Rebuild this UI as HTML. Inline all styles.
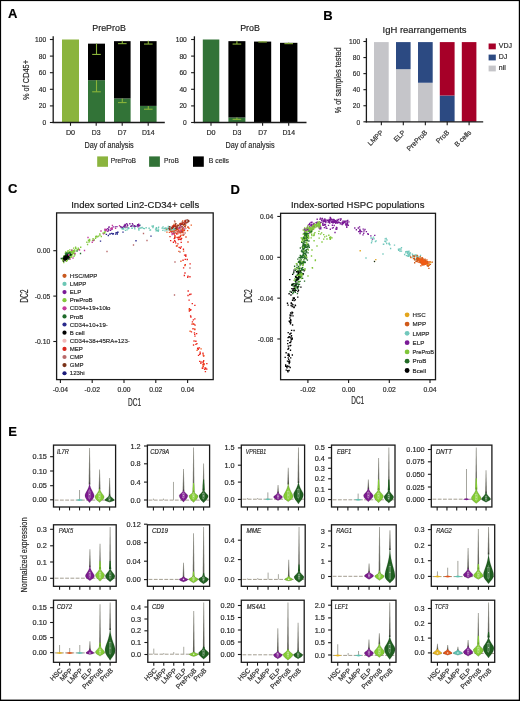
<!DOCTYPE html>
<html><head><meta charset="utf-8"><style>
html,body{margin:0;padding:0;background:#fff;}
body{width:520px;height:701px;overflow:hidden;}
svg{display:block;font-family:"Liberation Sans", sans-serif;will-change:transform;}
</style></head><body>
<svg width="520" height="701" viewBox="0 0 520 701">
<defs><linearGradient id="tg" x1="0" y1="0" x2="0" y2="1"><stop offset="0" stop-color="#a4a49c"/><stop offset="0.5" stop-color="#7a7a72"/><stop offset="1" stop-color="#55554d"/></linearGradient></defs>
<rect x="0" y="0" width="520" height="701" fill="#fff"/>
<text x="8" y="18.1" font-size="13" fill="#000" stroke="#000" stroke-width="0.18" font-weight="bold">A</text>
<text x="323.2" y="19.9" font-size="13" fill="#000" stroke="#000" stroke-width="0.18" font-weight="bold">B</text>
<text x="8" y="193.3" font-size="13" fill="#000" stroke="#000" stroke-width="0.18" font-weight="bold">C</text>
<text x="230.6" y="194" font-size="13" fill="#000" stroke="#000" stroke-width="0.18" font-weight="bold">D</text>
<text x="8.3" y="435.8" font-size="13" fill="#000" stroke="#000" stroke-width="0.18" font-weight="bold">E</text>
<rect x="62" y="39.5" width="17" height="83" fill="#8bb43e"/>
<rect x="88" y="80.17" width="17" height="42.33" fill="#327337"/>
<rect x="88" y="43.65" width="17" height="36.52" fill="#000"/>
<line x1="96.5" y1="43.65" x2="96.5" y2="54.44" stroke="#8ab43a" stroke-width="1.1"/>
<line x1="92.2" y1="54.44" x2="100.8" y2="54.44" stroke="#8ab43a" stroke-width="1.1"/>
<line x1="96.5" y1="80.17" x2="96.5" y2="91.79" stroke="#8ab43a" stroke-width="1.1"/>
<line x1="92.2" y1="91.79" x2="100.8" y2="91.79" stroke="#8ab43a" stroke-width="1.1"/>
<rect x="114" y="98.43" width="16.6" height="24.07" fill="#327337"/>
<rect x="114" y="41.16" width="16.6" height="57.27" fill="#000"/>
<line x1="122.3" y1="40.75" x2="122.3" y2="43.65" stroke="#8ab43a" stroke-width="1.1"/>
<line x1="118" y1="43.65" x2="126.6" y2="43.65" stroke="#8ab43a" stroke-width="1.1"/>
<line x1="122.3" y1="98.43" x2="122.3" y2="102.58" stroke="#8ab43a" stroke-width="1.1"/>
<line x1="118" y1="102.58" x2="126.6" y2="102.58" stroke="#8ab43a" stroke-width="1.1"/>
<rect x="140" y="105.9" width="16.6" height="16.6" fill="#327337"/>
<rect x="140" y="41.16" width="16.6" height="64.74" fill="#000"/>
<line x1="148.3" y1="40.75" x2="148.3" y2="44.06" stroke="#8ab43a" stroke-width="1.1"/>
<line x1="144" y1="44.06" x2="152.6" y2="44.06" stroke="#8ab43a" stroke-width="1.1"/>
<line x1="148.3" y1="105.9" x2="148.3" y2="109.22" stroke="#8ab43a" stroke-width="1.1"/>
<line x1="144" y1="109.22" x2="152.6" y2="109.22" stroke="#8ab43a" stroke-width="1.1"/>
<line x1="53.2" y1="36.3" x2="53.2" y2="123.1" stroke="#1a1a1a" stroke-width="1.3"/>
<line x1="52.6" y1="122.5" x2="164.8" y2="122.5" stroke="#1a1a1a" stroke-width="1.3"/>
<line x1="49.9" y1="122.5" x2="53.2" y2="122.5" stroke="#1a1a1a" stroke-width="1.1"/>
<text x="46.2" y="125.05" font-size="7.1" fill="#2a2a2a" stroke="#2a2a2a" stroke-width="0.18" text-anchor="end" textLength="3.7" lengthAdjust="spacingAndGlyphs">0</text>
<line x1="49.9" y1="105.9" x2="53.2" y2="105.9" stroke="#1a1a1a" stroke-width="1.1"/>
<text x="46.2" y="108.45" font-size="7.1" fill="#2a2a2a" stroke="#2a2a2a" stroke-width="0.18" text-anchor="end" textLength="7.4" lengthAdjust="spacingAndGlyphs">20</text>
<line x1="49.9" y1="89.3" x2="53.2" y2="89.3" stroke="#1a1a1a" stroke-width="1.1"/>
<text x="46.2" y="91.85" font-size="7.1" fill="#2a2a2a" stroke="#2a2a2a" stroke-width="0.18" text-anchor="end" textLength="7.4" lengthAdjust="spacingAndGlyphs">40</text>
<line x1="49.9" y1="72.7" x2="53.2" y2="72.7" stroke="#1a1a1a" stroke-width="1.1"/>
<text x="46.2" y="75.25" font-size="7.1" fill="#2a2a2a" stroke="#2a2a2a" stroke-width="0.18" text-anchor="end" textLength="7.4" lengthAdjust="spacingAndGlyphs">60</text>
<line x1="49.9" y1="56.1" x2="53.2" y2="56.1" stroke="#1a1a1a" stroke-width="1.1"/>
<text x="46.2" y="58.65" font-size="7.1" fill="#2a2a2a" stroke="#2a2a2a" stroke-width="0.18" text-anchor="end" textLength="7.4" lengthAdjust="spacingAndGlyphs">80</text>
<line x1="49.9" y1="39.5" x2="53.2" y2="39.5" stroke="#1a1a1a" stroke-width="1.1"/>
<text x="46.2" y="42.05" font-size="7.1" fill="#2a2a2a" stroke="#2a2a2a" stroke-width="0.18" text-anchor="end" textLength="11.1" lengthAdjust="spacingAndGlyphs">100</text>
<line x1="70.5" y1="122.5" x2="70.5" y2="125.8" stroke="#1a1a1a" stroke-width="1.1"/>
<text x="70.5" y="135.1" font-size="6.8" fill="#2a2a2a" stroke="#2a2a2a" stroke-width="0.18" text-anchor="middle" textLength="9.2" lengthAdjust="spacingAndGlyphs">D0</text>
<line x1="96.2" y1="122.5" x2="96.2" y2="125.8" stroke="#1a1a1a" stroke-width="1.1"/>
<text x="96.2" y="135.1" font-size="6.8" fill="#2a2a2a" stroke="#2a2a2a" stroke-width="0.18" text-anchor="middle" textLength="8.8" lengthAdjust="spacingAndGlyphs">D3</text>
<line x1="122.2" y1="122.5" x2="122.2" y2="125.8" stroke="#1a1a1a" stroke-width="1.1"/>
<text x="122.2" y="135.1" font-size="6.8" fill="#2a2a2a" stroke="#2a2a2a" stroke-width="0.18" text-anchor="middle" textLength="8.7" lengthAdjust="spacingAndGlyphs">D7</text>
<line x1="148.2" y1="122.5" x2="148.2" y2="125.8" stroke="#1a1a1a" stroke-width="1.1"/>
<text x="148.2" y="135.1" font-size="6.8" fill="#2a2a2a" stroke="#2a2a2a" stroke-width="0.18" text-anchor="middle" textLength="12.6" lengthAdjust="spacingAndGlyphs">D14</text>
<text x="109.1" y="30.5" font-size="8.9" fill="#222" stroke="#222" stroke-width="0.18" text-anchor="middle">PreProB</text>
<text x="109.1" y="148.1" font-size="8.6" fill="#2a2a2a" stroke="#2a2a2a" stroke-width="0.18" text-anchor="middle" textLength="49.2" lengthAdjust="spacingAndGlyphs">Day of analysis</text>
<rect x="202.8" y="39.5" width="16.5" height="83" fill="#327337"/>
<rect x="228.4" y="117.52" width="17" height="4.98" fill="#327337"/>
<rect x="228.4" y="41.16" width="17" height="76.36" fill="#000"/>
<line x1="236.9" y1="40.75" x2="236.9" y2="44.06" stroke="#8ab43a" stroke-width="1.1"/>
<line x1="232.6" y1="44.06" x2="241.2" y2="44.06" stroke="#8ab43a" stroke-width="1.1"/>
<line x1="236.9" y1="117.52" x2="236.9" y2="119.35" stroke="#8ab43a" stroke-width="1.1"/>
<line x1="232.6" y1="119.35" x2="241.2" y2="119.35" stroke="#8ab43a" stroke-width="1.1"/>
<rect x="254" y="41.58" width="17.2" height="80.92" fill="#000"/>
<line x1="262.6" y1="41.16" x2="262.6" y2="41.99" stroke="#8ab43a" stroke-width="1.1"/>
<line x1="258.3" y1="41.99" x2="266.9" y2="41.99" stroke="#8ab43a" stroke-width="1.1"/>
<rect x="280" y="42.82" width="17.4" height="79.68" fill="#000"/>
<line x1="288.7" y1="42.41" x2="288.7" y2="43.65" stroke="#8ab43a" stroke-width="1.1"/>
<line x1="284.4" y1="43.65" x2="293" y2="43.65" stroke="#8ab43a" stroke-width="1.1"/>
<line x1="194.4" y1="36.3" x2="194.4" y2="123.1" stroke="#1a1a1a" stroke-width="1.3"/>
<line x1="193.8" y1="122.5" x2="306.5" y2="122.5" stroke="#1a1a1a" stroke-width="1.3"/>
<line x1="191.1" y1="122.5" x2="194.4" y2="122.5" stroke="#1a1a1a" stroke-width="1.1"/>
<text x="186.8" y="125.05" font-size="7.1" fill="#2a2a2a" stroke="#2a2a2a" stroke-width="0.18" text-anchor="end" textLength="3.7" lengthAdjust="spacingAndGlyphs">0</text>
<line x1="191.1" y1="105.9" x2="194.4" y2="105.9" stroke="#1a1a1a" stroke-width="1.1"/>
<text x="186.8" y="108.45" font-size="7.1" fill="#2a2a2a" stroke="#2a2a2a" stroke-width="0.18" text-anchor="end" textLength="7.4" lengthAdjust="spacingAndGlyphs">20</text>
<line x1="191.1" y1="89.3" x2="194.4" y2="89.3" stroke="#1a1a1a" stroke-width="1.1"/>
<text x="186.8" y="91.85" font-size="7.1" fill="#2a2a2a" stroke="#2a2a2a" stroke-width="0.18" text-anchor="end" textLength="7.4" lengthAdjust="spacingAndGlyphs">40</text>
<line x1="191.1" y1="72.7" x2="194.4" y2="72.7" stroke="#1a1a1a" stroke-width="1.1"/>
<text x="186.8" y="75.25" font-size="7.1" fill="#2a2a2a" stroke="#2a2a2a" stroke-width="0.18" text-anchor="end" textLength="7.4" lengthAdjust="spacingAndGlyphs">60</text>
<line x1="191.1" y1="56.1" x2="194.4" y2="56.1" stroke="#1a1a1a" stroke-width="1.1"/>
<text x="186.8" y="58.65" font-size="7.1" fill="#2a2a2a" stroke="#2a2a2a" stroke-width="0.18" text-anchor="end" textLength="7.4" lengthAdjust="spacingAndGlyphs">80</text>
<line x1="191.1" y1="39.5" x2="194.4" y2="39.5" stroke="#1a1a1a" stroke-width="1.1"/>
<text x="186.8" y="42.05" font-size="7.1" fill="#2a2a2a" stroke="#2a2a2a" stroke-width="0.18" text-anchor="end" textLength="11.1" lengthAdjust="spacingAndGlyphs">100</text>
<line x1="211" y1="122.5" x2="211" y2="125.8" stroke="#1a1a1a" stroke-width="1.1"/>
<text x="211" y="135.1" font-size="6.8" fill="#2a2a2a" stroke="#2a2a2a" stroke-width="0.18" text-anchor="middle" textLength="9.2" lengthAdjust="spacingAndGlyphs">D0</text>
<line x1="236.9" y1="122.5" x2="236.9" y2="125.8" stroke="#1a1a1a" stroke-width="1.1"/>
<text x="236.9" y="135.1" font-size="6.8" fill="#2a2a2a" stroke="#2a2a2a" stroke-width="0.18" text-anchor="middle" textLength="8.8" lengthAdjust="spacingAndGlyphs">D3</text>
<line x1="262.6" y1="122.5" x2="262.6" y2="125.8" stroke="#1a1a1a" stroke-width="1.1"/>
<text x="262.6" y="135.1" font-size="6.8" fill="#2a2a2a" stroke="#2a2a2a" stroke-width="0.18" text-anchor="middle" textLength="8.7" lengthAdjust="spacingAndGlyphs">D7</text>
<line x1="288.7" y1="122.5" x2="288.7" y2="125.8" stroke="#1a1a1a" stroke-width="1.1"/>
<text x="288.7" y="135.1" font-size="6.8" fill="#2a2a2a" stroke="#2a2a2a" stroke-width="0.18" text-anchor="middle" textLength="12.6" lengthAdjust="spacingAndGlyphs">D14</text>
<text x="250" y="30.5" font-size="8.9" fill="#222" stroke="#222" stroke-width="0.18" text-anchor="middle">ProB</text>
<text x="250" y="148.1" font-size="8.6" fill="#2a2a2a" stroke="#2a2a2a" stroke-width="0.18" text-anchor="middle" textLength="49.2" lengthAdjust="spacingAndGlyphs">Day of analysis</text>
<text x="29.3" y="80" font-size="9.2" fill="#2a2a2a" stroke="#2a2a2a" stroke-width="0.18" text-anchor="middle" textLength="40" lengthAdjust="spacingAndGlyphs" transform="rotate(-90 29.3 80)">% of CD45+</text>
<rect x="97.2" y="156.4" width="10.8" height="10.4" fill="#8bb43e"/>
<rect x="149.1" y="156.4" width="10.8" height="10.4" fill="#327337"/>
<rect x="193" y="156.4" width="10.8" height="10.4" fill="#000"/>
<text x="110.8" y="163.4" font-size="7" fill="#2a2a2a" stroke="#2a2a2a" stroke-width="0.18" textLength="25.3" lengthAdjust="spacingAndGlyphs">PreProB</text>
<text x="164.1" y="163.4" font-size="7" fill="#2a2a2a" stroke="#2a2a2a" stroke-width="0.18" textLength="14.7" lengthAdjust="spacingAndGlyphs">ProB</text>
<text x="208.8" y="163.4" font-size="7" fill="#2a2a2a" stroke="#2a2a2a" stroke-width="0.18" textLength="20.2" lengthAdjust="spacingAndGlyphs">B cells</text>
<rect x="374" y="42.1" width="14.7" height="79.7" fill="#c5c5c9"/>
<rect x="396" y="69.2" width="14.6" height="52.6" fill="#c5c5c9"/>
<rect x="396" y="42.1" width="14.6" height="27.1" fill="#2c4a82"/>
<rect x="418" y="82.75" width="14.7" height="39.05" fill="#c5c5c9"/>
<rect x="418" y="42.1" width="14.7" height="40.65" fill="#2c4a82"/>
<rect x="439.8" y="95.5" width="14.8" height="26.3" fill="#2c4a82"/>
<rect x="439.8" y="42.1" width="14.8" height="53.4" fill="#a60028"/>
<rect x="461.8" y="42.1" width="14.6" height="79.7" fill="#a60028"/>
<line x1="366.4" y1="38.2" x2="366.4" y2="122.4" stroke="#1a1a1a" stroke-width="1.3"/>
<line x1="365.8" y1="121.8" x2="483.2" y2="121.8" stroke="#1a1a1a" stroke-width="1.3"/>
<line x1="363.4" y1="121.8" x2="366.4" y2="121.8" stroke="#1a1a1a" stroke-width="1.1"/>
<text x="360.2" y="124.5" font-size="7.6" fill="#2a2a2a" stroke="#2a2a2a" stroke-width="0.18" text-anchor="end" textLength="3.7" lengthAdjust="spacingAndGlyphs">0</text>
<line x1="363.4" y1="105.74" x2="366.4" y2="105.74" stroke="#1a1a1a" stroke-width="1.1"/>
<text x="360.2" y="108.44" font-size="7.6" fill="#2a2a2a" stroke="#2a2a2a" stroke-width="0.18" text-anchor="end" textLength="7.4" lengthAdjust="spacingAndGlyphs">20</text>
<line x1="363.4" y1="89.68" x2="366.4" y2="89.68" stroke="#1a1a1a" stroke-width="1.1"/>
<text x="360.2" y="92.38" font-size="7.6" fill="#2a2a2a" stroke="#2a2a2a" stroke-width="0.18" text-anchor="end" textLength="7.4" lengthAdjust="spacingAndGlyphs">40</text>
<line x1="363.4" y1="73.62" x2="366.4" y2="73.62" stroke="#1a1a1a" stroke-width="1.1"/>
<text x="360.2" y="76.32" font-size="7.6" fill="#2a2a2a" stroke="#2a2a2a" stroke-width="0.18" text-anchor="end" textLength="7.4" lengthAdjust="spacingAndGlyphs">60</text>
<line x1="363.4" y1="57.56" x2="366.4" y2="57.56" stroke="#1a1a1a" stroke-width="1.1"/>
<text x="360.2" y="60.26" font-size="7.6" fill="#2a2a2a" stroke="#2a2a2a" stroke-width="0.18" text-anchor="end" textLength="7.4" lengthAdjust="spacingAndGlyphs">80</text>
<line x1="363.4" y1="41.5" x2="366.4" y2="41.5" stroke="#1a1a1a" stroke-width="1.1"/>
<text x="360.2" y="44.2" font-size="7.6" fill="#2a2a2a" stroke="#2a2a2a" stroke-width="0.18" text-anchor="end" textLength="11.1" lengthAdjust="spacingAndGlyphs">100</text>
<line x1="381.35" y1="121.8" x2="381.35" y2="125.2" stroke="#1a1a1a" stroke-width="1.1"/>
<text x="383.85" y="133" font-size="6.9" fill="#2a2a2a" stroke="#2a2a2a" stroke-width="0.18" text-anchor="end" transform="rotate(-45 383.85 133)">LMPP</text>
<line x1="403.3" y1="121.8" x2="403.3" y2="125.2" stroke="#1a1a1a" stroke-width="1.1"/>
<text x="405.8" y="133" font-size="6.9" fill="#2a2a2a" stroke="#2a2a2a" stroke-width="0.18" text-anchor="end" transform="rotate(-45 405.8 133)">ELP</text>
<line x1="425.35" y1="121.8" x2="425.35" y2="125.2" stroke="#1a1a1a" stroke-width="1.1"/>
<text x="427.85" y="133" font-size="6.9" fill="#2a2a2a" stroke="#2a2a2a" stroke-width="0.18" text-anchor="end" transform="rotate(-45 427.85 133)">PreProB</text>
<line x1="447.2" y1="121.8" x2="447.2" y2="125.2" stroke="#1a1a1a" stroke-width="1.1"/>
<text x="449.7" y="133" font-size="6.9" fill="#2a2a2a" stroke="#2a2a2a" stroke-width="0.18" text-anchor="end" transform="rotate(-45 449.7 133)">ProB</text>
<line x1="469.1" y1="121.8" x2="469.1" y2="125.2" stroke="#1a1a1a" stroke-width="1.1"/>
<text x="471.6" y="133" font-size="6.9" fill="#2a2a2a" stroke="#2a2a2a" stroke-width="0.18" text-anchor="end" transform="rotate(-45 471.6 133)">B cells</text>
<text x="341.5" y="80.3" font-size="9" fill="#2a2a2a" stroke="#2a2a2a" stroke-width="0.18" text-anchor="middle" textLength="66" lengthAdjust="spacingAndGlyphs" transform="rotate(-90 341.5 80.3)">% of samples tested</text>
<text x="424.6" y="33" font-size="9.6" fill="#222" stroke="#222" stroke-width="0.18" text-anchor="middle" textLength="84" lengthAdjust="spacingAndGlyphs">IgH rearrangements</text>
<rect x="488.6" y="43.5" width="7.2" height="5.8" fill="#a60028"/>
<text x="498.8" y="48.25" font-size="7" fill="#2a2a2a" stroke="#2a2a2a" stroke-width="0.18">VDJ</text>
<rect x="488.6" y="54.6" width="7.2" height="5.8" fill="#2c4a82"/>
<text x="498.8" y="59.35" font-size="7" fill="#2a2a2a" stroke="#2a2a2a" stroke-width="0.18">DJ</text>
<rect x="488.6" y="65.6" width="7.2" height="5.8" fill="#c5c5c9"/>
<text x="498.8" y="70.35" font-size="7" fill="#2a2a2a" stroke="#2a2a2a" stroke-width="0.18">nil</text>
<path fill="#6cc7b5" d="M138.09 228.09h1.35v1.35h-1.35zM123.18 226.45h1.35v1.35h-1.35zM122.54 227.28h1.35v1.35h-1.35zM143.67 227.92h1.35v1.35h-1.35zM142.79 227.68h1.35v1.35h-1.35zM130.64 225.04h1.35v1.35h-1.35zM152.7 225.32h1.35v1.35h-1.35zM121.59 228.3h1.35v1.35h-1.35zM127.8 228.02h1.35v1.35h-1.35zM165.77 228.93h1.35v1.35h-1.35zM155.67 226.98h1.35v1.35h-1.35zM123.04 228.34h1.35v1.35h-1.35zM157.68 227.17h1.35v1.35h-1.35zM152.28 226.95h1.35v1.35h-1.35zM163.39 228.01h1.35v1.35h-1.35zM151.36 225.47h1.35v1.35h-1.35zM161.82 227.45h1.35v1.35h-1.35zM126.31 225.6h1.35v1.35h-1.35zM127.82 226.92h1.35v1.35h-1.35zM155.95 228.19h1.35v1.35h-1.35zM169.17 227.38h1.35v1.35h-1.35zM152.31 226.76h1.35v1.35h-1.35zM166.19 229.52h1.35v1.35h-1.35zM156.79 229.81h1.35v1.35h-1.35zM155.43 230.26h1.35v1.35h-1.35zM135.93 225.59h1.35v1.35h-1.35zM120.63 227.03h1.35v1.35h-1.35zM126.38 229.27h1.35v1.35h-1.35zM127.16 227.32h1.35v1.35h-1.35zM168.49 229.28h1.35v1.35h-1.35zM149.28 229.47h1.35v1.35h-1.35zM168.31 227.92h1.35v1.35h-1.35zM138.25 229.35h1.35v1.35h-1.35zM128.19 227.62h1.35v1.35h-1.35zM132.35 225.36h1.35v1.35h-1.35zM134.13 228.09h1.35v1.35h-1.35zM139.57 224.45h1.35v1.35h-1.35zM157.96 226.46h1.35v1.35h-1.35zM157.53 230.53h1.35v1.35h-1.35zM162.19 229.77h1.35v1.35h-1.35zM141.48 226.85h1.35v1.35h-1.35zM154.9 228.43h1.35v1.35h-1.35zM131.51 227.59h1.35v1.35h-1.35zM122.31 228.31h1.35v1.35h-1.35zM125.09 227.26h1.35v1.35h-1.35zM168.04 227.64h1.35v1.35h-1.35zM133.86 226.2h1.35v1.35h-1.35zM124.81 229.67h1.35v1.35h-1.35zM145.46 227.06h1.35v1.35h-1.35zM125.4 226.9h1.35v1.35h-1.35zM165.85 228.39h1.35v1.35h-1.35zM172.49 227.29h1.35v1.35h-1.35zM149.8 229.29h1.35v1.35h-1.35zM173.48 229.12h1.35v1.35h-1.35zM134.17 226.35h1.35v1.35h-1.35zM162.4 226.22h1.35v1.35h-1.35zM138.83 227.5h1.35v1.35h-1.35zM173.67 229.21h1.35v1.35h-1.35zM164.72 228.25h1.35v1.35h-1.35zM148.42 227.59h1.35v1.35h-1.35zM121.33 227.52h1.35v1.35h-1.35zM157.88 229.37h1.35v1.35h-1.35zM171.82 230.97h1.35v1.35h-1.35zM140.14 227.37h1.35v1.35h-1.35zM131.17 227.51h1.35v1.35h-1.35zM169.2 228.84h1.35v1.35h-1.35zM155.63 228.19h1.35v1.35h-1.35zM155.68 229.81h1.35v1.35h-1.35zM161.4 227.48h1.35v1.35h-1.35zM164.48 227.26h1.35v1.35h-1.35z"/>
<path fill="#7a1a96" d="M138.93 224.84h1.35v1.35h-1.35zM137.3 225.28h1.35v1.35h-1.35zM108.13 229.51h1.35v1.35h-1.35zM133.49 225.85h1.35v1.35h-1.35zM138.39 225.05h1.35v1.35h-1.35zM123.86 224.53h1.35v1.35h-1.35zM138.02 224.73h1.35v1.35h-1.35zM138.04 223.46h1.35v1.35h-1.35zM133.97 224.89h1.35v1.35h-1.35zM114.62 226.14h1.35v1.35h-1.35zM112.52 226.17h1.35v1.35h-1.35zM137.03 224.58h1.35v1.35h-1.35zM124.73 225.27h1.35v1.35h-1.35zM136.93 223.93h1.35v1.35h-1.35zM123.11 225.72h1.35v1.35h-1.35zM109.89 229.59h1.35v1.35h-1.35zM108.43 226.15h1.35v1.35h-1.35zM124.54 223.67h1.35v1.35h-1.35zM123.79 224.53h1.35v1.35h-1.35zM124.64 224.28h1.35v1.35h-1.35zM131.75 222.91h1.35v1.35h-1.35zM131.05 225.34h1.35v1.35h-1.35zM126.09 223.01h1.35v1.35h-1.35zM129.2 223.03h1.35v1.35h-1.35zM121.11 226.47h1.35v1.35h-1.35zM134.98 225.71h1.35v1.35h-1.35zM124.14 226.36h1.35v1.35h-1.35zM107.88 229.03h1.35v1.35h-1.35zM104.26 229.5h1.35v1.35h-1.35zM127.02 224.82h1.35v1.35h-1.35zM107.14 228.02h1.35v1.35h-1.35zM107.18 230.61h1.35v1.35h-1.35zM111.03 228.28h1.35v1.35h-1.35zM121.77 226.85h1.35v1.35h-1.35zM108.22 226.78h1.35v1.35h-1.35zM116.24 226h1.35v1.35h-1.35zM130.12 225.71h1.35v1.35h-1.35zM119.94 226.05h1.35v1.35h-1.35zM126.51 223.93h1.35v1.35h-1.35zM137.3 226.11h1.35v1.35h-1.35zM105.81 228.86h1.35v1.35h-1.35zM132.31 224.25h1.35v1.35h-1.35z"/>
<path fill="#c43a9c" d="M114.9 227.65h1.35v1.35h-1.35zM111.67 228.32h1.35v1.35h-1.35zM118.86 225.08h1.35v1.35h-1.35zM104.33 228.62h1.35v1.35h-1.35zM105.42 230.09h1.35v1.35h-1.35zM126.28 226.39h1.35v1.35h-1.35zM104.95 229.6h1.35v1.35h-1.35zM111.7 224.69h1.35v1.35h-1.35zM111.35 227.91h1.35v1.35h-1.35zM110.19 227.84h1.35v1.35h-1.35zM105.18 229.06h1.35v1.35h-1.35zM111.33 227.09h1.35v1.35h-1.35z"/>
<path fill="#2a2a8c" d="M112.69 233.1h1.35v1.35h-1.35zM105.66 233.77h1.35v1.35h-1.35zM115.44 232.01h1.35v1.35h-1.35zM111.87 233.18h1.35v1.35h-1.35zM116.93 231.51h1.35v1.35h-1.35zM117.28 231.61h1.35v1.35h-1.35zM114.94 233.42h1.35v1.35h-1.35zM116.33 232.17h1.35v1.35h-1.35zM111.05 232.7h1.35v1.35h-1.35zM107.66 234.79h1.35v1.35h-1.35zM109.07 233.4h1.35v1.35h-1.35zM116.66 233.41h1.35v1.35h-1.35zM109.62 233.15h1.35v1.35h-1.35zM112.16 233.31h1.35v1.35h-1.35z"/>
<path fill="#2a2a8c" d="M99.83 240.52h1.35v1.35h-1.35zM135.32 240.12h1.35v1.35h-1.35zM150.32 235.52h1.35v1.35h-1.35zM122.33 231.52h1.35v1.35h-1.35z"/>
<path fill="#ea5a20" d="M177.98 236.54h1.35v1.35h-1.35zM184.37 226.36h1.35v1.35h-1.35zM179.78 236.23h1.35v1.35h-1.35zM175.98 231.88h1.35v1.35h-1.35zM183.03 227.39h1.35v1.35h-1.35zM170.68 231.1h1.35v1.35h-1.35zM180.25 231.58h1.35v1.35h-1.35zM181.89 227.73h1.35v1.35h-1.35zM182.69 229.13h1.35v1.35h-1.35zM178.56 228.68h1.35v1.35h-1.35zM176.42 231.18h1.35v1.35h-1.35zM170.73 228.56h1.35v1.35h-1.35zM176.27 224.56h1.35v1.35h-1.35zM173.3 223.63h1.35v1.35h-1.35zM173.78 231.49h1.35v1.35h-1.35zM180.58 227.83h1.35v1.35h-1.35zM174.92 225.05h1.35v1.35h-1.35zM188.33 227.61h1.35v1.35h-1.35zM183.03 224.64h1.35v1.35h-1.35zM174.9 223.81h1.35v1.35h-1.35zM182.56 230.38h1.35v1.35h-1.35zM166.26 231.49h1.35v1.35h-1.35zM179.68 222.77h1.35v1.35h-1.35zM165.92 228.44h1.35v1.35h-1.35zM172.63 225.68h1.35v1.35h-1.35zM177.69 229.5h1.35v1.35h-1.35zM181.53 229.92h1.35v1.35h-1.35zM186.92 229.98h1.35v1.35h-1.35zM169.32 229.3h1.35v1.35h-1.35zM170.36 227.27h1.35v1.35h-1.35zM176.86 228.96h1.35v1.35h-1.35zM179 223.48h1.35v1.35h-1.35zM170.11 230.6h1.35v1.35h-1.35zM175.93 228.22h1.35v1.35h-1.35zM176.39 226.71h1.35v1.35h-1.35zM181.66 228.81h1.35v1.35h-1.35zM176.32 227h1.35v1.35h-1.35zM174.29 221.17h1.35v1.35h-1.35zM171.65 230.39h1.35v1.35h-1.35zM168.73 231.64h1.35v1.35h-1.35zM177.16 224.6h1.35v1.35h-1.35zM175.64 228.28h1.35v1.35h-1.35zM180.45 229.92h1.35v1.35h-1.35zM176.48 226.4h1.35v1.35h-1.35zM176.44 228.85h1.35v1.35h-1.35zM181.81 228.59h1.35v1.35h-1.35zM172.12 225.96h1.35v1.35h-1.35zM174.61 227.23h1.35v1.35h-1.35zM170.78 230.14h1.35v1.35h-1.35zM174.55 229.86h1.35v1.35h-1.35zM180.06 226.85h1.35v1.35h-1.35zM190.6 224.44h1.35v1.35h-1.35zM183.82 227.54h1.35v1.35h-1.35zM182.05 220.26h1.35v1.35h-1.35zM173.14 230.66h1.35v1.35h-1.35zM182.56 234.72h1.35v1.35h-1.35zM180.15 232.07h1.35v1.35h-1.35zM182.48 230.44h1.35v1.35h-1.35zM180.17 227.61h1.35v1.35h-1.35zM179.48 224.94h1.35v1.35h-1.35zM183.44 224.11h1.35v1.35h-1.35zM180.35 234.62h1.35v1.35h-1.35zM176.04 229.21h1.35v1.35h-1.35zM184.11 227.17h1.35v1.35h-1.35zM172.82 230.77h1.35v1.35h-1.35zM181.24 230.02h1.35v1.35h-1.35zM174.13 235.07h1.35v1.35h-1.35zM187.03 226.4h1.35v1.35h-1.35zM178.57 227.18h1.35v1.35h-1.35zM185.02 224.68h1.35v1.35h-1.35z"/>
<path fill="#e3341a" d="M179.02 230.08h1.35v1.35h-1.35zM173.55 233.19h1.35v1.35h-1.35zM181.66 231.3h1.35v1.35h-1.35zM173.62 233.43h1.35v1.35h-1.35zM176.13 232.13h1.35v1.35h-1.35zM182.42 234.27h1.35v1.35h-1.35zM174.25 237.26h1.35v1.35h-1.35zM176.34 233.37h1.35v1.35h-1.35zM173.74 231.21h1.35v1.35h-1.35zM169.33 235.97h1.35v1.35h-1.35zM181.79 228.17h1.35v1.35h-1.35zM170.3 227.11h1.35v1.35h-1.35zM181.03 230.13h1.35v1.35h-1.35zM176.08 230.51h1.35v1.35h-1.35zM175.84 228.5h1.35v1.35h-1.35zM176.42 227.59h1.35v1.35h-1.35zM176.04 232.13h1.35v1.35h-1.35zM178.2 230.72h1.35v1.35h-1.35zM172.71 231.74h1.35v1.35h-1.35zM174.39 235.4h1.35v1.35h-1.35zM179.4 231.03h1.35v1.35h-1.35zM174.44 229.5h1.35v1.35h-1.35zM172.58 230.41h1.35v1.35h-1.35zM177.5 232.67h1.35v1.35h-1.35zM178.6 236.78h1.35v1.35h-1.35zM173.51 231.36h1.35v1.35h-1.35zM187.5 226.47h1.35v1.35h-1.35zM174.24 231.77h1.35v1.35h-1.35zM176.94 232.39h1.35v1.35h-1.35zM175.37 232.28h1.35v1.35h-1.35zM176.54 233.33h1.35v1.35h-1.35zM168.75 229.02h1.35v1.35h-1.35zM176.32 228.64h1.35v1.35h-1.35zM172.15 232.96h1.35v1.35h-1.35zM173.73 232.98h1.35v1.35h-1.35zM179.31 232.12h1.35v1.35h-1.35zM178.36 231.05h1.35v1.35h-1.35zM170.69 231.25h1.35v1.35h-1.35zM178.14 229.95h1.35v1.35h-1.35zM175.93 233.27h1.35v1.35h-1.35zM172.81 232.99h1.35v1.35h-1.35zM183.78 229.88h1.35v1.35h-1.35zM176.91 230.93h1.35v1.35h-1.35zM182.49 232.15h1.35v1.35h-1.35zM179.92 229.53h1.35v1.35h-1.35z"/>
<path fill="#6cc7b5" d="M172.25 227.81h1.35v1.35h-1.35zM164.33 230.13h1.35v1.35h-1.35zM176.37 225.03h1.35v1.35h-1.35zM175.67 227.62h1.35v1.35h-1.35zM174.34 228.41h1.35v1.35h-1.35zM165.58 227.49h1.35v1.35h-1.35zM179.04 226.91h1.35v1.35h-1.35zM167.72 225.65h1.35v1.35h-1.35zM166.83 228.36h1.35v1.35h-1.35zM179.94 228.51h1.35v1.35h-1.35zM173.43 231.4h1.35v1.35h-1.35zM169.99 226.75h1.35v1.35h-1.35zM174.7 228.7h1.35v1.35h-1.35zM167.76 225.95h1.35v1.35h-1.35zM173.63 228.22h1.35v1.35h-1.35zM166.44 227.5h1.35v1.35h-1.35zM169.88 228.56h1.35v1.35h-1.35zM171.8 227.69h1.35v1.35h-1.35zM170.73 229.51h1.35v1.35h-1.35zM178.58 227.24h1.35v1.35h-1.35zM176.13 226.61h1.35v1.35h-1.35zM172.65 229.02h1.35v1.35h-1.35z"/>
<path fill="#7a3218" d="M186.41 221.93h1.35v1.35h-1.35zM181.25 225.84h1.35v1.35h-1.35zM175.94 227.96h1.35v1.35h-1.35zM179.25 227.24h1.35v1.35h-1.35zM175.36 223.37h1.35v1.35h-1.35zM181.71 225.77h1.35v1.35h-1.35zM180.2 228.04h1.35v1.35h-1.35zM179.76 224.6h1.35v1.35h-1.35zM181.55 221.39h1.35v1.35h-1.35zM178.87 226.46h1.35v1.35h-1.35zM184.23 223.53h1.35v1.35h-1.35zM181.81 223.49h1.35v1.35h-1.35zM184 228.1h1.35v1.35h-1.35zM181.12 231.21h1.35v1.35h-1.35zM179.02 226.48h1.35v1.35h-1.35zM182.93 227.05h1.35v1.35h-1.35zM174.86 223.32h1.35v1.35h-1.35zM184.27 225.85h1.35v1.35h-1.35z"/>
<path fill="#b86a6a" d="M183.33 233.94h1.35v1.35h-1.35zM179.5 228.65h1.35v1.35h-1.35zM183.05 227.87h1.35v1.35h-1.35zM185.32 222.79h1.35v1.35h-1.35zM173.89 220.32h1.35v1.35h-1.35zM181.92 226.2h1.35v1.35h-1.35zM184.39 232.31h1.35v1.35h-1.35zM178.1 227.7h1.35v1.35h-1.35zM175.29 226.98h1.35v1.35h-1.35zM175.81 230.84h1.35v1.35h-1.35zM178.55 228.44h1.35v1.35h-1.35zM178.2 230.85h1.35v1.35h-1.35zM180.58 227.24h1.35v1.35h-1.35zM181.38 226.97h1.35v1.35h-1.35z"/>
<path fill="#c43a9c" d="M173.4 233.04h1.35v1.35h-1.35zM180.13 225.52h1.35v1.35h-1.35zM183.78 228.1h1.35v1.35h-1.35zM171.46 233.82h1.35v1.35h-1.35zM180.4 230.18h1.35v1.35h-1.35zM179.22 227.76h1.35v1.35h-1.35zM171.22 232.24h1.35v1.35h-1.35zM178.33 227.59h1.35v1.35h-1.35z"/>
<path fill="#f2b8b8" d="M179.08 229.17h1.35v1.35h-1.35zM180.45 227.74h1.35v1.35h-1.35zM176.08 224.12h1.35v1.35h-1.35zM175.59 231.4h1.35v1.35h-1.35zM183.69 227.11h1.35v1.35h-1.35zM177.52 233.33h1.35v1.35h-1.35zM176.09 231.45h1.35v1.35h-1.35zM185.57 227.76h1.35v1.35h-1.35z"/>
<path fill="#8a2a1a" d="M184.81 219.83h1.35v1.35h-1.35zM168.36 227.67h1.35v1.35h-1.35zM187.28 221.09h1.35v1.35h-1.35zM172.7 225.5h1.35v1.35h-1.35zM187.4 220.81h1.35v1.35h-1.35zM182.46 223.53h1.35v1.35h-1.35zM180.27 223.3h1.35v1.35h-1.35zM174.94 226h1.35v1.35h-1.35zM171.23 226.86h1.35v1.35h-1.35zM169.1 228.53h1.35v1.35h-1.35zM174.65 227.9h1.35v1.35h-1.35zM187.74 219.83h1.35v1.35h-1.35zM169.06 225.93h1.35v1.35h-1.35zM177.3 225.08h1.35v1.35h-1.35zM179.48 223.3h1.35v1.35h-1.35zM184.57 221.33h1.35v1.35h-1.35zM185.07 220.97h1.35v1.35h-1.35zM175.04 225.9h1.35v1.35h-1.35zM172.89 226.45h1.35v1.35h-1.35zM185.07 220.52h1.35v1.35h-1.35zM176.2 226.61h1.35v1.35h-1.35zM171.81 227.19h1.35v1.35h-1.35zM188.31 220.49h1.35v1.35h-1.35zM184.09 223.09h1.35v1.35h-1.35zM168.37 227.44h1.35v1.35h-1.35zM171.58 227.97h1.35v1.35h-1.35zM186.44 219.15h1.35v1.35h-1.35zM177.56 224.76h1.35v1.35h-1.35zM187.56 221.06h1.35v1.35h-1.35zM180.81 223.66h1.35v1.35h-1.35z"/>
<path fill="#c0301c" d="M173.95 225.63h1.35v1.35h-1.35zM180.7 222.82h1.35v1.35h-1.35zM171.84 225.56h1.35v1.35h-1.35zM174.5 225.05h1.35v1.35h-1.35zM183.96 221.47h1.35v1.35h-1.35zM173.01 224.92h1.35v1.35h-1.35zM181.93 223.07h1.35v1.35h-1.35zM182.48 221.8h1.35v1.35h-1.35zM176.43 225.32h1.35v1.35h-1.35zM180.61 222.64h1.35v1.35h-1.35zM185.48 221.94h1.35v1.35h-1.35zM174.25 225.27h1.35v1.35h-1.35zM171.41 227.02h1.35v1.35h-1.35zM184.38 220.09h1.35v1.35h-1.35z"/>
<path fill="#e8201a" d="M190.16 309.04h1.35v1.35h-1.35zM194.16 318.17h1.35v1.35h-1.35zM183.89 254.38h1.35v1.35h-1.35zM189.94 315.17h1.35v1.35h-1.35zM190.24 316.37h1.35v1.35h-1.35zM188.69 310.35h1.35v1.35h-1.35zM183.69 274.87h1.35v1.35h-1.35zM205.05 367.6h1.35v1.35h-1.35zM206.16 362.9h1.35v1.35h-1.35zM192.34 328.12h1.35v1.35h-1.35zM197.53 348.57h1.35v1.35h-1.35zM198.99 353.75h1.35v1.35h-1.35zM189.27 276.1h1.35v1.35h-1.35zM188.42 299.42h1.35v1.35h-1.35zM195.17 340.62h1.35v1.35h-1.35zM191.75 321.27h1.35v1.35h-1.35zM197.84 354.7h1.35v1.35h-1.35zM192.7 319.27h1.35v1.35h-1.35zM191.62 302.92h1.35v1.35h-1.35zM195.93 333.02h1.35v1.35h-1.35zM180.55 241.69h1.35v1.35h-1.35zM187.06 276.55h1.35v1.35h-1.35zM189.43 309.65h1.35v1.35h-1.35zM182.37 259.56h1.35v1.35h-1.35zM185.15 255.64h1.35v1.35h-1.35zM180.56 246.13h1.35v1.35h-1.35zM195.22 340.61h1.35v1.35h-1.35zM182.75 248.62h1.35v1.35h-1.35zM201.56 367.48h1.35v1.35h-1.35zM204.96 368.07h1.35v1.35h-1.35zM184.32 272.33h1.35v1.35h-1.35zM202.63 365.88h1.35v1.35h-1.35zM196.96 347.85h1.35v1.35h-1.35zM188.99 293.85h1.35v1.35h-1.35zM202.66 361.01h1.35v1.35h-1.35zM189.44 263.24h1.35v1.35h-1.35zM187.37 275.4h1.35v1.35h-1.35zM187.5 290.34h1.35v1.35h-1.35zM182.93 267.21h1.35v1.35h-1.35zM200.36 361.34h1.35v1.35h-1.35zM186.58 258.84h1.35v1.35h-1.35zM187.34 294.87h1.35v1.35h-1.35zM191.37 323.48h1.35v1.35h-1.35zM206.11 368.45h1.35v1.35h-1.35zM199.48 351.51h1.35v1.35h-1.35zM194.39 324.38h1.35v1.35h-1.35zM188.79 308.09h1.35v1.35h-1.35zM179.72 247.58h1.35v1.35h-1.35zM190.8 331.15h1.35v1.35h-1.35zM194.04 333.69h1.35v1.35h-1.35zM178.45 246.66h1.35v1.35h-1.35zM194.2 304.63h1.35v1.35h-1.35zM184.57 264.03h1.35v1.35h-1.35zM177.25 243.16h1.35v1.35h-1.35zM184.58 258.66h1.35v1.35h-1.35zM193.25 323.62h1.35v1.35h-1.35zM194.11 328.83h1.35v1.35h-1.35zM203.11 364.27h1.35v1.35h-1.35zM185.16 254.34h1.35v1.35h-1.35zM198.77 347.13h1.35v1.35h-1.35zM179.59 238.65h1.35v1.35h-1.35zM190.32 293.39h1.35v1.35h-1.35z"/>
<path fill="#ec2a1c" d="M204.36 367.2h1.35v1.35h-1.35zM202.08 367.58h1.35v1.35h-1.35zM197.48 347.45h1.35v1.35h-1.35zM200.17 362.53h1.35v1.35h-1.35zM203.95 368.72h1.35v1.35h-1.35zM202.49 354.18h1.35v1.35h-1.35zM202.29 363.95h1.35v1.35h-1.35zM192.87 344.37h1.35v1.35h-1.35zM202.36 361.78h1.35v1.35h-1.35zM202.89 363.32h1.35v1.35h-1.35zM203.04 360.06h1.35v1.35h-1.35zM194.28 335.4h1.35v1.35h-1.35zM196.25 343.01h1.35v1.35h-1.35zM203.27 363.56h1.35v1.35h-1.35zM202.32 352.59h1.35v1.35h-1.35zM199.6 352.87h1.35v1.35h-1.35zM204.73 370.94h1.35v1.35h-1.35zM193.77 332.14h1.35v1.35h-1.35zM199.02 360.76h1.35v1.35h-1.35zM195.23 343.77h1.35v1.35h-1.35zM193.39 340.34h1.35v1.35h-1.35zM202.9 355.51h1.35v1.35h-1.35z"/>
<path fill="#f05a20" d="M188.66 308.82h1.35v1.35h-1.35zM203.15 354.94h1.35v1.35h-1.35zM192.52 323.09h1.35v1.35h-1.35zM189.42 330.58h1.35v1.35h-1.35zM184.24 264.83h1.35v1.35h-1.35zM203.42 363.15h1.35v1.35h-1.35zM176.68 245.24h1.35v1.35h-1.35zM194.03 328.41h1.35v1.35h-1.35zM182.91 250.38h1.35v1.35h-1.35zM196.41 349.72h1.35v1.35h-1.35zM178.2 250.65h1.35v1.35h-1.35zM202.4 365.28h1.35v1.35h-1.35zM180.24 260.59h1.35v1.35h-1.35zM200.42 348.26h1.35v1.35h-1.35z"/>
<path fill="#e8201a" d="M174.09 236.81h1.35v1.35h-1.35zM177.79 238.99h1.35v1.35h-1.35zM176.45 236.63h1.35v1.35h-1.35zM174.56 240.71h1.35v1.35h-1.35zM179.38 238.58h1.35v1.35h-1.35zM175.03 242.21h1.35v1.35h-1.35zM173.95 239.95h1.35v1.35h-1.35zM180.94 237.66h1.35v1.35h-1.35zM179.63 235.54h1.35v1.35h-1.35zM180.38 238.82h1.35v1.35h-1.35zM169.98 240h1.35v1.35h-1.35zM172.76 241.53h1.35v1.35h-1.35zM173.61 237.91h1.35v1.35h-1.35zM177.46 237.49h1.35v1.35h-1.35z"/>
<path fill="#b86a6a" d="M174.32 261.32h1.35v1.35h-1.35zM189.32 267.32h1.35v1.35h-1.35zM173.82 294.32h1.35v1.35h-1.35zM179.32 251.32h1.35v1.35h-1.35zM132.82 244.32h1.35v1.35h-1.35zM106.33 250.82h1.35v1.35h-1.35zM146.32 239.82h1.35v1.35h-1.35zM142.82 232.82h1.35v1.35h-1.35z"/>
<path fill="#e8401a" d="M185.32 236.32h1.35v1.35h-1.35zM187.32 241.32h1.35v1.35h-1.35zM175.82 245.32h1.35v1.35h-1.35z"/>
<path fill="#82c83c" d="M95.28 236.88h1.35v1.35h-1.35zM66.68 256.72h1.35v1.35h-1.35zM62.04 258.82h1.35v1.35h-1.35zM94.79 237.77h1.35v1.35h-1.35zM72.48 251.72h1.35v1.35h-1.35zM102.34 232.38h1.35v1.35h-1.35zM88.62 240.26h1.35v1.35h-1.35zM86.88 243.81h1.35v1.35h-1.35zM88.29 241.47h1.35v1.35h-1.35zM72.77 250.03h1.35v1.35h-1.35zM100.63 235.84h1.35v1.35h-1.35zM63.61 259.44h1.35v1.35h-1.35zM99.14 233.19h1.35v1.35h-1.35zM99.31 234.48h1.35v1.35h-1.35zM80.03 246.61h1.35v1.35h-1.35zM86.2 241.6h1.35v1.35h-1.35zM66.34 257.89h1.35v1.35h-1.35zM91.86 239.68h1.35v1.35h-1.35zM92.4 238.06h1.35v1.35h-1.35zM77.74 248.87h1.35v1.35h-1.35zM67.57 254.87h1.35v1.35h-1.35zM96.95 236.24h1.35v1.35h-1.35zM69.13 253.37h1.35v1.35h-1.35zM66.43 256.17h1.35v1.35h-1.35zM103.64 231.73h1.35v1.35h-1.35zM103.87 232.68h1.35v1.35h-1.35zM103.9 232.23h1.35v1.35h-1.35zM77.33 249.01h1.35v1.35h-1.35zM65.52 257.82h1.35v1.35h-1.35zM62.69 257.85h1.35v1.35h-1.35zM87.8 239.55h1.35v1.35h-1.35zM78.69 248.7h1.35v1.35h-1.35zM73.97 250.21h1.35v1.35h-1.35zM75.03 247.86h1.35v1.35h-1.35zM76.68 249.06h1.35v1.35h-1.35zM97.94 235.5h1.35v1.35h-1.35zM96.05 235.58h1.35v1.35h-1.35zM77.6 247.55h1.35v1.35h-1.35zM63.94 256.59h1.35v1.35h-1.35zM89.06 239.96h1.35v1.35h-1.35zM75.36 247.85h1.35v1.35h-1.35zM73.72 249.18h1.35v1.35h-1.35zM65.77 255.77h1.35v1.35h-1.35zM72.95 247.51h1.35v1.35h-1.35zM62.9 258.92h1.35v1.35h-1.35zM93.67 239.32h1.35v1.35h-1.35zM63.74 257.37h1.35v1.35h-1.35zM88.99 238.85h1.35v1.35h-1.35zM95.08 235.66h1.35v1.35h-1.35zM103.24 232.52h1.35v1.35h-1.35zM74.32 250.21h1.35v1.35h-1.35zM104.44 231.07h1.35v1.35h-1.35zM69.94 253.28h1.35v1.35h-1.35zM75.29 247.86h1.35v1.35h-1.35zM73.1 250.79h1.35v1.35h-1.35z"/>
<path fill="#82c83c" d="M65.11 251.34h1.35v1.35h-1.35zM66.08 256.05h1.35v1.35h-1.35zM68.16 252.35h1.35v1.35h-1.35zM69.31 254.98h1.35v1.35h-1.35zM67.1 251.13h1.35v1.35h-1.35zM65.05 255.12h1.35v1.35h-1.35zM65.99 255.75h1.35v1.35h-1.35zM70.83 251.98h1.35v1.35h-1.35zM63.03 255.35h1.35v1.35h-1.35zM68.47 251.89h1.35v1.35h-1.35zM68.72 257.17h1.35v1.35h-1.35zM73.98 253.22h1.35v1.35h-1.35zM66.55 259.73h1.35v1.35h-1.35zM69.16 256.21h1.35v1.35h-1.35zM69.51 256.14h1.35v1.35h-1.35zM68.49 254.55h1.35v1.35h-1.35zM66.93 253.69h1.35v1.35h-1.35zM69.42 255.71h1.35v1.35h-1.35zM65.31 257.3h1.35v1.35h-1.35zM64.1 255.22h1.35v1.35h-1.35zM65.89 260.77h1.35v1.35h-1.35zM68.63 253.61h1.35v1.35h-1.35zM69.13 249.18h1.35v1.35h-1.35zM68.04 253.44h1.35v1.35h-1.35zM68.95 251h1.35v1.35h-1.35zM68.8 254.18h1.35v1.35h-1.35zM72.03 250.46h1.35v1.35h-1.35zM68.88 255.21h1.35v1.35h-1.35zM70.39 254.25h1.35v1.35h-1.35zM67.7 252.81h1.35v1.35h-1.35zM74.21 254.1h1.35v1.35h-1.35zM68.1 253.27h1.35v1.35h-1.35zM70.51 250.64h1.35v1.35h-1.35zM67.46 251.66h1.35v1.35h-1.35zM71.22 249.52h1.35v1.35h-1.35zM68.72 252.83h1.35v1.35h-1.35zM65.64 253.88h1.35v1.35h-1.35zM66.88 253.07h1.35v1.35h-1.35zM70.16 250.95h1.35v1.35h-1.35zM68.99 255.76h1.35v1.35h-1.35zM71.66 254.02h1.35v1.35h-1.35zM71.98 252.55h1.35v1.35h-1.35zM71.59 254.12h1.35v1.35h-1.35zM64.57 257.6h1.35v1.35h-1.35zM68.45 254.21h1.35v1.35h-1.35zM69.03 251.64h1.35v1.35h-1.35zM63.5 257.04h1.35v1.35h-1.35zM68.93 252.04h1.35v1.35h-1.35zM63.08 261.8h1.35v1.35h-1.35zM72.94 252.38h1.35v1.35h-1.35zM67.63 254.64h1.35v1.35h-1.35zM63.63 255.97h1.35v1.35h-1.35zM70.35 251.98h1.35v1.35h-1.35zM71.76 251.41h1.35v1.35h-1.35zM62.13 260.04h1.35v1.35h-1.35zM73.44 251.21h1.35v1.35h-1.35zM65.61 255.15h1.35v1.35h-1.35zM69.32 251.94h1.35v1.35h-1.35zM64.9 257.77h1.35v1.35h-1.35zM67.78 253.3h1.35v1.35h-1.35zM65.9 257.5h1.35v1.35h-1.35zM62.23 257.93h1.35v1.35h-1.35zM68.97 258.42h1.35v1.35h-1.35zM66.18 257.91h1.35v1.35h-1.35zM69.24 256.66h1.35v1.35h-1.35zM72.42 250.66h1.35v1.35h-1.35zM68 252.67h1.35v1.35h-1.35zM68.2 256.51h1.35v1.35h-1.35zM63.76 256.42h1.35v1.35h-1.35zM68.18 253.96h1.35v1.35h-1.35zM64.79 252.37h1.35v1.35h-1.35zM67.29 255.14h1.35v1.35h-1.35zM68.35 254.77h1.35v1.35h-1.35zM73.35 255.58h1.35v1.35h-1.35zM63.77 255.95h1.35v1.35h-1.35zM67.4 250.08h1.35v1.35h-1.35zM64.05 255.8h1.35v1.35h-1.35zM63.73 255.54h1.35v1.35h-1.35zM63.53 256.3h1.35v1.35h-1.35zM71.1 255.81h1.35v1.35h-1.35zM63.89 259.19h1.35v1.35h-1.35zM70.32 253.83h1.35v1.35h-1.35zM73.89 250.99h1.35v1.35h-1.35zM71.23 250.34h1.35v1.35h-1.35zM66.12 259.64h1.35v1.35h-1.35zM67.72 251.96h1.35v1.35h-1.35zM69.21 255.88h1.35v1.35h-1.35zM66.48 257.03h1.35v1.35h-1.35zM65.11 258.6h1.35v1.35h-1.35zM69.09 253.57h1.35v1.35h-1.35zM67.4 254.99h1.35v1.35h-1.35zM73.86 253.07h1.35v1.35h-1.35zM61.06 257.91h1.35v1.35h-1.35zM67.91 255h1.35v1.35h-1.35zM66.28 258.31h1.35v1.35h-1.35zM74.93 246.57h1.35v1.35h-1.35zM65.42 257.26h1.35v1.35h-1.35zM72.85 252.97h1.35v1.35h-1.35zM69.4 255.02h1.35v1.35h-1.35zM68.63 254.3h1.35v1.35h-1.35zM67.14 254.34h1.35v1.35h-1.35zM69.49 253.36h1.35v1.35h-1.35zM68.95 253.08h1.35v1.35h-1.35zM73.34 250.9h1.35v1.35h-1.35zM70.51 256.73h1.35v1.35h-1.35z"/>
<path fill="#1e6a2a" d="M67.35 255.93h1.35v1.35h-1.35zM65.97 253.7h1.35v1.35h-1.35zM67.87 252.68h1.35v1.35h-1.35zM70.1 254.46h1.35v1.35h-1.35zM65.27 255.15h1.35v1.35h-1.35zM68.07 254.25h1.35v1.35h-1.35zM69.89 252.71h1.35v1.35h-1.35zM67.21 255.54h1.35v1.35h-1.35zM63.16 256.09h1.35v1.35h-1.35zM68.84 254.94h1.35v1.35h-1.35zM66.13 255.31h1.35v1.35h-1.35zM67.66 253.56h1.35v1.35h-1.35zM69.07 254.64h1.35v1.35h-1.35zM64.31 256.98h1.35v1.35h-1.35zM65.84 255.72h1.35v1.35h-1.35zM66.63 254.35h1.35v1.35h-1.35zM63.96 256.14h1.35v1.35h-1.35zM65.38 257.87h1.35v1.35h-1.35zM65.94 252.31h1.35v1.35h-1.35zM66.32 253.96h1.35v1.35h-1.35zM66.92 256.36h1.35v1.35h-1.35zM69.95 252.84h1.35v1.35h-1.35zM67.04 254.22h1.35v1.35h-1.35zM60.61 257.79h1.35v1.35h-1.35zM67.23 253.37h1.35v1.35h-1.35zM66.86 257.57h1.35v1.35h-1.35zM67.89 253.83h1.35v1.35h-1.35zM64.55 255.42h1.35v1.35h-1.35zM68.99 252.09h1.35v1.35h-1.35zM66.85 255.91h1.35v1.35h-1.35zM67.56 257.11h1.35v1.35h-1.35zM62.56 257.56h1.35v1.35h-1.35zM67.14 255.22h1.35v1.35h-1.35zM67.42 252.49h1.35v1.35h-1.35zM67.88 253.23h1.35v1.35h-1.35zM67.89 258.44h1.35v1.35h-1.35zM66.73 253.34h1.35v1.35h-1.35zM68.13 253.91h1.35v1.35h-1.35zM69.77 254.6h1.35v1.35h-1.35zM66.69 254.78h1.35v1.35h-1.35zM64.79 253.3h1.35v1.35h-1.35zM68.32 257.06h1.35v1.35h-1.35zM64.87 255.6h1.35v1.35h-1.35zM67.92 256.27h1.35v1.35h-1.35zM65.29 253.87h1.35v1.35h-1.35z"/>
<path fill="#000000" d="M64.62 257.69h1.35v1.35h-1.35zM64.91 255.2h1.35v1.35h-1.35zM66.16 257.96h1.35v1.35h-1.35zM66.6 254.24h1.35v1.35h-1.35zM63.47 258.31h1.35v1.35h-1.35zM64.15 257.5h1.35v1.35h-1.35zM65.81 257.32h1.35v1.35h-1.35zM64.15 256.77h1.35v1.35h-1.35zM63.58 257.9h1.35v1.35h-1.35zM64.31 257.73h1.35v1.35h-1.35zM70.26 254.03h1.35v1.35h-1.35zM64.88 257.77h1.35v1.35h-1.35zM62.66 257.5h1.35v1.35h-1.35zM66.88 257.11h1.35v1.35h-1.35zM64.83 258.68h1.35v1.35h-1.35zM65.5 256.85h1.35v1.35h-1.35zM67.8 254.71h1.35v1.35h-1.35zM63.42 258.71h1.35v1.35h-1.35zM66.07 258.6h1.35v1.35h-1.35zM62.85 260.46h1.35v1.35h-1.35zM64.22 255.49h1.35v1.35h-1.35zM66.04 256.13h1.35v1.35h-1.35zM66.12 256.49h1.35v1.35h-1.35zM65.61 257.21h1.35v1.35h-1.35zM67.05 256.03h1.35v1.35h-1.35zM65.66 255.63h1.35v1.35h-1.35zM67.52 254.17h1.35v1.35h-1.35zM67.18 256.09h1.35v1.35h-1.35zM64.76 257.83h1.35v1.35h-1.35zM66.03 256.11h1.35v1.35h-1.35zM62.95 258.22h1.35v1.35h-1.35zM66.84 255.16h1.35v1.35h-1.35zM64.39 258.63h1.35v1.35h-1.35zM68.46 257.18h1.35v1.35h-1.35zM66.07 256.28h1.35v1.35h-1.35zM66.27 256.4h1.35v1.35h-1.35zM64.46 259.95h1.35v1.35h-1.35zM66.6 254.48h1.35v1.35h-1.35zM67.77 255.57h1.35v1.35h-1.35zM63.73 256.48h1.35v1.35h-1.35z"/>
<path fill="#c43a9c" d="M102.85 233.18h1.35v1.35h-1.35zM91.58 241.59h1.35v1.35h-1.35zM71.1 249.58h1.35v1.35h-1.35zM68.12 254.41h1.35v1.35h-1.35zM67.88 254.11h1.35v1.35h-1.35z"/>
<path fill="#c43a9c" d="M83.83 249.82h1.35v1.35h-1.35zM78.83 249.32h1.35v1.35h-1.35zM92.83 239.82h1.35v1.35h-1.35zM72.33 257.32h1.35v1.35h-1.35zM100.33 230.32h1.35v1.35h-1.35zM87.33 236.82h1.35v1.35h-1.35zM69.33 258.32h1.35v1.35h-1.35zM74.33 252.82h1.35v1.35h-1.35z"/>
<path fill="#1e6a2a" d="M79.83 252.82h1.35v1.35h-1.35zM76.33 250.32h1.35v1.35h-1.35z"/>
<rect x="56.6" y="212.9" width="156.6" height="166.7" fill="none" stroke="#1a1a1a" stroke-width="1.3"/>
<line x1="53.3" y1="250.7" x2="56.6" y2="250.7" stroke="#1a1a1a" stroke-width="1.1"/>
<text x="50.3" y="253.3" font-size="7.4" fill="#2a2a2a" stroke="#2a2a2a" stroke-width="0.18" text-anchor="end" textLength="13.23" lengthAdjust="spacingAndGlyphs">0.00</text>
<line x1="53.3" y1="296.1" x2="56.6" y2="296.1" stroke="#1a1a1a" stroke-width="1.1"/>
<text x="50.3" y="298.7" font-size="7.4" fill="#2a2a2a" stroke="#2a2a2a" stroke-width="0.18" text-anchor="end" textLength="15.5" lengthAdjust="spacingAndGlyphs">-0.05</text>
<line x1="53.3" y1="341.5" x2="56.6" y2="341.5" stroke="#1a1a1a" stroke-width="1.1"/>
<text x="50.3" y="344.1" font-size="7.4" fill="#2a2a2a" stroke="#2a2a2a" stroke-width="0.18" text-anchor="end" textLength="15.5" lengthAdjust="spacingAndGlyphs">-0.10</text>
<line x1="60.4" y1="379.6" x2="60.4" y2="382.9" stroke="#1a1a1a" stroke-width="1.1"/>
<text x="60.4" y="392.1" font-size="7.4" fill="#2a2a2a" stroke="#2a2a2a" stroke-width="0.18" text-anchor="middle" textLength="15.5" lengthAdjust="spacingAndGlyphs">-0.04</text>
<line x1="92.2" y1="379.6" x2="92.2" y2="382.9" stroke="#1a1a1a" stroke-width="1.1"/>
<text x="92.2" y="392.1" font-size="7.4" fill="#2a2a2a" stroke="#2a2a2a" stroke-width="0.18" text-anchor="middle" textLength="15.5" lengthAdjust="spacingAndGlyphs">-0.02</text>
<line x1="124" y1="379.6" x2="124" y2="382.9" stroke="#1a1a1a" stroke-width="1.1"/>
<text x="124" y="392.1" font-size="7.4" fill="#2a2a2a" stroke="#2a2a2a" stroke-width="0.18" text-anchor="middle" textLength="13.23" lengthAdjust="spacingAndGlyphs">0.00</text>
<line x1="155.8" y1="379.6" x2="155.8" y2="382.9" stroke="#1a1a1a" stroke-width="1.1"/>
<text x="155.8" y="392.1" font-size="7.4" fill="#2a2a2a" stroke="#2a2a2a" stroke-width="0.18" text-anchor="middle" textLength="13.23" lengthAdjust="spacingAndGlyphs">0.02</text>
<line x1="187.6" y1="379.6" x2="187.6" y2="382.9" stroke="#1a1a1a" stroke-width="1.1"/>
<text x="187.6" y="392.1" font-size="7.4" fill="#2a2a2a" stroke="#2a2a2a" stroke-width="0.18" text-anchor="middle" textLength="13.23" lengthAdjust="spacingAndGlyphs">0.04</text>
<text x="134.6" y="405.8" font-size="10.4" fill="#2a2a2a" stroke="#2a2a2a" stroke-width="0.18" text-anchor="middle" textLength="13.2" lengthAdjust="spacingAndGlyphs">DC1</text>
<text x="28.1" y="296.1" font-size="10" fill="#2a2a2a" stroke="#2a2a2a" stroke-width="0.18" text-anchor="middle" textLength="13.4" lengthAdjust="spacingAndGlyphs" transform="rotate(-90 28.1 296.1)">DC2</text>
<text x="135.2" y="207.6" font-size="8.9" fill="#222" stroke="#222" stroke-width="0.18" text-anchor="middle" textLength="128" lengthAdjust="spacingAndGlyphs">Index sorted Lin2-CD34+ cells</text>
<circle cx="64.5" cy="275.8" r="2.1" fill="#c8581e"/>
<text x="69.8" y="277.95" font-size="6.05" fill="#2a2a2a" stroke="#2a2a2a" stroke-width="0.18">HSC/MPP</text>
<circle cx="64.5" cy="283.92" r="2.1" fill="#6cc7b5"/>
<text x="69.8" y="286.07" font-size="6.05" fill="#2a2a2a" stroke="#2a2a2a" stroke-width="0.18">LMPP</text>
<circle cx="64.5" cy="292.04" r="2.1" fill="#7a1a96"/>
<text x="69.8" y="294.19" font-size="6.05" fill="#2a2a2a" stroke="#2a2a2a" stroke-width="0.18">ELP</text>
<circle cx="64.5" cy="300.16" r="2.1" fill="#82c83c"/>
<text x="69.8" y="302.31" font-size="6.05" fill="#2a2a2a" stroke="#2a2a2a" stroke-width="0.18">PreProB</text>
<circle cx="64.5" cy="308.28" r="2.1" fill="#c43a9c"/>
<text x="69.8" y="310.43" font-size="6.05" fill="#2a2a2a" stroke="#2a2a2a" stroke-width="0.18">CD34+19+10lo</text>
<circle cx="64.5" cy="316.4" r="2.1" fill="#1e6a2a"/>
<text x="69.8" y="318.55" font-size="6.05" fill="#2a2a2a" stroke="#2a2a2a" stroke-width="0.18">ProB</text>
<circle cx="64.5" cy="324.52" r="2.1" fill="#2a2a8c"/>
<text x="69.8" y="326.67" font-size="6.05" fill="#2a2a2a" stroke="#2a2a2a" stroke-width="0.18">CD34+10+19-</text>
<circle cx="64.5" cy="332.64" r="2.1" fill="#000000"/>
<text x="69.8" y="334.79" font-size="6.05" fill="#2a2a2a" stroke="#2a2a2a" stroke-width="0.18">B cell</text>
<circle cx="64.5" cy="340.76" r="2.1" fill="#f2b8b8"/>
<text x="69.8" y="342.91" font-size="6.05" fill="#2a2a2a" stroke="#2a2a2a" stroke-width="0.18">CD34+38+45RA+123-</text>
<circle cx="64.5" cy="348.88" r="2.1" fill="#d8261c"/>
<text x="69.8" y="351.03" font-size="6.05" fill="#2a2a2a" stroke="#2a2a2a" stroke-width="0.18">MEP</text>
<circle cx="64.5" cy="357" r="2.1" fill="#b86a6a"/>
<text x="69.8" y="359.15" font-size="6.05" fill="#2a2a2a" stroke="#2a2a2a" stroke-width="0.18">CMP</text>
<circle cx="64.5" cy="365.12" r="2.1" fill="#7a3218"/>
<text x="69.8" y="367.27" font-size="6.05" fill="#2a2a2a" stroke="#2a2a2a" stroke-width="0.18">GMP</text>
<circle cx="64.5" cy="373.24" r="2.1" fill="#1a1a7a"/>
<text x="69.8" y="375.39" font-size="6.05" fill="#2a2a2a" stroke="#2a2a2a" stroke-width="0.18">123hi</text>
<path fill="#7a1a96" d="M319.79 217.49h1.35v1.35h-1.35zM321.32 218.64h1.35v1.35h-1.35zM308.9 223.12h1.35v1.35h-1.35zM337.55 221.95h1.35v1.35h-1.35zM307.32 228.84h1.35v1.35h-1.35zM309.04 232.08h1.35v1.35h-1.35zM330.23 219.43h1.35v1.35h-1.35zM305.4 228.66h1.35v1.35h-1.35zM310.89 224.8h1.35v1.35h-1.35zM321.77 217.71h1.35v1.35h-1.35zM323.19 219.35h1.35v1.35h-1.35zM331.17 218.79h1.35v1.35h-1.35zM346.04 226.32h1.35v1.35h-1.35zM333.79 219.62h1.35v1.35h-1.35zM316.15 225.42h1.35v1.35h-1.35zM318.39 222.66h1.35v1.35h-1.35zM345.37 222.43h1.35v1.35h-1.35zM311.62 226.34h1.35v1.35h-1.35zM346.86 222.35h1.35v1.35h-1.35zM328.73 220.5h1.35v1.35h-1.35zM307.79 224.27h1.35v1.35h-1.35zM335.92 221.4h1.35v1.35h-1.35zM310.31 229.01h1.35v1.35h-1.35zM308.91 224h1.35v1.35h-1.35zM310.28 225.11h1.35v1.35h-1.35zM330.77 221.6h1.35v1.35h-1.35zM313.42 222.97h1.35v1.35h-1.35zM339.79 219.77h1.35v1.35h-1.35zM311.26 221.56h1.35v1.35h-1.35zM331.71 224.56h1.35v1.35h-1.35zM312.86 223.71h1.35v1.35h-1.35zM316.17 222.14h1.35v1.35h-1.35zM306.72 226.54h1.35v1.35h-1.35zM328.77 218.88h1.35v1.35h-1.35zM346.39 220.27h1.35v1.35h-1.35zM341.35 221.73h1.35v1.35h-1.35zM342.33 222.03h1.35v1.35h-1.35zM308.83 226.01h1.35v1.35h-1.35zM311.88 228.24h1.35v1.35h-1.35zM328.37 219.51h1.35v1.35h-1.35zM307.35 229.12h1.35v1.35h-1.35zM334.72 219.97h1.35v1.35h-1.35zM328.39 219.96h1.35v1.35h-1.35zM334.11 221.31h1.35v1.35h-1.35zM325.14 221.82h1.35v1.35h-1.35zM314.22 224.42h1.35v1.35h-1.35zM306.28 227.94h1.35v1.35h-1.35zM307.97 228.02h1.35v1.35h-1.35zM327.36 221.44h1.35v1.35h-1.35zM341.57 223.98h1.35v1.35h-1.35zM332.13 219.32h1.35v1.35h-1.35zM309.75 230.25h1.35v1.35h-1.35zM332.83 220.52h1.35v1.35h-1.35zM329.84 217.33h1.35v1.35h-1.35zM315.85 223.29h1.35v1.35h-1.35zM323.55 220.05h1.35v1.35h-1.35zM333.27 219.02h1.35v1.35h-1.35zM344.96 220.49h1.35v1.35h-1.35zM341.77 222.67h1.35v1.35h-1.35zM336.09 221.98h1.35v1.35h-1.35zM329.97 218.46h1.35v1.35h-1.35zM329.11 222.49h1.35v1.35h-1.35zM345.41 224.67h1.35v1.35h-1.35zM317.2 221.62h1.35v1.35h-1.35zM320.46 221.64h1.35v1.35h-1.35zM335.09 222.68h1.35v1.35h-1.35zM323.93 220.94h1.35v1.35h-1.35zM321.38 217.97h1.35v1.35h-1.35zM313.81 225.12h1.35v1.35h-1.35zM332.29 220.49h1.35v1.35h-1.35zM342.26 220.39h1.35v1.35h-1.35zM343.57 220.41h1.35v1.35h-1.35zM310.37 221.78h1.35v1.35h-1.35zM342.51 222.8h1.35v1.35h-1.35zM327.66 219.88h1.35v1.35h-1.35zM322.08 222.79h1.35v1.35h-1.35zM333.17 221.53h1.35v1.35h-1.35zM309.37 224.21h1.35v1.35h-1.35zM311.24 222.25h1.35v1.35h-1.35zM324.39 219.1h1.35v1.35h-1.35zM346.88 222.23h1.35v1.35h-1.35zM306.43 228.87h1.35v1.35h-1.35zM332.88 218.76h1.35v1.35h-1.35zM337.16 221.58h1.35v1.35h-1.35zM322.21 224.31h1.35v1.35h-1.35zM312.77 224.32h1.35v1.35h-1.35zM329.78 217.83h1.35v1.35h-1.35zM328.56 221.86h1.35v1.35h-1.35zM333.05 220.79h1.35v1.35h-1.35zM311.64 226.76h1.35v1.35h-1.35zM334.17 220.75h1.35v1.35h-1.35zM315.38 221.94h1.35v1.35h-1.35zM327.81 220.34h1.35v1.35h-1.35zM336.97 221.21h1.35v1.35h-1.35zM343.81 221.63h1.35v1.35h-1.35zM319.39 218.61h1.35v1.35h-1.35zM316.51 218.56h1.35v1.35h-1.35zM336.87 222.46h1.35v1.35h-1.35zM331.87 220.99h1.35v1.35h-1.35zM337.78 218.87h1.35v1.35h-1.35zM311.89 228.83h1.35v1.35h-1.35zM347.07 219.72h1.35v1.35h-1.35zM316 225.73h1.35v1.35h-1.35zM317.87 223.43h1.35v1.35h-1.35zM324.65 220.58h1.35v1.35h-1.35zM306.21 228.98h1.35v1.35h-1.35zM338.26 221.55h1.35v1.35h-1.35zM337.37 221.29h1.35v1.35h-1.35zM322.35 220.3h1.35v1.35h-1.35zM332 222.15h1.35v1.35h-1.35zM344.9 223.38h1.35v1.35h-1.35zM325.84 219.49h1.35v1.35h-1.35zM329.55 216.8h1.35v1.35h-1.35zM326.93 219.62h1.35v1.35h-1.35zM339.38 221.98h1.35v1.35h-1.35zM339.61 223.19h1.35v1.35h-1.35zM327.82 220.95h1.35v1.35h-1.35zM323.33 220.36h1.35v1.35h-1.35zM346.49 220.88h1.35v1.35h-1.35zM337.65 218.72h1.35v1.35h-1.35zM332.88 222.21h1.35v1.35h-1.35zM319.7 225.38h1.35v1.35h-1.35zM313.31 222.66h1.35v1.35h-1.35zM318.94 223.1h1.35v1.35h-1.35zM322.75 220.32h1.35v1.35h-1.35zM328.68 221.1h1.35v1.35h-1.35zM336.56 221.68h1.35v1.35h-1.35zM311.13 224.01h1.35v1.35h-1.35zM316.47 221.54h1.35v1.35h-1.35zM334.81 221.77h1.35v1.35h-1.35zM314.17 224.07h1.35v1.35h-1.35zM320.93 219.8h1.35v1.35h-1.35zM325.34 220.99h1.35v1.35h-1.35zM328.64 218.83h1.35v1.35h-1.35zM339.51 218.24h1.35v1.35h-1.35zM310.68 224.68h1.35v1.35h-1.35zM343.55 221.02h1.35v1.35h-1.35zM346.23 224.08h1.35v1.35h-1.35zM342.34 222.36h1.35v1.35h-1.35zM334.52 220.07h1.35v1.35h-1.35zM340.46 218.31h1.35v1.35h-1.35zM307.98 224.2h1.35v1.35h-1.35zM307.38 228.17h1.35v1.35h-1.35zM342.95 222.45h1.35v1.35h-1.35zM322.61 220.95h1.35v1.35h-1.35zM332.45 220.42h1.35v1.35h-1.35zM309.73 228.49h1.35v1.35h-1.35zM323.67 219.7h1.35v1.35h-1.35zM312.43 224.82h1.35v1.35h-1.35zM346.52 223.59h1.35v1.35h-1.35zM307.86 229.55h1.35v1.35h-1.35zM337 219.62h1.35v1.35h-1.35zM324.17 218.29h1.35v1.35h-1.35zM304.19 229.85h1.35v1.35h-1.35zM309.02 222.65h1.35v1.35h-1.35zM319.71 221.75h1.35v1.35h-1.35zM324.82 224.27h1.35v1.35h-1.35zM336.24 219.43h1.35v1.35h-1.35zM330.06 218.21h1.35v1.35h-1.35zM323.99 223.87h1.35v1.35h-1.35zM313.56 226.34h1.35v1.35h-1.35zM335.66 221.08h1.35v1.35h-1.35zM341.17 223.31h1.35v1.35h-1.35zM335.16 220.44h1.35v1.35h-1.35zM334.31 221.61h1.35v1.35h-1.35zM322.33 222.6h1.35v1.35h-1.35zM329.39 219.3h1.35v1.35h-1.35zM344.39 221.15h1.35v1.35h-1.35zM330.36 218.2h1.35v1.35h-1.35zM318.93 224.15h1.35v1.35h-1.35zM330.38 220.58h1.35v1.35h-1.35zM303.68 228.44h1.35v1.35h-1.35zM313.11 223.25h1.35v1.35h-1.35zM310.89 224.15h1.35v1.35h-1.35zM313.15 225.83h1.35v1.35h-1.35z"/>
<path fill="#7a1a96" d="M359.47 230.89h1.35v1.35h-1.35zM374.09 234.7h1.35v1.35h-1.35zM348.23 221.25h1.35v1.35h-1.35zM346.8 223.79h1.35v1.35h-1.35zM359.83 229.89h1.35v1.35h-1.35zM362.36 234.2h1.35v1.35h-1.35zM358.87 226.17h1.35v1.35h-1.35zM357.73 227.28h1.35v1.35h-1.35zM363.3 230.29h1.35v1.35h-1.35zM354.13 227.28h1.35v1.35h-1.35zM347.68 224.75h1.35v1.35h-1.35zM355.7 229.04h1.35v1.35h-1.35zM346.03 226.48h1.35v1.35h-1.35zM347.23 224.5h1.35v1.35h-1.35zM359.12 229.78h1.35v1.35h-1.35zM359.52 231.28h1.35v1.35h-1.35zM357.98 231.01h1.35v1.35h-1.35zM363.07 232.54h1.35v1.35h-1.35zM359.27 228.76h1.35v1.35h-1.35zM361.07 230.93h1.35v1.35h-1.35zM365.71 230.93h1.35v1.35h-1.35zM364.31 228.81h1.35v1.35h-1.35zM359.37 232.9h1.35v1.35h-1.35zM367.15 233.09h1.35v1.35h-1.35zM370.19 235.15h1.35v1.35h-1.35zM357.53 227.38h1.35v1.35h-1.35zM362.53 228.38h1.35v1.35h-1.35zM367.66 233.77h1.35v1.35h-1.35zM371.82 238.51h1.35v1.35h-1.35zM346.91 224.15h1.35v1.35h-1.35z"/>
<path fill="#7a1a96" d="M304.51 230.38h1.35v1.35h-1.35zM306.1 229.81h1.35v1.35h-1.35zM304.2 227.96h1.35v1.35h-1.35zM304.01 230.19h1.35v1.35h-1.35zM303.92 232.16h1.35v1.35h-1.35zM305.82 233.04h1.35v1.35h-1.35zM305.72 229.58h1.35v1.35h-1.35zM305.65 229.19h1.35v1.35h-1.35z"/>
<path fill="#7a1a96" d="M322.38 224.39h1.35v1.35h-1.35zM323.19 224.54h1.35v1.35h-1.35zM336.39 227.14h1.35v1.35h-1.35zM319.09 228.14h1.35v1.35h-1.35zM318.44 225.9h1.35v1.35h-1.35zM332.62 226.98h1.35v1.35h-1.35zM320.13 228.12h1.35v1.35h-1.35zM320.16 226.63h1.35v1.35h-1.35zM331.74 227.51h1.35v1.35h-1.35zM323.71 226.94h1.35v1.35h-1.35zM318.57 227.14h1.35v1.35h-1.35zM334.34 231.79h1.35v1.35h-1.35zM325.52 227.48h1.35v1.35h-1.35zM324.57 223.88h1.35v1.35h-1.35zM336.02 228.58h1.35v1.35h-1.35zM325.22 225.92h1.35v1.35h-1.35zM326.23 227.68h1.35v1.35h-1.35zM333.51 224.87h1.35v1.35h-1.35zM329.65 228.59h1.35v1.35h-1.35zM335.15 228.32h1.35v1.35h-1.35zM327.83 224.77h1.35v1.35h-1.35zM335.78 226.7h1.35v1.35h-1.35z"/>
<path fill="#80c63a" d="M300.52 237.27h1.35v1.35h-1.35zM306.04 237.53h1.35v1.35h-1.35zM318.58 226.05h1.35v1.35h-1.35zM303.55 237.09h1.35v1.35h-1.35zM305.86 232.42h1.35v1.35h-1.35zM308.56 228.93h1.35v1.35h-1.35zM307.66 233.44h1.35v1.35h-1.35zM306.36 227.19h1.35v1.35h-1.35zM313.3 227.39h1.35v1.35h-1.35zM313.83 223.54h1.35v1.35h-1.35zM314.21 227.02h1.35v1.35h-1.35zM317.68 222.78h1.35v1.35h-1.35zM312.55 226.73h1.35v1.35h-1.35zM309.34 230.36h1.35v1.35h-1.35zM319.75 222.78h1.35v1.35h-1.35zM303.46 233.81h1.35v1.35h-1.35zM319.74 224.97h1.35v1.35h-1.35zM301.73 237.15h1.35v1.35h-1.35zM306.09 235.37h1.35v1.35h-1.35zM310.34 227.72h1.35v1.35h-1.35zM304.37 236.43h1.35v1.35h-1.35zM303.98 234.71h1.35v1.35h-1.35zM305.43 233.67h1.35v1.35h-1.35zM304.09 236h1.35v1.35h-1.35zM309.08 228.86h1.35v1.35h-1.35zM307.29 235.34h1.35v1.35h-1.35zM302.57 229.28h1.35v1.35h-1.35zM308.61 228.78h1.35v1.35h-1.35zM317.96 224.62h1.35v1.35h-1.35zM308.04 227.23h1.35v1.35h-1.35zM318.9 223.08h1.35v1.35h-1.35zM301.44 238.4h1.35v1.35h-1.35zM313.74 224.74h1.35v1.35h-1.35zM305.13 235.33h1.35v1.35h-1.35zM306.06 234.43h1.35v1.35h-1.35zM312.03 227.88h1.35v1.35h-1.35zM311.28 228.19h1.35v1.35h-1.35zM303.68 241.17h1.35v1.35h-1.35zM316.23 225.79h1.35v1.35h-1.35zM314.41 226.89h1.35v1.35h-1.35zM309.54 230.85h1.35v1.35h-1.35zM317.5 223.17h1.35v1.35h-1.35zM307.63 230.7h1.35v1.35h-1.35zM316.82 224.97h1.35v1.35h-1.35zM311.28 228.28h1.35v1.35h-1.35zM305.55 231.69h1.35v1.35h-1.35zM303.65 230.24h1.35v1.35h-1.35zM305.85 231.27h1.35v1.35h-1.35zM304.03 227.3h1.35v1.35h-1.35zM315.61 224.59h1.35v1.35h-1.35zM305.98 231.12h1.35v1.35h-1.35zM309.74 227.33h1.35v1.35h-1.35zM319.19 224.08h1.35v1.35h-1.35zM311.47 226.19h1.35v1.35h-1.35zM309.45 226.99h1.35v1.35h-1.35zM306 230.58h1.35v1.35h-1.35zM304.08 235.29h1.35v1.35h-1.35zM317.31 221.64h1.35v1.35h-1.35zM305.91 232.2h1.35v1.35h-1.35zM306.24 236.07h1.35v1.35h-1.35zM314.02 226.13h1.35v1.35h-1.35zM315.56 224.12h1.35v1.35h-1.35zM305.3 233.84h1.35v1.35h-1.35zM310.23 231.97h1.35v1.35h-1.35zM305.55 228.39h1.35v1.35h-1.35zM313.94 226.16h1.35v1.35h-1.35zM305.72 231.49h1.35v1.35h-1.35zM304.37 231.15h1.35v1.35h-1.35zM313.51 224.07h1.35v1.35h-1.35zM302.49 238h1.35v1.35h-1.35zM312.79 227.43h1.35v1.35h-1.35zM308.35 230.07h1.35v1.35h-1.35zM312.68 227.81h1.35v1.35h-1.35zM316.86 222.81h1.35v1.35h-1.35zM310.61 228.92h1.35v1.35h-1.35zM318.63 221.08h1.35v1.35h-1.35zM318.13 225.41h1.35v1.35h-1.35zM311.61 226.85h1.35v1.35h-1.35zM302.47 233.39h1.35v1.35h-1.35zM306.68 232.99h1.35v1.35h-1.35zM311.54 230.24h1.35v1.35h-1.35zM305.41 237.31h1.35v1.35h-1.35zM308.95 226.62h1.35v1.35h-1.35zM318.46 227.18h1.35v1.35h-1.35zM312.7 228.59h1.35v1.35h-1.35zM306.06 233.26h1.35v1.35h-1.35zM309.87 228.13h1.35v1.35h-1.35zM309.74 228.04h1.35v1.35h-1.35zM308.05 236.61h1.35v1.35h-1.35zM312.51 225.09h1.35v1.35h-1.35zM313.51 223.66h1.35v1.35h-1.35zM315.51 225.95h1.35v1.35h-1.35zM309.34 229.39h1.35v1.35h-1.35zM311.2 227.89h1.35v1.35h-1.35zM303.61 232.98h1.35v1.35h-1.35zM312.96 228.66h1.35v1.35h-1.35zM306.03 236.96h1.35v1.35h-1.35zM307.06 227.34h1.35v1.35h-1.35zM311.39 226.87h1.35v1.35h-1.35zM310.8 231.05h1.35v1.35h-1.35zM316.41 222.93h1.35v1.35h-1.35zM310.17 229.32h1.35v1.35h-1.35zM307.06 225.33h1.35v1.35h-1.35zM307.91 233.29h1.35v1.35h-1.35zM316.27 224.29h1.35v1.35h-1.35zM314.52 224.15h1.35v1.35h-1.35zM304.86 237.52h1.35v1.35h-1.35zM308.47 228.12h1.35v1.35h-1.35zM312.01 224.97h1.35v1.35h-1.35zM304.96 231.25h1.35v1.35h-1.35zM306.54 240.09h1.35v1.35h-1.35zM312.03 227.71h1.35v1.35h-1.35zM316.65 224.97h1.35v1.35h-1.35zM310 228.19h1.35v1.35h-1.35zM316 226.2h1.35v1.35h-1.35zM319.01 225.09h1.35v1.35h-1.35zM305.3 231.93h1.35v1.35h-1.35zM316.76 225.13h1.35v1.35h-1.35zM305.85 231.06h1.35v1.35h-1.35zM304.04 239.4h1.35v1.35h-1.35z"/>
<path fill="#80c63a" d="M318.48 237.49h1.35v1.35h-1.35zM319.88 233.49h1.35v1.35h-1.35zM329.71 238.65h1.35v1.35h-1.35zM329.96 236.16h1.35v1.35h-1.35zM313.4 240.08h1.35v1.35h-1.35zM311.22 234.88h1.35v1.35h-1.35zM329.21 238.13h1.35v1.35h-1.35zM328.15 234.57h1.35v1.35h-1.35zM329.06 236.77h1.35v1.35h-1.35zM323.99 236.18h1.35v1.35h-1.35zM310.5 237.27h1.35v1.35h-1.35zM325.81 235.49h1.35v1.35h-1.35zM311.01 233.6h1.35v1.35h-1.35zM314.26 231.94h1.35v1.35h-1.35zM323.05 233.91h1.35v1.35h-1.35zM330.54 237.19h1.35v1.35h-1.35zM323.02 238.52h1.35v1.35h-1.35zM318.32 230.73h1.35v1.35h-1.35zM307.99 237.9h1.35v1.35h-1.35zM313.04 234.81h1.35v1.35h-1.35zM313.57 234.38h1.35v1.35h-1.35zM313.45 233.19h1.35v1.35h-1.35zM329.67 238.04h1.35v1.35h-1.35zM318.01 232.9h1.35v1.35h-1.35zM331.35 237.26h1.35v1.35h-1.35zM320.97 232.14h1.35v1.35h-1.35z"/>
<path fill="#80c63a" d="M311.32 249.32h1.35v1.35h-1.35zM310.82 255.32h1.35v1.35h-1.35zM314.72 259.32h1.35v1.35h-1.35zM311.62 266.93h1.35v1.35h-1.35zM316.32 245.32h1.35v1.35h-1.35zM321.32 241.32h1.35v1.35h-1.35zM326.32 238.32h1.35v1.35h-1.35zM304.32 269.32h1.35v1.35h-1.35zM307.32 275.32h1.35v1.35h-1.35zM314.62 259.82h1.35v1.35h-1.35zM311.82 267.32h1.35v1.35h-1.35z"/>
<path fill="#236b26" d="M298.61 269.26h1.35v1.35h-1.35zM299.39 259.61h1.35v1.35h-1.35zM299.5 261.79h1.35v1.35h-1.35zM295.45 278.96h1.35v1.35h-1.35zM307.28 246.05h1.35v1.35h-1.35zM296.9 277.6h1.35v1.35h-1.35zM300.33 261.63h1.35v1.35h-1.35zM298.12 260.65h1.35v1.35h-1.35zM302.23 273.99h1.35v1.35h-1.35zM304.21 241.52h1.35v1.35h-1.35zM303.08 261.72h1.35v1.35h-1.35zM303.45 246.04h1.35v1.35h-1.35zM297.97 285.9h1.35v1.35h-1.35zM296.84 279.34h1.35v1.35h-1.35zM301.28 249.39h1.35v1.35h-1.35zM301.06 268.63h1.35v1.35h-1.35zM296.19 266.71h1.35v1.35h-1.35zM304.5 241.52h1.35v1.35h-1.35zM296.96 270.56h1.35v1.35h-1.35zM307.36 234.92h1.35v1.35h-1.35zM303.49 243.46h1.35v1.35h-1.35zM301.4 257.15h1.35v1.35h-1.35zM308.21 240.28h1.35v1.35h-1.35zM305.28 234.97h1.35v1.35h-1.35zM306.21 239.83h1.35v1.35h-1.35zM301.45 256.46h1.35v1.35h-1.35zM294.09 289.3h1.35v1.35h-1.35zM303.8 245.84h1.35v1.35h-1.35zM308.64 246.6h1.35v1.35h-1.35zM305.34 255.84h1.35v1.35h-1.35zM297.33 267.56h1.35v1.35h-1.35zM297.06 270.08h1.35v1.35h-1.35zM296.72 271.36h1.35v1.35h-1.35zM297.76 285.35h1.35v1.35h-1.35zM298.83 283.77h1.35v1.35h-1.35zM304.82 244.26h1.35v1.35h-1.35zM299.45 264.49h1.35v1.35h-1.35zM305.92 244h1.35v1.35h-1.35zM298.5 257.01h1.35v1.35h-1.35zM295.28 283.96h1.35v1.35h-1.35zM306.48 233.96h1.35v1.35h-1.35zM302.13 247.05h1.35v1.35h-1.35zM307.23 248.62h1.35v1.35h-1.35zM298.11 275.17h1.35v1.35h-1.35zM302.93 239.05h1.35v1.35h-1.35zM298.7 275.04h1.35v1.35h-1.35zM306.89 232.7h1.35v1.35h-1.35zM304.16 234.55h1.35v1.35h-1.35zM298.07 277.6h1.35v1.35h-1.35zM302.19 254.84h1.35v1.35h-1.35zM305.26 239.52h1.35v1.35h-1.35zM305.44 250.55h1.35v1.35h-1.35zM305.52 237.95h1.35v1.35h-1.35zM298.68 274.34h1.35v1.35h-1.35zM304.6 244.7h1.35v1.35h-1.35zM305.23 257.21h1.35v1.35h-1.35zM304.37 245.27h1.35v1.35h-1.35zM303.64 243.57h1.35v1.35h-1.35zM302.99 268.96h1.35v1.35h-1.35zM294.75 291.64h1.35v1.35h-1.35zM294.08 287.86h1.35v1.35h-1.35zM294.73 269.63h1.35v1.35h-1.35zM304.61 244.5h1.35v1.35h-1.35zM302.5 256.95h1.35v1.35h-1.35zM303.41 255.21h1.35v1.35h-1.35zM302.11 248.25h1.35v1.35h-1.35zM299.45 260.53h1.35v1.35h-1.35zM302.12 245.34h1.35v1.35h-1.35zM300.13 257.17h1.35v1.35h-1.35zM301.55 273.42h1.35v1.35h-1.35zM307.58 232.66h1.35v1.35h-1.35zM306.25 234.5h1.35v1.35h-1.35zM303.28 260.59h1.35v1.35h-1.35zM302.96 250.57h1.35v1.35h-1.35zM300.74 250.41h1.35v1.35h-1.35zM304.43 245.93h1.35v1.35h-1.35zM305.81 258.27h1.35v1.35h-1.35zM307.41 252.19h1.35v1.35h-1.35zM299.66 276.92h1.35v1.35h-1.35zM303.55 256.28h1.35v1.35h-1.35zM295.18 280h1.35v1.35h-1.35zM294.22 285.73h1.35v1.35h-1.35zM301.43 262.56h1.35v1.35h-1.35zM293.25 290.27h1.35v1.35h-1.35zM304.78 243.76h1.35v1.35h-1.35zM308.45 230.44h1.35v1.35h-1.35zM307.01 245.62h1.35v1.35h-1.35zM302.52 263.41h1.35v1.35h-1.35zM294.67 280.55h1.35v1.35h-1.35zM301.45 250.78h1.35v1.35h-1.35zM299.53 272.86h1.35v1.35h-1.35zM294.04 288.45h1.35v1.35h-1.35zM302.1 269.11h1.35v1.35h-1.35zM303.05 254.93h1.35v1.35h-1.35zM300.23 263.87h1.35v1.35h-1.35zM301.66 251.28h1.35v1.35h-1.35zM304.25 238.1h1.35v1.35h-1.35zM305.66 236.15h1.35v1.35h-1.35zM301.59 256.78h1.35v1.35h-1.35zM302.01 238.2h1.35v1.35h-1.35zM305.63 234.91h1.35v1.35h-1.35zM299.42 280.71h1.35v1.35h-1.35zM304.32 244.93h1.35v1.35h-1.35zM303.01 248.72h1.35v1.35h-1.35zM298.71 281h1.35v1.35h-1.35zM301.42 272.84h1.35v1.35h-1.35zM295.29 279.75h1.35v1.35h-1.35zM298.4 271.96h1.35v1.35h-1.35zM310.84 230.59h1.35v1.35h-1.35zM291.83 290.14h1.35v1.35h-1.35zM303.64 255.54h1.35v1.35h-1.35zM294.31 287.12h1.35v1.35h-1.35zM297.61 274.1h1.35v1.35h-1.35zM304.78 244.62h1.35v1.35h-1.35zM305.3 237.97h1.35v1.35h-1.35zM302.47 264.18h1.35v1.35h-1.35zM302.19 247.14h1.35v1.35h-1.35zM305.6 249.1h1.35v1.35h-1.35zM295.33 276.56h1.35v1.35h-1.35zM302.2 273.09h1.35v1.35h-1.35zM304.28 239.74h1.35v1.35h-1.35zM294.63 288.57h1.35v1.35h-1.35zM305.25 237.95h1.35v1.35h-1.35zM297.99 265.79h1.35v1.35h-1.35zM302.96 248.34h1.35v1.35h-1.35zM302.56 253.17h1.35v1.35h-1.35zM304.3 233.46h1.35v1.35h-1.35zM304.31 236.11h1.35v1.35h-1.35zM292.04 292.83h1.35v1.35h-1.35zM304.34 261.8h1.35v1.35h-1.35zM299.62 254.72h1.35v1.35h-1.35zM300.26 270.23h1.35v1.35h-1.35zM291.12 283.83h1.35v1.35h-1.35zM300.37 255.69h1.35v1.35h-1.35zM303.2 241.03h1.35v1.35h-1.35zM303.21 237.78h1.35v1.35h-1.35zM298.26 277.85h1.35v1.35h-1.35zM304.41 233.4h1.35v1.35h-1.35zM310.17 231.32h1.35v1.35h-1.35zM297.49 277.76h1.35v1.35h-1.35zM295.55 277.45h1.35v1.35h-1.35zM289.45 290.82h1.35v1.35h-1.35zM302.79 254.33h1.35v1.35h-1.35zM292.57 285.33h1.35v1.35h-1.35zM305.48 245.23h1.35v1.35h-1.35zM298.33 269.45h1.35v1.35h-1.35zM300.04 270.34h1.35v1.35h-1.35zM295.74 286.18h1.35v1.35h-1.35zM303.1 250.17h1.35v1.35h-1.35zM300.93 276.04h1.35v1.35h-1.35zM303.5 241.44h1.35v1.35h-1.35zM303 251.97h1.35v1.35h-1.35zM302.4 262.06h1.35v1.35h-1.35zM299.16 262.75h1.35v1.35h-1.35zM297.05 286.13h1.35v1.35h-1.35zM302.94 236.51h1.35v1.35h-1.35zM293.75 290.03h1.35v1.35h-1.35zM297.3 274.16h1.35v1.35h-1.35zM296.88 271.09h1.35v1.35h-1.35zM308.1 244.84h1.35v1.35h-1.35zM306.34 238.87h1.35v1.35h-1.35zM298.04 271.06h1.35v1.35h-1.35zM294.24 282.9h1.35v1.35h-1.35zM301.95 261.31h1.35v1.35h-1.35zM297.56 280.64h1.35v1.35h-1.35zM300.5 272.01h1.35v1.35h-1.35zM306.39 244.01h1.35v1.35h-1.35zM297.78 261.59h1.35v1.35h-1.35zM304.3 257.52h1.35v1.35h-1.35zM293.34 287.81h1.35v1.35h-1.35zM294.35 290.02h1.35v1.35h-1.35zM295.65 274.86h1.35v1.35h-1.35zM290.96 284.69h1.35v1.35h-1.35zM300.26 262.43h1.35v1.35h-1.35zM295.43 268.5h1.35v1.35h-1.35zM303.85 280.39h1.35v1.35h-1.35zM303.52 232.67h1.35v1.35h-1.35zM303.1 244.48h1.35v1.35h-1.35zM299.69 262.49h1.35v1.35h-1.35zM304.04 247.27h1.35v1.35h-1.35zM299.95 263.02h1.35v1.35h-1.35zM302.87 242.94h1.35v1.35h-1.35zM301.95 277.77h1.35v1.35h-1.35zM295.62 279.64h1.35v1.35h-1.35zM303.31 236.4h1.35v1.35h-1.35zM295.64 282.63h1.35v1.35h-1.35zM307.47 243.39h1.35v1.35h-1.35zM298.8 267.75h1.35v1.35h-1.35zM292.82 291.8h1.35v1.35h-1.35zM296.27 283.26h1.35v1.35h-1.35zM299.05 271.42h1.35v1.35h-1.35zM303.83 252.8h1.35v1.35h-1.35zM306.31 246.88h1.35v1.35h-1.35zM301.96 242.25h1.35v1.35h-1.35zM300.64 259.2h1.35v1.35h-1.35zM296.55 287.6h1.35v1.35h-1.35zM301 241.77h1.35v1.35h-1.35zM298.84 276.36h1.35v1.35h-1.35zM300.08 256.33h1.35v1.35h-1.35zM301.19 255.27h1.35v1.35h-1.35zM306.73 259.42h1.35v1.35h-1.35zM303.36 250.93h1.35v1.35h-1.35zM300.41 268.18h1.35v1.35h-1.35zM301.62 246.31h1.35v1.35h-1.35zM299.76 257.41h1.35v1.35h-1.35zM299.75 275.54h1.35v1.35h-1.35zM307.14 234.96h1.35v1.35h-1.35zM300.14 256.79h1.35v1.35h-1.35zM299.28 272.33h1.35v1.35h-1.35zM298.72 256.8h1.35v1.35h-1.35zM305.41 246.56h1.35v1.35h-1.35zM295.24 278.98h1.35v1.35h-1.35zM296.38 264.32h1.35v1.35h-1.35zM306.66 236.78h1.35v1.35h-1.35zM299.14 273.94h1.35v1.35h-1.35zM295.16 285.01h1.35v1.35h-1.35zM301.16 269.75h1.35v1.35h-1.35zM302.44 260.63h1.35v1.35h-1.35zM293.92 265.61h1.35v1.35h-1.35zM296.75 293h1.35v1.35h-1.35zM302.03 267.08h1.35v1.35h-1.35zM307.74 235.03h1.35v1.35h-1.35zM296.89 273.41h1.35v1.35h-1.35zM304.93 243.77h1.35v1.35h-1.35zM302.4 254.14h1.35v1.35h-1.35zM306.62 239.66h1.35v1.35h-1.35zM297.38 277.72h1.35v1.35h-1.35zM297.83 274.49h1.35v1.35h-1.35zM297.15 258.38h1.35v1.35h-1.35zM294.44 287.75h1.35v1.35h-1.35zM305.39 252.04h1.35v1.35h-1.35zM304.89 236.19h1.35v1.35h-1.35zM298.72 262.01h1.35v1.35h-1.35zM302.67 238.61h1.35v1.35h-1.35zM303.17 247.54h1.35v1.35h-1.35zM300.61 255.78h1.35v1.35h-1.35zM303.98 258.15h1.35v1.35h-1.35zM292.66 282.89h1.35v1.35h-1.35zM302.18 239.16h1.35v1.35h-1.35zM305.7 254.45h1.35v1.35h-1.35zM294.69 289.31h1.35v1.35h-1.35zM303.54 237.92h1.35v1.35h-1.35zM296.42 274.73h1.35v1.35h-1.35zM304.52 232.43h1.35v1.35h-1.35zM297.42 288.42h1.35v1.35h-1.35zM306.57 233.5h1.35v1.35h-1.35zM299.68 247.31h1.35v1.35h-1.35zM306.09 251.17h1.35v1.35h-1.35zM293.31 283.34h1.35v1.35h-1.35zM299.36 260.07h1.35v1.35h-1.35zM303.51 247.91h1.35v1.35h-1.35zM304.7 253.84h1.35v1.35h-1.35zM304.72 253.22h1.35v1.35h-1.35zM305.48 232.97h1.35v1.35h-1.35zM302.77 262.86h1.35v1.35h-1.35zM302.24 244.34h1.35v1.35h-1.35zM304.65 249.99h1.35v1.35h-1.35zM297.92 276.27h1.35v1.35h-1.35zM301.91 255.25h1.35v1.35h-1.35zM297.81 266.01h1.35v1.35h-1.35zM300.77 267.92h1.35v1.35h-1.35zM301.22 267.51h1.35v1.35h-1.35zM304.65 261.49h1.35v1.35h-1.35zM304.33 233.81h1.35v1.35h-1.35zM303.09 245.72h1.35v1.35h-1.35zM297.46 283.75h1.35v1.35h-1.35zM292.91 272.36h1.35v1.35h-1.35zM297.22 282.21h1.35v1.35h-1.35zM296.29 278.79h1.35v1.35h-1.35zM305.74 233.46h1.35v1.35h-1.35z"/>
<path fill="#80c63a" d="M304.32 268.09h1.35v1.35h-1.35zM294.28 267.86h1.35v1.35h-1.35zM298.14 274.84h1.35v1.35h-1.35zM300.77 275.41h1.35v1.35h-1.35zM294.27 287.03h1.35v1.35h-1.35zM300.77 277.82h1.35v1.35h-1.35zM304.47 255.04h1.35v1.35h-1.35zM305.96 241.77h1.35v1.35h-1.35zM301.86 238.21h1.35v1.35h-1.35zM300.02 270.19h1.35v1.35h-1.35zM306.29 242.78h1.35v1.35h-1.35zM299.04 263.68h1.35v1.35h-1.35zM306.11 256.55h1.35v1.35h-1.35zM303.1 239.06h1.35v1.35h-1.35zM307.37 235.89h1.35v1.35h-1.35zM296.75 269.52h1.35v1.35h-1.35zM301.27 273.23h1.35v1.35h-1.35zM305.01 238.58h1.35v1.35h-1.35zM299.16 266.53h1.35v1.35h-1.35zM305.81 243.92h1.35v1.35h-1.35zM302.71 263.49h1.35v1.35h-1.35zM298.38 281.26h1.35v1.35h-1.35zM299.37 259.41h1.35v1.35h-1.35zM298.25 272.62h1.35v1.35h-1.35zM299.76 273.58h1.35v1.35h-1.35zM304.42 235.85h1.35v1.35h-1.35zM300.95 274.08h1.35v1.35h-1.35zM295.71 262.89h1.35v1.35h-1.35zM303.08 259.01h1.35v1.35h-1.35zM296.33 275.1h1.35v1.35h-1.35zM293.45 279.68h1.35v1.35h-1.35zM302.08 264.84h1.35v1.35h-1.35zM300.99 240.63h1.35v1.35h-1.35zM293.97 278.16h1.35v1.35h-1.35zM302.74 246.62h1.35v1.35h-1.35zM296.74 267.7h1.35v1.35h-1.35zM296.39 263.22h1.35v1.35h-1.35zM301.72 274.14h1.35v1.35h-1.35zM298.97 275.27h1.35v1.35h-1.35zM298.21 274.28h1.35v1.35h-1.35zM307.27 234.6h1.35v1.35h-1.35zM303.04 250.19h1.35v1.35h-1.35zM301.24 261.12h1.35v1.35h-1.35zM307.68 249.36h1.35v1.35h-1.35zM301.9 240.16h1.35v1.35h-1.35z"/>
<path fill="#000" d="M297.22 290.83h1.35v1.35h-1.35zM297.04 286.46h1.35v1.35h-1.35zM292.65 297.19h1.35v1.35h-1.35zM294.58 304.42h1.35v1.35h-1.35zM297.78 278.32h1.35v1.35h-1.35zM290.28 294.31h1.35v1.35h-1.35zM294.54 290.16h1.35v1.35h-1.35zM287.41 304.4h1.35v1.35h-1.35zM288.44 293.09h1.35v1.35h-1.35zM297.74 272.9h1.35v1.35h-1.35zM293.35 306.85h1.35v1.35h-1.35zM297.41 271.2h1.35v1.35h-1.35zM303.46 270.14h1.35v1.35h-1.35zM290.72 291.59h1.35v1.35h-1.35zM291.22 287.98h1.35v1.35h-1.35zM298.23 276.08h1.35v1.35h-1.35zM292.53 288.5h1.35v1.35h-1.35zM295.47 284.26h1.35v1.35h-1.35zM300.23 286.41h1.35v1.35h-1.35zM292.2 289.69h1.35v1.35h-1.35zM297.13 278.77h1.35v1.35h-1.35zM286.77 302.6h1.35v1.35h-1.35zM291.85 299.62h1.35v1.35h-1.35zM297.28 286.17h1.35v1.35h-1.35zM297.84 289.73h1.35v1.35h-1.35zM302.7 273.19h1.35v1.35h-1.35zM293.17 271.26h1.35v1.35h-1.35zM291.32 303.27h1.35v1.35h-1.35zM293.66 297.53h1.35v1.35h-1.35zM293.64 287.64h1.35v1.35h-1.35zM293.34 269.45h1.35v1.35h-1.35zM290.75 302.75h1.35v1.35h-1.35zM295.22 281.37h1.35v1.35h-1.35zM292.72 298.21h1.35v1.35h-1.35zM295.42 289.75h1.35v1.35h-1.35zM293.4 287.74h1.35v1.35h-1.35zM294.88 276.03h1.35v1.35h-1.35zM293.88 285.13h1.35v1.35h-1.35zM296.83 277.17h1.35v1.35h-1.35zM293.62 290.24h1.35v1.35h-1.35zM295.6 276.77h1.35v1.35h-1.35zM295.87 279.29h1.35v1.35h-1.35zM293.53 297.32h1.35v1.35h-1.35zM292.54 297.19h1.35v1.35h-1.35zM292.28 283.49h1.35v1.35h-1.35zM289.09 278.95h1.35v1.35h-1.35zM291.68 284.09h1.35v1.35h-1.35zM294.6 299.11h1.35v1.35h-1.35zM295.22 284.39h1.35v1.35h-1.35zM297.11 296.48h1.35v1.35h-1.35zM299.53 270.28h1.35v1.35h-1.35zM295.81 271.06h1.35v1.35h-1.35zM291.98 273.63h1.35v1.35h-1.35zM294.8 304.98h1.35v1.35h-1.35zM298.13 271.8h1.35v1.35h-1.35z"/>
<path fill="#000" d="M289.44 314.22h1.35v1.35h-1.35zM287.92 361.2h1.35v1.35h-1.35zM290.33 332.53h1.35v1.35h-1.35zM290.01 319.1h1.35v1.35h-1.35zM291.29 313.15h1.35v1.35h-1.35zM290.08 322.02h1.35v1.35h-1.35zM291.35 337.36h1.35v1.35h-1.35zM291.67 354.35h1.35v1.35h-1.35zM291.57 305.82h1.35v1.35h-1.35zM290.25 320.15h1.35v1.35h-1.35zM288.82 336.33h1.35v1.35h-1.35zM289.86 341.78h1.35v1.35h-1.35zM288.44 369.78h1.35v1.35h-1.35zM288.42 360.55h1.35v1.35h-1.35zM286.33 367.27h1.35v1.35h-1.35zM288.45 354.54h1.35v1.35h-1.35zM289.94 312.35h1.35v1.35h-1.35zM289.83 314.83h1.35v1.35h-1.35zM290.01 357.17h1.35v1.35h-1.35zM289.65 333.15h1.35v1.35h-1.35zM289.28 321.59h1.35v1.35h-1.35zM290.05 344.76h1.35v1.35h-1.35zM289.44 345.11h1.35v1.35h-1.35zM288.53 362.82h1.35v1.35h-1.35zM290.68 338.67h1.35v1.35h-1.35zM286.25 366.83h1.35v1.35h-1.35zM286.81 360.43h1.35v1.35h-1.35zM288.32 336.03h1.35v1.35h-1.35zM291.34 311.41h1.35v1.35h-1.35zM287.04 342.89h1.35v1.35h-1.35zM288.58 320.6h1.35v1.35h-1.35zM291.91 324.33h1.35v1.35h-1.35zM288.25 365.83h1.35v1.35h-1.35zM293.46 299.95h1.35v1.35h-1.35zM290.38 340.34h1.35v1.35h-1.35zM293.35 306.32h1.35v1.35h-1.35zM287.64 345.46h1.35v1.35h-1.35zM287.52 331.95h1.35v1.35h-1.35zM289.57 315.21h1.35v1.35h-1.35zM289.23 317.31h1.35v1.35h-1.35zM293.4 329.87h1.35v1.35h-1.35zM290.87 334.97h1.35v1.35h-1.35zM288.9 360.14h1.35v1.35h-1.35zM290.24 315.1h1.35v1.35h-1.35zM284.52 356.76h1.35v1.35h-1.35zM287.96 347.62h1.35v1.35h-1.35zM287.51 357.25h1.35v1.35h-1.35zM288.06 358.65h1.35v1.35h-1.35zM285.02 365.54h1.35v1.35h-1.35zM289.79 323.27h1.35v1.35h-1.35zM284.98 364.26h1.35v1.35h-1.35zM292.21 304.04h1.35v1.35h-1.35zM285.58 369.51h1.35v1.35h-1.35zM291.99 311.9h1.35v1.35h-1.35zM286.99 370.03h1.35v1.35h-1.35zM285.45 352.07h1.35v1.35h-1.35zM287.5 353.24h1.35v1.35h-1.35zM287.26 339.96h1.35v1.35h-1.35zM290.64 335.5h1.35v1.35h-1.35zM290.6 302.33h1.35v1.35h-1.35zM292.34 315.13h1.35v1.35h-1.35zM289.81 349.53h1.35v1.35h-1.35zM289.62 320.17h1.35v1.35h-1.35zM287.33 348.55h1.35v1.35h-1.35zM285.74 365.69h1.35v1.35h-1.35zM289.52 366.82h1.35v1.35h-1.35zM288.56 355.76h1.35v1.35h-1.35zM289.88 337.2h1.35v1.35h-1.35zM289 361.53h1.35v1.35h-1.35zM288.14 353.56h1.35v1.35h-1.35zM289.04 341.99h1.35v1.35h-1.35zM290.44 304.8h1.35v1.35h-1.35zM287.45 336.99h1.35v1.35h-1.35zM290.91 329.77h1.35v1.35h-1.35zM288.99 333.52h1.35v1.35h-1.35zM291.01 329.64h1.35v1.35h-1.35zM291.65 338.3h1.35v1.35h-1.35zM286.85 365.28h1.35v1.35h-1.35zM287.3 371.13h1.35v1.35h-1.35zM287.24 354.68h1.35v1.35h-1.35z"/>
<path fill="#72c8bc" d="M388.16 243.22h1.35v1.35h-1.35zM393.82 244.4h1.35v1.35h-1.35zM388.44 243.15h1.35v1.35h-1.35zM382.75 243.62h1.35v1.35h-1.35zM397.9 248.75h1.35v1.35h-1.35zM373.27 238.11h1.35v1.35h-1.35zM383.09 243.39h1.35v1.35h-1.35zM386.02 242.78h1.35v1.35h-1.35zM388.54 242.53h1.35v1.35h-1.35zM370.32 237.33h1.35v1.35h-1.35zM371.18 237.48h1.35v1.35h-1.35zM372.91 236.42h1.35v1.35h-1.35zM370.82 242.09h1.35v1.35h-1.35zM384.58 240.5h1.35v1.35h-1.35zM399.18 250.28h1.35v1.35h-1.35zM374.76 240.82h1.35v1.35h-1.35zM384.51 238.13h1.35v1.35h-1.35zM375.49 240.15h1.35v1.35h-1.35zM384.68 240.61h1.35v1.35h-1.35zM385.18 241.18h1.35v1.35h-1.35zM384.21 240.59h1.35v1.35h-1.35zM385.53 237.82h1.35v1.35h-1.35zM386.26 239.34h1.35v1.35h-1.35zM397.81 248.62h1.35v1.35h-1.35zM389.16 244.06h1.35v1.35h-1.35zM389.93 247.8h1.35v1.35h-1.35z"/>
<path fill="#72c8bc" d="M415.77 254.48h1.35v1.35h-1.35zM405.23 252.06h1.35v1.35h-1.35zM420.57 257.36h1.35v1.35h-1.35zM400.81 246.93h1.35v1.35h-1.35zM407.05 251.73h1.35v1.35h-1.35zM409.36 255.03h1.35v1.35h-1.35zM417.71 259.77h1.35v1.35h-1.35zM415.87 257.75h1.35v1.35h-1.35zM412.27 254.61h1.35v1.35h-1.35zM415.87 255.68h1.35v1.35h-1.35zM415.46 254.65h1.35v1.35h-1.35zM419.4 260.34h1.35v1.35h-1.35zM406.93 251.98h1.35v1.35h-1.35zM407.77 251.05h1.35v1.35h-1.35zM411.98 256.4h1.35v1.35h-1.35zM417.61 256.84h1.35v1.35h-1.35zM417.11 256.52h1.35v1.35h-1.35zM414.46 254.17h1.35v1.35h-1.35zM419.85 254.64h1.35v1.35h-1.35zM408.67 253.54h1.35v1.35h-1.35zM407.26 251.82h1.35v1.35h-1.35zM417.69 256.61h1.35v1.35h-1.35zM409.2 253.38h1.35v1.35h-1.35zM409.28 253.25h1.35v1.35h-1.35zM405.76 254.95h1.35v1.35h-1.35zM406.94 253.03h1.35v1.35h-1.35zM400.82 250.38h1.35v1.35h-1.35zM408.29 250.55h1.35v1.35h-1.35zM397.95 249.62h1.35v1.35h-1.35zM405.13 250.93h1.35v1.35h-1.35zM407.94 254.04h1.35v1.35h-1.35zM412.25 254.54h1.35v1.35h-1.35zM417.04 255.19h1.35v1.35h-1.35zM419.59 258.64h1.35v1.35h-1.35zM414.3 258.81h1.35v1.35h-1.35zM409.73 252.26h1.35v1.35h-1.35zM415.54 258.96h1.35v1.35h-1.35zM406.43 250.66h1.35v1.35h-1.35zM403.94 253.82h1.35v1.35h-1.35zM406.97 251.8h1.35v1.35h-1.35zM414.68 258.9h1.35v1.35h-1.35zM400.18 250.46h1.35v1.35h-1.35zM413.08 256.08h1.35v1.35h-1.35zM407.92 255.53h1.35v1.35h-1.35zM417.27 258.19h1.35v1.35h-1.35zM399.14 248.37h1.35v1.35h-1.35zM406.89 251.23h1.35v1.35h-1.35zM409.05 252.24h1.35v1.35h-1.35zM413.66 254.88h1.35v1.35h-1.35zM407.44 252.52h1.35v1.35h-1.35zM400.35 248.45h1.35v1.35h-1.35zM407.06 255.32h1.35v1.35h-1.35zM411.72 253.48h1.35v1.35h-1.35zM416.72 257.27h1.35v1.35h-1.35zM413.81 255.23h1.35v1.35h-1.35z"/>
<path fill="#72c8bc" d="M365.32 257.32h1.35v1.35h-1.35zM371.32 240.32h1.35v1.35h-1.35zM382.32 253.32h1.35v1.35h-1.35z"/>
<path fill="#d05a1a" d="M416.95 260.11h1.35v1.35h-1.35zM416.23 258.71h1.35v1.35h-1.35zM416 258.23h1.35v1.35h-1.35zM424.41 258.39h1.35v1.35h-1.35zM420.81 261.23h1.35v1.35h-1.35zM420.32 261.07h1.35v1.35h-1.35zM423.45 259.37h1.35v1.35h-1.35zM419.77 261.6h1.35v1.35h-1.35zM427.15 260.89h1.35v1.35h-1.35zM419.3 257.38h1.35v1.35h-1.35zM421.48 258.95h1.35v1.35h-1.35zM416.1 260.22h1.35v1.35h-1.35zM431.63 261.5h1.35v1.35h-1.35zM428.29 262.29h1.35v1.35h-1.35zM423.34 262.62h1.35v1.35h-1.35zM426.05 262.71h1.35v1.35h-1.35zM417.36 259.12h1.35v1.35h-1.35zM424.71 260.75h1.35v1.35h-1.35zM422.47 261.51h1.35v1.35h-1.35zM421.5 261.11h1.35v1.35h-1.35zM422.68 263.22h1.35v1.35h-1.35zM419.83 259.64h1.35v1.35h-1.35zM412.5 255.32h1.35v1.35h-1.35zM413.93 259.06h1.35v1.35h-1.35zM416.8 257.61h1.35v1.35h-1.35zM422.23 263.4h1.35v1.35h-1.35zM426.46 261.61h1.35v1.35h-1.35zM420.97 262.99h1.35v1.35h-1.35zM417.42 258.82h1.35v1.35h-1.35zM416.18 257.45h1.35v1.35h-1.35zM423.65 262.24h1.35v1.35h-1.35zM419.67 259.17h1.35v1.35h-1.35zM426.52 264.84h1.35v1.35h-1.35zM414.03 262.08h1.35v1.35h-1.35zM419.18 259.76h1.35v1.35h-1.35zM419.17 258.92h1.35v1.35h-1.35zM424.5 259.56h1.35v1.35h-1.35zM421.15 260.29h1.35v1.35h-1.35zM427.72 264.66h1.35v1.35h-1.35zM422.2 262.46h1.35v1.35h-1.35zM423.16 262.09h1.35v1.35h-1.35zM410.31 256.95h1.35v1.35h-1.35zM418.93 261.36h1.35v1.35h-1.35zM422.47 260.45h1.35v1.35h-1.35zM417.83 257.44h1.35v1.35h-1.35zM422.04 261.13h1.35v1.35h-1.35zM417.38 258.54h1.35v1.35h-1.35zM422.72 260.33h1.35v1.35h-1.35zM420.71 259.54h1.35v1.35h-1.35zM409.97 256.14h1.35v1.35h-1.35zM420.44 262.25h1.35v1.35h-1.35zM426.72 261.99h1.35v1.35h-1.35zM423.05 262.33h1.35v1.35h-1.35zM420.49 262.3h1.35v1.35h-1.35zM425.34 260.31h1.35v1.35h-1.35zM427.03 263.22h1.35v1.35h-1.35zM418.54 258.41h1.35v1.35h-1.35zM420.69 258.51h1.35v1.35h-1.35zM424.97 263.51h1.35v1.35h-1.35zM416.45 260.49h1.35v1.35h-1.35zM421.7 261.36h1.35v1.35h-1.35zM424.84 262.41h1.35v1.35h-1.35zM419.34 261.14h1.35v1.35h-1.35zM414.1 255.42h1.35v1.35h-1.35zM422.09 263.49h1.35v1.35h-1.35zM413.82 257.7h1.35v1.35h-1.35zM418.26 259.1h1.35v1.35h-1.35zM422.17 264.37h1.35v1.35h-1.35zM427.38 265.61h1.35v1.35h-1.35zM423.33 262.21h1.35v1.35h-1.35zM412.78 258h1.35v1.35h-1.35zM416.69 256.75h1.35v1.35h-1.35zM422.45 258.4h1.35v1.35h-1.35zM427.66 265.05h1.35v1.35h-1.35zM421.94 262.26h1.35v1.35h-1.35zM421.74 261.35h1.35v1.35h-1.35zM424.21 260.99h1.35v1.35h-1.35zM421.79 261.57h1.35v1.35h-1.35zM424.82 260.41h1.35v1.35h-1.35zM421.91 261.04h1.35v1.35h-1.35zM423 262.85h1.35v1.35h-1.35zM421.22 261.9h1.35v1.35h-1.35zM421.62 263.87h1.35v1.35h-1.35zM421.67 262.24h1.35v1.35h-1.35zM417.09 258.74h1.35v1.35h-1.35zM423.2 263.95h1.35v1.35h-1.35zM416.79 258.93h1.35v1.35h-1.35zM419.64 260.38h1.35v1.35h-1.35zM419.12 259.21h1.35v1.35h-1.35zM420.45 260.89h1.35v1.35h-1.35zM425.62 261.27h1.35v1.35h-1.35zM416.25 260.33h1.35v1.35h-1.35zM423 261.41h1.35v1.35h-1.35zM415.26 260.41h1.35v1.35h-1.35zM415.53 260.68h1.35v1.35h-1.35zM421.94 261.01h1.35v1.35h-1.35zM419.49 261.83h1.35v1.35h-1.35zM422.12 257.95h1.35v1.35h-1.35zM419.49 255.97h1.35v1.35h-1.35zM421.77 263.06h1.35v1.35h-1.35zM426.04 260.47h1.35v1.35h-1.35zM428.21 267.7h1.35v1.35h-1.35zM421.8 257.32h1.35v1.35h-1.35zM416.43 260.91h1.35v1.35h-1.35zM429.71 263.71h1.35v1.35h-1.35zM413.9 255.81h1.35v1.35h-1.35zM428.69 264.31h1.35v1.35h-1.35zM416.55 254.76h1.35v1.35h-1.35zM422.83 263.29h1.35v1.35h-1.35zM418.97 259.59h1.35v1.35h-1.35z"/>
<path fill="#f05a14" d="M423.71 261.46h1.35v1.35h-1.35zM422.13 260.39h1.35v1.35h-1.35zM420.97 262.65h1.35v1.35h-1.35zM423.82 263.6h1.35v1.35h-1.35zM429.67 261.13h1.35v1.35h-1.35zM422.58 262.95h1.35v1.35h-1.35zM423.06 260.77h1.35v1.35h-1.35zM424.7 261.61h1.35v1.35h-1.35zM421.17 260.37h1.35v1.35h-1.35zM423.45 261.88h1.35v1.35h-1.35zM425.76 262.93h1.35v1.35h-1.35zM420.25 265.12h1.35v1.35h-1.35zM422.83 261.18h1.35v1.35h-1.35zM423.31 260.73h1.35v1.35h-1.35zM418.86 260.12h1.35v1.35h-1.35zM428.35 261.26h1.35v1.35h-1.35zM420.98 261.42h1.35v1.35h-1.35zM421.13 261.64h1.35v1.35h-1.35zM423.8 260.33h1.35v1.35h-1.35zM423.01 260.87h1.35v1.35h-1.35zM426.25 259.21h1.35v1.35h-1.35zM423.67 264.01h1.35v1.35h-1.35zM423.58 262.29h1.35v1.35h-1.35zM421.64 261.58h1.35v1.35h-1.35zM423.63 259.98h1.35v1.35h-1.35zM421.38 257.38h1.35v1.35h-1.35zM424.4 262.55h1.35v1.35h-1.35zM426.15 263.46h1.35v1.35h-1.35zM425.97 260.93h1.35v1.35h-1.35zM418.5 258.78h1.35v1.35h-1.35zM422.19 261.86h1.35v1.35h-1.35zM423.03 261.42h1.35v1.35h-1.35zM423.27 262.18h1.35v1.35h-1.35zM423.67 262.45h1.35v1.35h-1.35zM421.98 261.07h1.35v1.35h-1.35zM419.9 258.57h1.35v1.35h-1.35zM422.31 262.02h1.35v1.35h-1.35zM422.03 259.07h1.35v1.35h-1.35zM426.41 261.9h1.35v1.35h-1.35zM419.13 258.45h1.35v1.35h-1.35zM421.43 257.25h1.35v1.35h-1.35zM421.28 263.49h1.35v1.35h-1.35zM421.73 259.84h1.35v1.35h-1.35zM426.39 263.31h1.35v1.35h-1.35zM422.24 263.41h1.35v1.35h-1.35zM420.1 260.27h1.35v1.35h-1.35zM424.57 262.68h1.35v1.35h-1.35zM420.62 259.17h1.35v1.35h-1.35zM428.24 263.86h1.35v1.35h-1.35zM421.96 262.85h1.35v1.35h-1.35zM418.42 259.53h1.35v1.35h-1.35zM417.67 261.42h1.35v1.35h-1.35zM420.52 260.73h1.35v1.35h-1.35zM420.7 260.84h1.35v1.35h-1.35zM424.17 262.2h1.35v1.35h-1.35zM422.29 261.73h1.35v1.35h-1.35zM422.93 260.86h1.35v1.35h-1.35zM424.54 263.67h1.35v1.35h-1.35zM420.18 258.86h1.35v1.35h-1.35zM421.01 261.23h1.35v1.35h-1.35z"/>
<path fill="#e3a51c" d="M359.52 250.12h1.35v1.35h-1.35zM375.12 259.02h1.35v1.35h-1.35zM427.82 263.82h1.35v1.35h-1.35zM430.32 261.82h1.35v1.35h-1.35z"/>
<path fill="#1a2a0a" d="M373.82 260.82h1.35v1.35h-1.35z"/>
<rect x="280.6" y="213.3" width="154.9" height="166.4" fill="none" stroke="#1a1a1a" stroke-width="1.3"/>
<line x1="277.3" y1="216.46" x2="280.6" y2="216.46" stroke="#1a1a1a" stroke-width="1.1"/>
<text x="273.3" y="219.06" font-size="7.4" fill="#2a2a2a" stroke="#2a2a2a" stroke-width="0.18" text-anchor="end" textLength="13.23" lengthAdjust="spacingAndGlyphs">0.04</text>
<line x1="277.3" y1="257.3" x2="280.6" y2="257.3" stroke="#1a1a1a" stroke-width="1.1"/>
<text x="273.3" y="259.9" font-size="7.4" fill="#2a2a2a" stroke="#2a2a2a" stroke-width="0.18" text-anchor="end" textLength="13.23" lengthAdjust="spacingAndGlyphs">0.00</text>
<line x1="277.3" y1="298.14" x2="280.6" y2="298.14" stroke="#1a1a1a" stroke-width="1.1"/>
<text x="273.3" y="300.74" font-size="7.4" fill="#2a2a2a" stroke="#2a2a2a" stroke-width="0.18" text-anchor="end" textLength="15.5" lengthAdjust="spacingAndGlyphs">-0.04</text>
<line x1="277.3" y1="338.98" x2="280.6" y2="338.98" stroke="#1a1a1a" stroke-width="1.1"/>
<text x="273.3" y="341.58" font-size="7.4" fill="#2a2a2a" stroke="#2a2a2a" stroke-width="0.18" text-anchor="end" textLength="15.5" lengthAdjust="spacingAndGlyphs">-0.08</text>
<line x1="307.9" y1="379.7" x2="307.9" y2="383" stroke="#1a1a1a" stroke-width="1.1"/>
<text x="307.9" y="392.1" font-size="7.4" fill="#2a2a2a" stroke="#2a2a2a" stroke-width="0.18" text-anchor="middle" textLength="15.5" lengthAdjust="spacingAndGlyphs">-0.02</text>
<line x1="348.6" y1="379.7" x2="348.6" y2="383" stroke="#1a1a1a" stroke-width="1.1"/>
<text x="348.6" y="392.1" font-size="7.4" fill="#2a2a2a" stroke="#2a2a2a" stroke-width="0.18" text-anchor="middle" textLength="13.23" lengthAdjust="spacingAndGlyphs">0.00</text>
<line x1="389.3" y1="379.7" x2="389.3" y2="383" stroke="#1a1a1a" stroke-width="1.1"/>
<text x="389.3" y="392.1" font-size="7.4" fill="#2a2a2a" stroke="#2a2a2a" stroke-width="0.18" text-anchor="middle" textLength="13.23" lengthAdjust="spacingAndGlyphs">0.02</text>
<line x1="430" y1="379.7" x2="430" y2="383" stroke="#1a1a1a" stroke-width="1.1"/>
<text x="430" y="392.1" font-size="7.4" fill="#2a2a2a" stroke="#2a2a2a" stroke-width="0.18" text-anchor="middle" textLength="13.23" lengthAdjust="spacingAndGlyphs">0.04</text>
<text x="357.7" y="403.8" font-size="10.4" fill="#2a2a2a" stroke="#2a2a2a" stroke-width="0.18" text-anchor="middle" textLength="13" lengthAdjust="spacingAndGlyphs">DC1</text>
<text x="251.7" y="296" font-size="10.6" fill="#2a2a2a" stroke="#2a2a2a" stroke-width="0.18" text-anchor="middle" textLength="13.6" lengthAdjust="spacingAndGlyphs" transform="rotate(-90 251.7 296)">DC2</text>
<text x="357.7" y="208.4" font-size="8.9" fill="#222" stroke="#222" stroke-width="0.18" text-anchor="middle" textLength="133.5" lengthAdjust="spacingAndGlyphs">Index-sorted HSPC populations</text>
<circle cx="407.1" cy="314.8" r="2.4" fill="#e3a51c"/>
<text x="412.6" y="317" font-size="6.2" fill="#2a2a2a" stroke="#2a2a2a" stroke-width="0.18">HSC</text>
<circle cx="407.1" cy="324.08" r="2.4" fill="#d05a1a"/>
<text x="412.6" y="326.28" font-size="6.2" fill="#2a2a2a" stroke="#2a2a2a" stroke-width="0.18">MPP</text>
<circle cx="407.1" cy="333.36" r="2.4" fill="#72c8bc"/>
<text x="412.6" y="335.56" font-size="6.2" fill="#2a2a2a" stroke="#2a2a2a" stroke-width="0.18">LMPP</text>
<circle cx="407.1" cy="342.64" r="2.4" fill="#7a1a96"/>
<text x="412.6" y="344.84" font-size="6.2" fill="#2a2a2a" stroke="#2a2a2a" stroke-width="0.18">ELP</text>
<circle cx="407.1" cy="351.92" r="2.4" fill="#80c63a"/>
<text x="412.6" y="354.12" font-size="6.2" fill="#2a2a2a" stroke="#2a2a2a" stroke-width="0.18" textLength="21.4" lengthAdjust="spacingAndGlyphs">PreProB</text>
<circle cx="407.1" cy="361.2" r="2.4" fill="#236b26"/>
<text x="412.6" y="363.4" font-size="6.2" fill="#2a2a2a" stroke="#2a2a2a" stroke-width="0.18">ProB</text>
<circle cx="407.1" cy="370.48" r="2.4" fill="#000"/>
<text x="412.6" y="372.68" font-size="6.2" fill="#2a2a2a" stroke="#2a2a2a" stroke-width="0.18">Bcell</text>
<line x1="54.7" y1="500.1" x2="114.9" y2="500.1" stroke="#a39d90" stroke-width="1" stroke-dasharray="3.8 1.45"/>
<line x1="79.54" y1="490" x2="79.54" y2="500.1" stroke="#9a9a92" stroke-width="0.9"/>
<path d="M75.74 500.1L79.54 499.1L83.34 500.1L79.54 501.1Z" fill="#5fc2b2"/>
<path d="M89.11 448L90.01 448L90.36 484.5L88.76 484.5Z" fill="url(#tg)"/>
<path d="M89.56 482.5C90.11 489.65 94.16 492.64 94.16 495.5C94.16 498.79 90.71 500.98 89.56 502.8C88.41 500.98 84.96 498.79 84.96 495.5C84.96 492.64 89.01 489.65 89.56 482.5Z" fill="#7b1a8e" stroke="#000" stroke-opacity="0.35" stroke-width="0.4"/>
<line x1="89.56" y1="488.95" x2="89.56" y2="499.56" stroke="#fff" stroke-width="0.35" stroke-opacity="0.6"/>
<rect x="88.66" y="490.95" width="1.8" height="7.11" fill="none" stroke="#fff" stroke-width="0.35" stroke-opacity="0.6"/>
<circle cx="89.56" cy="494.5" r="0.55" fill="#fff" fill-opacity="0.7"/>
<path d="M99.12 469.6L100.02 469.6L100.37 489.5L98.77 489.5Z" fill="url(#tg)"/>
<path d="M99.57 487.5C100.13 492.73 104.17 494.91 104.17 497C104.17 499.43 100.72 501.05 99.57 502.4C98.42 501.05 94.97 499.43 94.97 497C94.97 494.91 99.02 492.73 99.57 487.5Z" fill="#84cc34" stroke="#000" stroke-opacity="0.35" stroke-width="0.4"/>
<line x1="99.57" y1="491.68" x2="99.57" y2="500.39" stroke="#fff" stroke-width="0.35" stroke-opacity="0.6"/>
<rect x="98.67" y="493.68" width="1.8" height="5.21" fill="none" stroke="#fff" stroke-width="0.35" stroke-opacity="0.6"/>
<circle cx="99.57" cy="496.28" r="0.55" fill="#fff" fill-opacity="0.7"/>
<path d="M109.14 478L110.04 478L110.39 496L108.79 496Z" fill="url(#tg)"/>
<path d="M109.59 494C110.15 497.3 114.29 498.68 114.29 500C114.29 500.99 110.77 501.65 109.59 502.2C108.42 501.65 104.89 500.99 104.89 500C104.89 498.68 109.03 497.3 109.59 494Z" fill="#1f5f20" stroke="#000" stroke-opacity="0.35" stroke-width="0.4"/>
<line x1="109.59" y1="495.9" x2="109.59" y2="502.27" stroke="#fff" stroke-width="0.35" stroke-opacity="0.6"/>
<rect x="108.69" y="497.9" width="1.8" height="2.87" fill="none" stroke="#fff" stroke-width="0.35" stroke-opacity="0.6"/>
<circle cx="109.59" cy="499.33" r="0.55" fill="#fff" fill-opacity="0.7"/>
<rect x="53.5" y="445.1" width="62.1" height="61.9" fill="none" stroke="#1a1a1a" stroke-width="1.3"/>
<line x1="50.1" y1="456.7" x2="53.5" y2="456.7" stroke="#1a1a1a" stroke-width="1.1"/>
<text x="46.8" y="459.25" font-size="7.3" fill="#2a2a2a" stroke="#2a2a2a" stroke-width="0.18" text-anchor="end">0.15</text>
<line x1="50.1" y1="471" x2="53.5" y2="471" stroke="#1a1a1a" stroke-width="1.1"/>
<text x="46.8" y="473.55" font-size="7.3" fill="#2a2a2a" stroke="#2a2a2a" stroke-width="0.18" text-anchor="end">0.10</text>
<line x1="50.1" y1="485.7" x2="53.5" y2="485.7" stroke="#1a1a1a" stroke-width="1.1"/>
<text x="46.8" y="488.25" font-size="7.3" fill="#2a2a2a" stroke="#2a2a2a" stroke-width="0.18" text-anchor="end">0.05</text>
<line x1="50.1" y1="499.8" x2="53.5" y2="499.8" stroke="#1a1a1a" stroke-width="1.1"/>
<text x="46.8" y="502.35" font-size="7.3" fill="#2a2a2a" stroke="#2a2a2a" stroke-width="0.18" text-anchor="end">0.00</text>
<line x1="59.51" y1="507" x2="59.51" y2="510.4" stroke="#1a1a1a" stroke-width="1.1"/>
<line x1="69.53" y1="507" x2="69.53" y2="510.4" stroke="#1a1a1a" stroke-width="1.1"/>
<line x1="79.54" y1="507" x2="79.54" y2="510.4" stroke="#1a1a1a" stroke-width="1.1"/>
<line x1="89.56" y1="507" x2="89.56" y2="510.4" stroke="#1a1a1a" stroke-width="1.1"/>
<line x1="99.57" y1="507" x2="99.57" y2="510.4" stroke="#1a1a1a" stroke-width="1.1"/>
<line x1="109.59" y1="507" x2="109.59" y2="510.4" stroke="#1a1a1a" stroke-width="1.1"/>
<text x="56.9" y="453.6" font-size="6.8" fill="#1a1a1a" stroke="#1a1a1a" stroke-width="0.15" font-style="italic" textLength="11.9" lengthAdjust="spacingAndGlyphs">IL7R</text>
<line x1="148.6" y1="500.1" x2="208.9" y2="500.1" stroke="#a39d90" stroke-width="1" stroke-dasharray="3.8 1.45"/>
<line x1="153.42" y1="498.6" x2="153.42" y2="500.1" stroke="#aaaaa2" stroke-width="1"/>
<line x1="163.45" y1="498.6" x2="163.45" y2="500.1" stroke="#aaaaa2" stroke-width="1"/>
<line x1="173.48" y1="481.9" x2="173.48" y2="500.1" stroke="#aaaaa2" stroke-width="1"/>
<path d="M183.07 469L183.97 469L184.32 491.5L182.72 491.5Z" fill="url(#tg)"/>
<path d="M183.52 489.5C184.03 492.8 187.82 494.18 187.82 495.5C187.82 498.51 184.59 500.52 183.52 502.2C182.44 500.52 179.22 498.51 179.22 495.5C179.22 494.18 183 492.8 183.52 489.5Z" fill="#7b1a8e" stroke="#000" stroke-opacity="0.35" stroke-width="0.4"/>
<line x1="183.52" y1="491.4" x2="183.52" y2="499.34" stroke="#fff" stroke-width="0.35" stroke-opacity="0.6"/>
<rect x="182.62" y="493.4" width="1.8" height="4.44" fill="none" stroke="#fff" stroke-width="0.35" stroke-opacity="0.6"/>
<circle cx="183.52" cy="495.62" r="0.55" fill="#fff" fill-opacity="0.7"/>
<path d="M193.1 447.5L194 447.5L194.35 492.5L192.75 492.5Z" fill="url(#tg)"/>
<path d="M193.05 483L194.05 483L194.65 492.5L192.45 492.5Z" fill="#84cc34"/>
<path d="M193.55 490.5C194.09 493.52 198.05 494.79 198.05 496C198.05 498.93 194.67 500.88 193.55 502.5C192.42 500.88 189.05 498.93 189.05 496C189.05 494.79 193.01 493.52 193.55 490.5Z" fill="#84cc34" stroke="#000" stroke-opacity="0.35" stroke-width="0.4"/>
<line x1="193.55" y1="492.07" x2="193.55" y2="499.77" stroke="#fff" stroke-width="0.35" stroke-opacity="0.6"/>
<rect x="192.65" y="494.07" width="1.8" height="4.2" fill="none" stroke="#fff" stroke-width="0.35" stroke-opacity="0.6"/>
<circle cx="193.55" cy="496.17" r="0.55" fill="#fff" fill-opacity="0.7"/>
<path d="M203.13 463.5L204.03 463.5L204.38 490.5L202.78 490.5Z" fill="url(#tg)"/>
<path d="M203.08 479.5L204.08 479.5L204.68 490.5L202.48 490.5Z" fill="#1f5f20"/>
<path d="M203.58 488.5C204.13 492.62 208.18 494.35 208.18 496C208.18 499.06 204.73 501.1 203.58 502.8C202.43 501.1 198.98 499.06 198.98 496C198.98 494.35 203.03 492.62 203.58 488.5Z" fill="#1f5f20" stroke="#000" stroke-opacity="0.35" stroke-width="0.4"/>
<line x1="203.58" y1="491.38" x2="203.58" y2="499.88" stroke="#fff" stroke-width="0.35" stroke-opacity="0.6"/>
<rect x="202.68" y="493.38" width="1.8" height="5" fill="none" stroke="#fff" stroke-width="0.35" stroke-opacity="0.6"/>
<circle cx="203.58" cy="495.88" r="0.55" fill="#fff" fill-opacity="0.7"/>
<rect x="147.4" y="445.1" width="62.2" height="61.9" fill="none" stroke="#1a1a1a" stroke-width="1.3"/>
<line x1="144" y1="446" x2="147.4" y2="446" stroke="#1a1a1a" stroke-width="1.1"/>
<text x="140.7" y="448.55" font-size="7.3" fill="#2a2a2a" stroke="#2a2a2a" stroke-width="0.18" text-anchor="end">1.2</text>
<line x1="144" y1="463.8" x2="147.4" y2="463.8" stroke="#1a1a1a" stroke-width="1.1"/>
<text x="140.7" y="466.35" font-size="7.3" fill="#2a2a2a" stroke="#2a2a2a" stroke-width="0.18" text-anchor="end">0.8</text>
<line x1="144" y1="482.1" x2="147.4" y2="482.1" stroke="#1a1a1a" stroke-width="1.1"/>
<text x="140.7" y="484.65" font-size="7.3" fill="#2a2a2a" stroke="#2a2a2a" stroke-width="0.18" text-anchor="end">0.4</text>
<line x1="144" y1="500" x2="147.4" y2="500" stroke="#1a1a1a" stroke-width="1.1"/>
<text x="140.7" y="502.55" font-size="7.3" fill="#2a2a2a" stroke="#2a2a2a" stroke-width="0.18" text-anchor="end">0.0</text>
<line x1="153.42" y1="507" x2="153.42" y2="510.4" stroke="#1a1a1a" stroke-width="1.1"/>
<line x1="163.45" y1="507" x2="163.45" y2="510.4" stroke="#1a1a1a" stroke-width="1.1"/>
<line x1="173.48" y1="507" x2="173.48" y2="510.4" stroke="#1a1a1a" stroke-width="1.1"/>
<line x1="183.52" y1="507" x2="183.52" y2="510.4" stroke="#1a1a1a" stroke-width="1.1"/>
<line x1="193.55" y1="507" x2="193.55" y2="510.4" stroke="#1a1a1a" stroke-width="1.1"/>
<line x1="203.58" y1="507" x2="203.58" y2="510.4" stroke="#1a1a1a" stroke-width="1.1"/>
<text x="150.2" y="453.6" font-size="6.8" fill="#1a1a1a" stroke="#1a1a1a" stroke-width="0.15" font-style="italic" textLength="19" lengthAdjust="spacingAndGlyphs">CD79A</text>
<line x1="242.5" y1="499.2" x2="303.9" y2="499.2" stroke="#a39d90" stroke-width="1" stroke-dasharray="3.8 1.45"/>
<line x1="247.43" y1="498" x2="247.43" y2="499.2" stroke="#aaaaa2" stroke-width="1"/>
<line x1="257.64" y1="498" x2="257.64" y2="499.2" stroke="#aaaaa2" stroke-width="1"/>
<line x1="267.85" y1="492.4" x2="267.85" y2="499.2" stroke="#9a9a92" stroke-width="0.9"/>
<path d="M264.85 499.2L267.85 498.2L270.85 499.2L267.85 500.2Z" fill="#5fc2b2"/>
<path d="M277.6 485L278.5 485L278.85 493.5L277.25 493.5Z" fill="url(#tg)"/>
<path d="M278.05 491.5C278.59 494.52 282.55 495.79 282.55 497C282.55 498.62 279.18 499.7 278.05 500.6C276.93 499.7 273.55 498.62 273.55 497C273.55 495.79 277.51 494.52 278.05 491.5Z" fill="#7b1a8e" stroke="#000" stroke-opacity="0.35" stroke-width="0.4"/>
<line x1="278.05" y1="493.07" x2="278.05" y2="499.76" stroke="#fff" stroke-width="0.35" stroke-opacity="0.6"/>
<rect x="277.15" y="495.07" width="1.8" height="3.19" fill="none" stroke="#fff" stroke-width="0.35" stroke-opacity="0.6"/>
<circle cx="278.05" cy="496.67" r="0.55" fill="#fff" fill-opacity="0.7"/>
<path d="M287.81 467.8L288.71 467.8L289.06 484.5L287.46 484.5Z" fill="url(#tg)"/>
<path d="M288.26 482.5C288.84 490.2 293.06 493.42 293.06 496.5C293.06 498.88 289.46 500.48 288.26 501.8C287.06 500.48 283.46 498.88 283.46 496.5C283.46 493.42 287.69 490.2 288.26 482.5Z" fill="#84cc34" stroke="#000" stroke-opacity="0.35" stroke-width="0.4"/>
<line x1="288.26" y1="489.6" x2="288.26" y2="499.86" stroke="#fff" stroke-width="0.35" stroke-opacity="0.6"/>
<rect x="287.36" y="491.6" width="1.8" height="6.75" fill="none" stroke="#fff" stroke-width="0.35" stroke-opacity="0.6"/>
<circle cx="288.26" cy="494.98" r="0.55" fill="#fff" fill-opacity="0.7"/>
<path d="M298.02 447.5L298.92 447.5L299.27 483L297.67 483Z" fill="url(#tg)"/>
<path d="M298.47 481C299.06 488.43 303.37 491.53 303.37 494.5C303.37 498.77 299.7 501.62 298.47 504C297.25 501.62 293.57 498.77 293.57 494.5C293.57 491.53 297.89 488.43 298.47 481Z" fill="#1f5f20" stroke="#000" stroke-opacity="0.35" stroke-width="0.4"/>
<line x1="298.47" y1="487.77" x2="298.47" y2="499.32" stroke="#fff" stroke-width="0.35" stroke-opacity="0.6"/>
<rect x="297.57" y="489.77" width="1.8" height="8.05" fill="none" stroke="#fff" stroke-width="0.35" stroke-opacity="0.6"/>
<circle cx="298.47" cy="493.8" r="0.55" fill="#fff" fill-opacity="0.7"/>
<rect x="241.3" y="445.1" width="63.3" height="61.9" fill="none" stroke="#1a1a1a" stroke-width="1.3"/>
<line x1="237.9" y1="447.9" x2="241.3" y2="447.9" stroke="#1a1a1a" stroke-width="1.1"/>
<text x="234.6" y="450.45" font-size="7.3" fill="#2a2a2a" stroke="#2a2a2a" stroke-width="0.18" text-anchor="end">1.5</text>
<line x1="237.9" y1="465.2" x2="241.3" y2="465.2" stroke="#1a1a1a" stroke-width="1.1"/>
<text x="234.6" y="467.75" font-size="7.3" fill="#2a2a2a" stroke="#2a2a2a" stroke-width="0.18" text-anchor="end">1.0</text>
<line x1="237.9" y1="482.1" x2="241.3" y2="482.1" stroke="#1a1a1a" stroke-width="1.1"/>
<text x="234.6" y="484.65" font-size="7.3" fill="#2a2a2a" stroke="#2a2a2a" stroke-width="0.18" text-anchor="end">0.5</text>
<line x1="237.9" y1="499.4" x2="241.3" y2="499.4" stroke="#1a1a1a" stroke-width="1.1"/>
<text x="234.6" y="501.95" font-size="7.3" fill="#2a2a2a" stroke="#2a2a2a" stroke-width="0.18" text-anchor="end">0.0</text>
<line x1="247.43" y1="507" x2="247.43" y2="510.4" stroke="#1a1a1a" stroke-width="1.1"/>
<line x1="257.64" y1="507" x2="257.64" y2="510.4" stroke="#1a1a1a" stroke-width="1.1"/>
<line x1="267.85" y1="507" x2="267.85" y2="510.4" stroke="#1a1a1a" stroke-width="1.1"/>
<line x1="278.05" y1="507" x2="278.05" y2="510.4" stroke="#1a1a1a" stroke-width="1.1"/>
<line x1="288.26" y1="507" x2="288.26" y2="510.4" stroke="#1a1a1a" stroke-width="1.1"/>
<line x1="298.47" y1="507" x2="298.47" y2="510.4" stroke="#1a1a1a" stroke-width="1.1"/>
<text x="245.8" y="453.6" font-size="6.8" fill="#1a1a1a" stroke="#1a1a1a" stroke-width="0.15" font-style="italic" textLength="20.4" lengthAdjust="spacingAndGlyphs">VPREB1</text>
<line x1="332.7" y1="499.8" x2="394.3" y2="499.8" stroke="#a39d90" stroke-width="1" stroke-dasharray="3.8 1.45"/>
<line x1="358.13" y1="493.6" x2="358.13" y2="499.8" stroke="#9a9a92" stroke-width="0.9"/>
<path d="M354.33 499.8L358.13 498.8L361.93 499.8L358.13 500.8Z" fill="#5fc2b2"/>
<path d="M367.92 479.5L368.82 479.5L369.17 489.5L367.57 489.5Z" fill="url(#tg)"/>
<path d="M368.37 487.5C368.95 491.9 373.17 493.74 373.17 495.5C373.17 498.33 369.57 500.23 368.37 501.8C367.17 500.23 363.57 498.33 363.57 495.5C363.57 493.74 367.79 491.9 368.37 487.5Z" fill="#7b1a8e" stroke="#000" stroke-opacity="0.35" stroke-width="0.4"/>
<line x1="368.37" y1="490.7" x2="368.37" y2="499.2" stroke="#fff" stroke-width="0.35" stroke-opacity="0.6"/>
<rect x="367.47" y="492.7" width="1.8" height="5" fill="none" stroke="#fff" stroke-width="0.35" stroke-opacity="0.6"/>
<circle cx="368.37" cy="495.2" r="0.55" fill="#fff" fill-opacity="0.7"/>
<path d="M378.16 458L379.06 458L379.41 490L377.81 490Z" fill="url(#tg)"/>
<path d="M378.11 479.5L379.11 479.5L379.71 490L377.51 490Z" fill="#84cc34"/>
<path d="M378.61 488C379.19 492.4 383.41 494.24 383.41 496C383.41 499.06 379.81 501.1 378.61 502.8C377.41 501.1 373.81 499.06 373.81 496C373.81 494.24 378.04 492.4 378.61 488Z" fill="#84cc34" stroke="#000" stroke-opacity="0.35" stroke-width="0.4"/>
<line x1="378.61" y1="491.2" x2="378.61" y2="499.88" stroke="#fff" stroke-width="0.35" stroke-opacity="0.6"/>
<rect x="377.71" y="493.2" width="1.8" height="5.18" fill="none" stroke="#fff" stroke-width="0.35" stroke-opacity="0.6"/>
<circle cx="378.61" cy="495.79" r="0.55" fill="#fff" fill-opacity="0.7"/>
<path d="M388.4 447.5L389.3 447.5L389.65 490.5L388.05 490.5Z" fill="url(#tg)"/>
<path d="M388.35 479.5L389.35 479.5L389.95 490.5L387.75 490.5Z" fill="#1f5f20"/>
<path d="M388.85 488.5C389.43 493.18 393.65 495.13 393.65 497C393.65 499.7 390.05 501.5 388.85 503C387.65 501.5 384.05 499.7 384.05 497C384.05 495.13 388.28 493.18 388.85 488.5Z" fill="#1f5f20" stroke="#000" stroke-opacity="0.35" stroke-width="0.4"/>
<line x1="388.85" y1="492.02" x2="388.85" y2="500.6" stroke="#fff" stroke-width="0.35" stroke-opacity="0.6"/>
<rect x="387.95" y="494.02" width="1.8" height="5.08" fill="none" stroke="#fff" stroke-width="0.35" stroke-opacity="0.6"/>
<circle cx="388.85" cy="496.56" r="0.55" fill="#fff" fill-opacity="0.7"/>
<rect x="331.5" y="445.1" width="63.5" height="61.9" fill="none" stroke="#1a1a1a" stroke-width="1.3"/>
<line x1="328.1" y1="447.5" x2="331.5" y2="447.5" stroke="#1a1a1a" stroke-width="1.1"/>
<text x="324.8" y="450.05" font-size="7.3" fill="#2a2a2a" stroke="#2a2a2a" stroke-width="0.18" text-anchor="end">0.5</text>
<line x1="328.1" y1="458" x2="331.5" y2="458" stroke="#1a1a1a" stroke-width="1.1"/>
<text x="324.8" y="460.55" font-size="7.3" fill="#2a2a2a" stroke="#2a2a2a" stroke-width="0.18" text-anchor="end">0.4</text>
<line x1="328.1" y1="468.3" x2="331.5" y2="468.3" stroke="#1a1a1a" stroke-width="1.1"/>
<text x="324.8" y="470.85" font-size="7.3" fill="#2a2a2a" stroke="#2a2a2a" stroke-width="0.18" text-anchor="end">0.3</text>
<line x1="328.1" y1="478.8" x2="331.5" y2="478.8" stroke="#1a1a1a" stroke-width="1.1"/>
<text x="324.8" y="481.35" font-size="7.3" fill="#2a2a2a" stroke="#2a2a2a" stroke-width="0.18" text-anchor="end">0.2</text>
<line x1="328.1" y1="489.3" x2="331.5" y2="489.3" stroke="#1a1a1a" stroke-width="1.1"/>
<text x="324.8" y="491.85" font-size="7.3" fill="#2a2a2a" stroke="#2a2a2a" stroke-width="0.18" text-anchor="end">0.1</text>
<line x1="328.1" y1="499.6" x2="331.5" y2="499.6" stroke="#1a1a1a" stroke-width="1.1"/>
<text x="324.8" y="502.15" font-size="7.3" fill="#2a2a2a" stroke="#2a2a2a" stroke-width="0.18" text-anchor="end">0.0</text>
<line x1="337.65" y1="507" x2="337.65" y2="510.4" stroke="#1a1a1a" stroke-width="1.1"/>
<line x1="347.89" y1="507" x2="347.89" y2="510.4" stroke="#1a1a1a" stroke-width="1.1"/>
<line x1="358.13" y1="507" x2="358.13" y2="510.4" stroke="#1a1a1a" stroke-width="1.1"/>
<line x1="368.37" y1="507" x2="368.37" y2="510.4" stroke="#1a1a1a" stroke-width="1.1"/>
<line x1="378.61" y1="507" x2="378.61" y2="510.4" stroke="#1a1a1a" stroke-width="1.1"/>
<line x1="388.85" y1="507" x2="388.85" y2="510.4" stroke="#1a1a1a" stroke-width="1.1"/>
<text x="337.1" y="453.6" font-size="6.8" fill="#1a1a1a" stroke="#1a1a1a" stroke-width="0.15" font-style="italic" textLength="14.1" lengthAdjust="spacingAndGlyphs">EBF1</text>
<line x1="432.5" y1="499.2" x2="491.2" y2="499.2" stroke="#a39d90" stroke-width="1" stroke-dasharray="3.8 1.45"/>
<line x1="466.49" y1="469" x2="466.49" y2="499.2" stroke="#9a9a92" stroke-width="0.9"/>
<path d="M462.99 499.2L466.49 498.2L469.99 499.2L466.49 500.2Z" fill="#7b1a8e"/>
<path d="M475.81 447.5L476.71 447.5L477.06 489.5L475.46 489.5Z" fill="url(#tg)"/>
<path d="M475.76 478.2L476.76 478.2L477.36 489.5L475.16 489.5Z" fill="#84cc34"/>
<path d="M476.26 487.5C476.84 493.27 481.06 495.69 481.06 498C481.06 500.48 477.46 502.12 476.26 503.5C475.06 502.12 471.46 500.48 471.46 498C471.46 495.69 475.69 493.27 476.26 487.5Z" fill="#84cc34" stroke="#000" stroke-opacity="0.35" stroke-width="0.4"/>
<line x1="476.26" y1="492.32" x2="476.26" y2="501.43" stroke="#fff" stroke-width="0.35" stroke-opacity="0.6"/>
<rect x="475.36" y="494.32" width="1.8" height="5.6" fill="none" stroke="#fff" stroke-width="0.35" stroke-opacity="0.6"/>
<circle cx="476.26" cy="497.12" r="0.55" fill="#fff" fill-opacity="0.7"/>
<path d="M485.59 470.2L486.49 470.2L486.84 493.5L485.24 493.5Z" fill="url(#tg)"/>
<path d="M486.04 491.5C486.58 495.62 490.54 497.35 490.54 499C490.54 500.44 487.16 501.4 486.04 502.2C484.91 501.4 481.54 500.44 481.54 499C481.54 497.35 485.5 495.62 486.04 491.5Z" fill="#1f5f20" stroke="#000" stroke-opacity="0.35" stroke-width="0.4"/>
<line x1="486.04" y1="494.38" x2="486.04" y2="501.62" stroke="#fff" stroke-width="0.35" stroke-opacity="0.6"/>
<rect x="485.14" y="496.38" width="1.8" height="3.75" fill="none" stroke="#fff" stroke-width="0.35" stroke-opacity="0.6"/>
<circle cx="486.04" cy="498.25" r="0.55" fill="#fff" fill-opacity="0.7"/>
<rect x="431.3" y="445.1" width="60.6" height="61.9" fill="none" stroke="#1a1a1a" stroke-width="1.3"/>
<line x1="427.9" y1="449.5" x2="431.3" y2="449.5" stroke="#1a1a1a" stroke-width="1.1"/>
<text x="424.6" y="452.05" font-size="7.3" fill="#2a2a2a" stroke="#2a2a2a" stroke-width="0.18" text-anchor="end">0.100</text>
<line x1="427.9" y1="461.8" x2="431.3" y2="461.8" stroke="#1a1a1a" stroke-width="1.1"/>
<text x="424.6" y="464.35" font-size="7.3" fill="#2a2a2a" stroke="#2a2a2a" stroke-width="0.18" text-anchor="end">0.075</text>
<line x1="427.9" y1="474.3" x2="431.3" y2="474.3" stroke="#1a1a1a" stroke-width="1.1"/>
<text x="424.6" y="476.85" font-size="7.3" fill="#2a2a2a" stroke="#2a2a2a" stroke-width="0.18" text-anchor="end">0.050</text>
<line x1="427.9" y1="487" x2="431.3" y2="487" stroke="#1a1a1a" stroke-width="1.1"/>
<text x="424.6" y="489.55" font-size="7.3" fill="#2a2a2a" stroke="#2a2a2a" stroke-width="0.18" text-anchor="end">0.025</text>
<line x1="427.9" y1="499.5" x2="431.3" y2="499.5" stroke="#1a1a1a" stroke-width="1.1"/>
<text x="424.6" y="502.05" font-size="7.3" fill="#2a2a2a" stroke="#2a2a2a" stroke-width="0.18" text-anchor="end">0.000</text>
<line x1="437.16" y1="507" x2="437.16" y2="510.4" stroke="#1a1a1a" stroke-width="1.1"/>
<line x1="446.94" y1="507" x2="446.94" y2="510.4" stroke="#1a1a1a" stroke-width="1.1"/>
<line x1="456.71" y1="507" x2="456.71" y2="510.4" stroke="#1a1a1a" stroke-width="1.1"/>
<line x1="466.49" y1="507" x2="466.49" y2="510.4" stroke="#1a1a1a" stroke-width="1.1"/>
<line x1="476.26" y1="507" x2="476.26" y2="510.4" stroke="#1a1a1a" stroke-width="1.1"/>
<line x1="486.04" y1="507" x2="486.04" y2="510.4" stroke="#1a1a1a" stroke-width="1.1"/>
<text x="435.9" y="453.6" font-size="6.8" fill="#1a1a1a" stroke="#1a1a1a" stroke-width="0.15" font-style="italic" textLength="15.9" lengthAdjust="spacingAndGlyphs">DNTT</text>
<line x1="54.7" y1="578.2" x2="115.5" y2="578.2" stroke="#a39d90" stroke-width="1" stroke-dasharray="3.8 1.45"/>
<path d="M89.46 549.2L90.36 549.2L90.71 567.5L89.11 567.5Z" fill="url(#tg)"/>
<path d="M89.91 565.5C90.45 571.27 94.41 573.69 94.41 576C94.41 578.16 91.03 579.6 89.91 580.8C88.78 579.6 85.41 578.16 85.41 576C85.41 573.69 89.37 571.27 89.91 565.5Z" fill="#7b1a8e" stroke="#000" stroke-opacity="0.35" stroke-width="0.4"/>
<line x1="89.91" y1="570.33" x2="89.91" y2="579.18" stroke="#fff" stroke-width="0.35" stroke-opacity="0.6"/>
<rect x="89.01" y="572.33" width="1.8" height="5.35" fill="none" stroke="#fff" stroke-width="0.35" stroke-opacity="0.6"/>
<circle cx="89.91" cy="575" r="0.55" fill="#fff" fill-opacity="0.7"/>
<path d="M99.57 543.7L100.47 543.7L100.82 569L99.22 569Z" fill="url(#tg)"/>
<path d="M99.52 561L100.52 561L101.12 569L98.92 569Z" fill="#84cc34"/>
<path d="M100.02 567C100.57 571.4 104.62 573.24 104.62 575C104.62 577.84 101.17 579.72 100.02 581.3C98.87 579.72 95.42 577.84 95.42 575C95.42 573.24 99.47 571.4 100.02 567Z" fill="#84cc34" stroke="#000" stroke-opacity="0.35" stroke-width="0.4"/>
<line x1="100.02" y1="570.2" x2="100.02" y2="578.7" stroke="#fff" stroke-width="0.35" stroke-opacity="0.6"/>
<rect x="99.12" y="572.2" width="1.8" height="5" fill="none" stroke="#fff" stroke-width="0.35" stroke-opacity="0.6"/>
<circle cx="100.02" cy="574.7" r="0.55" fill="#fff" fill-opacity="0.7"/>
<path d="M109.68 527L110.58 527L110.93 569L109.33 569Z" fill="url(#tg)"/>
<path d="M109.63 561L110.63 561L111.23 569L109.03 569Z" fill="#1f5f20"/>
<path d="M110.13 567C110.71 571.95 114.93 574.02 114.93 576C114.93 578.65 111.33 580.42 110.13 581.9C108.93 580.42 105.33 578.65 105.33 576C105.33 574.02 109.56 571.95 110.13 567Z" fill="#1f5f20" stroke="#000" stroke-opacity="0.35" stroke-width="0.4"/>
<line x1="110.13" y1="570.85" x2="110.13" y2="579.56" stroke="#fff" stroke-width="0.35" stroke-opacity="0.6"/>
<rect x="109.23" y="572.85" width="1.8" height="5.21" fill="none" stroke="#fff" stroke-width="0.35" stroke-opacity="0.6"/>
<circle cx="110.13" cy="575.46" r="0.55" fill="#fff" fill-opacity="0.7"/>
<rect x="53.5" y="524.8" width="62.7" height="61.5" fill="none" stroke="#1a1a1a" stroke-width="1.3"/>
<line x1="50.1" y1="529.3" x2="53.5" y2="529.3" stroke="#1a1a1a" stroke-width="1.1"/>
<text x="46.8" y="531.85" font-size="7.3" fill="#2a2a2a" stroke="#2a2a2a" stroke-width="0.18" text-anchor="end">0.3</text>
<line x1="50.1" y1="545.8" x2="53.5" y2="545.8" stroke="#1a1a1a" stroke-width="1.1"/>
<text x="46.8" y="548.35" font-size="7.3" fill="#2a2a2a" stroke="#2a2a2a" stroke-width="0.18" text-anchor="end">0.2</text>
<line x1="50.1" y1="562" x2="53.5" y2="562" stroke="#1a1a1a" stroke-width="1.1"/>
<text x="46.8" y="564.55" font-size="7.3" fill="#2a2a2a" stroke="#2a2a2a" stroke-width="0.18" text-anchor="end">0.1</text>
<line x1="50.1" y1="578.3" x2="53.5" y2="578.3" stroke="#1a1a1a" stroke-width="1.1"/>
<text x="46.8" y="580.85" font-size="7.3" fill="#2a2a2a" stroke="#2a2a2a" stroke-width="0.18" text-anchor="end">0.0</text>
<line x1="59.57" y1="586.3" x2="59.57" y2="589.7" stroke="#1a1a1a" stroke-width="1.1"/>
<line x1="69.68" y1="586.3" x2="69.68" y2="589.7" stroke="#1a1a1a" stroke-width="1.1"/>
<line x1="79.79" y1="586.3" x2="79.79" y2="589.7" stroke="#1a1a1a" stroke-width="1.1"/>
<line x1="89.91" y1="586.3" x2="89.91" y2="589.7" stroke="#1a1a1a" stroke-width="1.1"/>
<line x1="100.02" y1="586.3" x2="100.02" y2="589.7" stroke="#1a1a1a" stroke-width="1.1"/>
<line x1="110.13" y1="586.3" x2="110.13" y2="589.7" stroke="#1a1a1a" stroke-width="1.1"/>
<text x="58.8" y="533.3" font-size="6.8" fill="#1a1a1a" stroke="#1a1a1a" stroke-width="0.15" font-style="italic" textLength="14.4" lengthAdjust="spacingAndGlyphs">PAX5</text>
<line x1="148.6" y1="579.4" x2="208.9" y2="579.4" stroke="#a39d90" stroke-width="1" stroke-dasharray="3.8 1.45"/>
<path d="M183.07 562.8L183.97 562.8L184.32 578.3L182.72 578.3Z" fill="url(#tg)"/>
<path d="M183.52 576.3C184.03 578 187.82 578.72 187.82 579.4C187.82 580.57 184.59 581.35 183.52 582C182.44 581.35 179.22 580.57 179.22 579.4C179.22 578.72 183 578 183.52 576.3Z" fill="#7b1a8e" stroke="#000" stroke-opacity="0.35" stroke-width="0.4"/>
<circle cx="183.52" cy="579.4" r="0.8" fill="#fff" fill-opacity="0.8"/>
<path d="M193.1 533.2L194 533.2L194.35 577.3L192.75 577.3Z" fill="url(#tg)"/>
<path d="M193.05 571.4L194.05 571.4L194.65 577.3L192.45 577.3Z" fill="#84cc34"/>
<path d="M193.55 575.3C194.1 577.34 198.15 578.19 198.15 579C198.15 580.8 194.7 582 193.55 583C192.4 582 188.95 580.8 188.95 579C188.95 578.19 193 577.34 193.55 575.3Z" fill="#84cc34" stroke="#000" stroke-opacity="0.35" stroke-width="0.4"/>
<line x1="193.55" y1="575.7" x2="193.55" y2="581.9" stroke="#fff" stroke-width="0.35" stroke-opacity="0.6"/>
<rect x="192.65" y="577.7" width="1.8" height="2.7" fill="none" stroke="#fff" stroke-width="0.35" stroke-opacity="0.6"/>
<circle cx="193.55" cy="579.05" r="0.55" fill="#fff" fill-opacity="0.7"/>
<path d="M203.13 527L204.03 527L204.38 576.8L202.78 576.8Z" fill="url(#tg)"/>
<path d="M203.08 573L204.08 573L204.68 576.8L202.48 576.8Z" fill="#1f5f20"/>
<path d="M203.58 574.8C204.17 577.11 208.48 578.08 208.48 579C208.48 581.25 204.81 582.75 203.58 584C202.36 582.75 198.68 581.25 198.68 579C198.68 578.08 202.99 577.11 203.58 574.8Z" fill="#1f5f20" stroke="#000" stroke-opacity="0.35" stroke-width="0.4"/>
<line x1="203.58" y1="575.53" x2="203.58" y2="582.25" stroke="#fff" stroke-width="0.35" stroke-opacity="0.6"/>
<rect x="202.68" y="577.53" width="1.8" height="3.22" fill="none" stroke="#fff" stroke-width="0.35" stroke-opacity="0.6"/>
<circle cx="203.58" cy="579.14" r="0.55" fill="#fff" fill-opacity="0.7"/>
<rect x="147.4" y="524.8" width="62.2" height="61.5" fill="none" stroke="#1a1a1a" stroke-width="1.3"/>
<line x1="144" y1="524.2" x2="147.4" y2="524.2" stroke="#1a1a1a" stroke-width="1.1"/>
<text x="140.7" y="526.75" font-size="7.3" fill="#2a2a2a" stroke="#2a2a2a" stroke-width="0.18" text-anchor="end">0.12</text>
<line x1="144" y1="542.7" x2="147.4" y2="542.7" stroke="#1a1a1a" stroke-width="1.1"/>
<text x="140.7" y="545.25" font-size="7.3" fill="#2a2a2a" stroke="#2a2a2a" stroke-width="0.18" text-anchor="end">0.08</text>
<line x1="144" y1="561.2" x2="147.4" y2="561.2" stroke="#1a1a1a" stroke-width="1.1"/>
<text x="140.7" y="563.75" font-size="7.3" fill="#2a2a2a" stroke="#2a2a2a" stroke-width="0.18" text-anchor="end">0.04</text>
<line x1="144" y1="579.6" x2="147.4" y2="579.6" stroke="#1a1a1a" stroke-width="1.1"/>
<text x="140.7" y="582.15" font-size="7.3" fill="#2a2a2a" stroke="#2a2a2a" stroke-width="0.18" text-anchor="end">0.00</text>
<line x1="153.42" y1="586.3" x2="153.42" y2="589.7" stroke="#1a1a1a" stroke-width="1.1"/>
<line x1="163.45" y1="586.3" x2="163.45" y2="589.7" stroke="#1a1a1a" stroke-width="1.1"/>
<line x1="173.48" y1="586.3" x2="173.48" y2="589.7" stroke="#1a1a1a" stroke-width="1.1"/>
<line x1="183.52" y1="586.3" x2="183.52" y2="589.7" stroke="#1a1a1a" stroke-width="1.1"/>
<line x1="193.55" y1="586.3" x2="193.55" y2="589.7" stroke="#1a1a1a" stroke-width="1.1"/>
<line x1="203.58" y1="586.3" x2="203.58" y2="589.7" stroke="#1a1a1a" stroke-width="1.1"/>
<text x="151.9" y="533.3" font-size="6.8" fill="#1a1a1a" stroke="#1a1a1a" stroke-width="0.15" font-style="italic" textLength="16.2" lengthAdjust="spacingAndGlyphs">CD19</text>
<line x1="242.5" y1="579.4" x2="304.5" y2="579.4" stroke="#a39d90" stroke-width="1" stroke-dasharray="3.8 1.45"/>
<line x1="247.48" y1="578.5" x2="247.48" y2="579.4" stroke="#aaaaa2" stroke-width="1"/>
<line x1="257.79" y1="578" x2="257.79" y2="579.4" stroke="#aaaaa2" stroke-width="1"/>
<line x1="268.1" y1="572.6" x2="268.1" y2="579.4" stroke="#aaaaa2" stroke-width="1"/>
<line x1="278.4" y1="574.2" x2="278.4" y2="579.4" stroke="#aaaaa2" stroke-width="1"/>
<path d="M288.26 559.7L289.16 559.7L289.51 577.5L287.91 577.5Z" fill="url(#tg)"/>
<path d="M288.71 575.5C289.2 577.64 292.81 578.54 292.81 579.4C292.81 580.12 289.73 580.6 288.71 581C287.68 580.6 284.61 580.12 284.61 579.4C284.61 578.54 288.22 577.64 288.71 575.5Z" fill="#84cc34" stroke="#000" stroke-opacity="0.35" stroke-width="0.4"/>
<circle cx="288.71" cy="579.4" r="0.8" fill="#fff" fill-opacity="0.8"/>
<path d="M298.57 527L299.47 527L299.82 571.5L298.22 571.5Z" fill="url(#tg)"/>
<path d="M298.52 564.6L299.52 564.6L300.12 571.5L297.92 571.5Z" fill="#1f5f20"/>
<path d="M299.02 569.5C299.6 573.62 303.92 575.35 303.92 577C303.92 579.52 300.24 581.2 299.02 582.6C297.79 581.2 294.12 579.52 294.12 577C294.12 575.35 298.43 573.62 299.02 569.5Z" fill="#1f5f20" stroke="#000" stroke-opacity="0.35" stroke-width="0.4"/>
<line x1="299.02" y1="572.38" x2="299.02" y2="580.46" stroke="#fff" stroke-width="0.35" stroke-opacity="0.6"/>
<rect x="298.12" y="574.38" width="1.8" height="4.59" fill="none" stroke="#fff" stroke-width="0.35" stroke-opacity="0.6"/>
<circle cx="299.02" cy="576.67" r="0.55" fill="#fff" fill-opacity="0.7"/>
<rect x="241.3" y="524.8" width="63.9" height="61.5" fill="none" stroke="#1a1a1a" stroke-width="1.3"/>
<line x1="237.9" y1="540.2" x2="241.3" y2="540.2" stroke="#1a1a1a" stroke-width="1.1"/>
<text x="234.6" y="542.75" font-size="7.3" fill="#2a2a2a" stroke="#2a2a2a" stroke-width="0.18" text-anchor="end">0.4</text>
<line x1="237.9" y1="559.6" x2="241.3" y2="559.6" stroke="#1a1a1a" stroke-width="1.1"/>
<text x="234.6" y="562.15" font-size="7.3" fill="#2a2a2a" stroke="#2a2a2a" stroke-width="0.18" text-anchor="end">0.2</text>
<line x1="237.9" y1="579.6" x2="241.3" y2="579.6" stroke="#1a1a1a" stroke-width="1.1"/>
<text x="234.6" y="582.15" font-size="7.3" fill="#2a2a2a" stroke="#2a2a2a" stroke-width="0.18" text-anchor="end">0.0</text>
<line x1="247.48" y1="586.3" x2="247.48" y2="589.7" stroke="#1a1a1a" stroke-width="1.1"/>
<line x1="257.79" y1="586.3" x2="257.79" y2="589.7" stroke="#1a1a1a" stroke-width="1.1"/>
<line x1="268.1" y1="586.3" x2="268.1" y2="589.7" stroke="#1a1a1a" stroke-width="1.1"/>
<line x1="278.4" y1="586.3" x2="278.4" y2="589.7" stroke="#1a1a1a" stroke-width="1.1"/>
<line x1="288.71" y1="586.3" x2="288.71" y2="589.7" stroke="#1a1a1a" stroke-width="1.1"/>
<line x1="299.02" y1="586.3" x2="299.02" y2="589.7" stroke="#1a1a1a" stroke-width="1.1"/>
<text x="246.5" y="533.3" font-size="6.8" fill="#1a1a1a" stroke="#1a1a1a" stroke-width="0.15" font-style="italic" textLength="14.7" lengthAdjust="spacingAndGlyphs">MME</text>
<line x1="332.7" y1="576.3" x2="395.5" y2="576.3" stroke="#a39d90" stroke-width="1" stroke-dasharray="3.8 1.45"/>
<line x1="369.07" y1="571" x2="369.07" y2="576.3" stroke="#aaaaa2" stroke-width="1"/>
<path d="M368.62 563.4L369.52 563.4L369.87 573.3L368.27 573.3Z" fill="url(#tg)"/>
<path d="M369.07 571.3C369.61 573.61 373.57 574.58 373.57 575.5C373.57 577.3 370.19 578.5 369.07 579.5C367.94 578.5 364.57 577.3 364.57 575.5C364.57 574.58 368.53 573.61 369.07 571.3Z" fill="#7b1a8e" stroke="#000" stroke-opacity="0.35" stroke-width="0.4"/>
<line x1="369.07" y1="572.03" x2="369.07" y2="578.4" stroke="#fff" stroke-width="0.35" stroke-opacity="0.6"/>
<rect x="368.17" y="574.03" width="1.8" height="2.87" fill="none" stroke="#fff" stroke-width="0.35" stroke-opacity="0.6"/>
<circle cx="369.07" cy="575.46" r="0.55" fill="#fff" fill-opacity="0.7"/>
<path d="M379.05 527L379.95 527L380.3 573.8L378.7 573.8Z" fill="url(#tg)"/>
<path d="M379 570.8L380 570.8L380.6 573.8L378.4 573.8Z" fill="#84cc34"/>
<path d="M379.5 571.8C380.06 574.11 384.1 575.08 384.1 576C384.1 578.02 380.65 579.38 379.5 580.5C378.35 579.38 374.9 578.02 374.9 576C374.9 575.08 378.95 574.11 379.5 571.8Z" fill="#84cc34" stroke="#000" stroke-opacity="0.35" stroke-width="0.4"/>
<line x1="379.5" y1="572.53" x2="379.5" y2="579.08" stroke="#fff" stroke-width="0.35" stroke-opacity="0.6"/>
<rect x="378.6" y="574.53" width="1.8" height="3.05" fill="none" stroke="#fff" stroke-width="0.35" stroke-opacity="0.6"/>
<circle cx="379.5" cy="576.05" r="0.55" fill="#fff" fill-opacity="0.7"/>
<path d="M389.49 530.2L390.39 530.2L390.74 550L389.14 550Z" fill="url(#tg)"/>
<path d="M389.94 548C390.55 563.4 395.04 569.84 395.04 576C395.04 579.24 391.21 581.4 389.94 583.2C388.66 581.4 384.84 579.24 384.84 576C384.84 569.84 389.33 563.4 389.94 548Z" fill="#1f5f20" stroke="#000" stroke-opacity="0.35" stroke-width="0.4"/>
<line x1="389.94" y1="564.2" x2="389.94" y2="580.02" stroke="#fff" stroke-width="0.35" stroke-opacity="0.6"/>
<rect x="389.04" y="566.2" width="1.8" height="12.32" fill="none" stroke="#fff" stroke-width="0.35" stroke-opacity="0.6"/>
<circle cx="389.94" cy="572.36" r="0.55" fill="#fff" fill-opacity="0.7"/>
<rect x="331.5" y="524.8" width="64.7" height="61.5" fill="none" stroke="#1a1a1a" stroke-width="1.3"/>
<line x1="328.1" y1="531" x2="331.5" y2="531" stroke="#1a1a1a" stroke-width="1.1"/>
<text x="324.8" y="533.55" font-size="7.3" fill="#2a2a2a" stroke="#2a2a2a" stroke-width="0.18" text-anchor="end">3</text>
<line x1="328.1" y1="545.8" x2="331.5" y2="545.8" stroke="#1a1a1a" stroke-width="1.1"/>
<text x="324.8" y="548.35" font-size="7.3" fill="#2a2a2a" stroke="#2a2a2a" stroke-width="0.18" text-anchor="end">2</text>
<line x1="328.1" y1="561.2" x2="331.5" y2="561.2" stroke="#1a1a1a" stroke-width="1.1"/>
<text x="324.8" y="563.75" font-size="7.3" fill="#2a2a2a" stroke="#2a2a2a" stroke-width="0.18" text-anchor="end">1</text>
<line x1="328.1" y1="576.5" x2="331.5" y2="576.5" stroke="#1a1a1a" stroke-width="1.1"/>
<text x="324.8" y="579.05" font-size="7.3" fill="#2a2a2a" stroke="#2a2a2a" stroke-width="0.18" text-anchor="end">0</text>
<line x1="337.76" y1="586.3" x2="337.76" y2="589.7" stroke="#1a1a1a" stroke-width="1.1"/>
<line x1="348.2" y1="586.3" x2="348.2" y2="589.7" stroke="#1a1a1a" stroke-width="1.1"/>
<line x1="358.63" y1="586.3" x2="358.63" y2="589.7" stroke="#1a1a1a" stroke-width="1.1"/>
<line x1="369.07" y1="586.3" x2="369.07" y2="589.7" stroke="#1a1a1a" stroke-width="1.1"/>
<line x1="379.5" y1="586.3" x2="379.5" y2="589.7" stroke="#1a1a1a" stroke-width="1.1"/>
<line x1="389.94" y1="586.3" x2="389.94" y2="589.7" stroke="#1a1a1a" stroke-width="1.1"/>
<text x="336.2" y="533.3" font-size="6.8" fill="#1a1a1a" stroke="#1a1a1a" stroke-width="0.15" font-style="italic" textLength="15.7" lengthAdjust="spacingAndGlyphs">RAG1</text>
<line x1="432.5" y1="576.6" x2="494" y2="576.6" stroke="#a39d90" stroke-width="1" stroke-dasharray="3.8 1.45"/>
<line x1="437.44" y1="571.4" x2="437.44" y2="576.6" stroke="#9a9a92" stroke-width="0.9"/>
<path d="M433.44 576.6L437.44 575.6L441.44 576.6L437.44 577.6Z" fill="#e6b422"/>
<line x1="447.66" y1="567.7" x2="447.66" y2="576.6" stroke="#9a9a92" stroke-width="0.9"/>
<path d="M443.66 576.6L447.66 575.6L451.66 576.6L447.66 577.6Z" fill="#e0561c"/>
<line x1="457.89" y1="560.9" x2="457.89" y2="576.6" stroke="#9a9a92" stroke-width="0.9"/>
<path d="M453.89 576.6L457.89 575.6L461.89 576.6L457.89 577.6Z" fill="#5fc2b2"/>
<path d="M467.66 548L468.56 548L468.91 569.5L467.31 569.5Z" fill="url(#tg)"/>
<path d="M468.11 567.5C468.69 571.62 472.91 573.35 472.91 575C472.91 576.53 469.31 577.55 468.11 578.4C466.91 577.55 463.31 576.53 463.31 575C463.31 573.35 467.54 571.62 468.11 567.5Z" fill="#7b1a8e" stroke="#000" stroke-opacity="0.35" stroke-width="0.4"/>
<line x1="468.11" y1="570.38" x2="468.11" y2="577.69" stroke="#fff" stroke-width="0.35" stroke-opacity="0.6"/>
<rect x="467.21" y="572.38" width="1.8" height="3.81" fill="none" stroke="#fff" stroke-width="0.35" stroke-opacity="0.6"/>
<circle cx="468.11" cy="574.28" r="0.55" fill="#fff" fill-opacity="0.7"/>
<path d="M477.89 528.9L478.79 528.9L479.14 569.5L477.54 569.5Z" fill="url(#tg)"/>
<path d="M477.84 564L478.84 564L479.44 569.5L477.24 569.5Z" fill="#84cc34"/>
<path d="M478.34 567.5C478.91 571.9 483.14 573.74 483.14 575.5C483.14 577.3 479.54 578.5 478.34 579.5C477.14 578.5 473.54 577.3 473.54 575.5C473.54 573.74 477.76 571.9 478.34 567.5Z" fill="#84cc34" stroke="#000" stroke-opacity="0.35" stroke-width="0.4"/>
<line x1="478.34" y1="570.7" x2="478.34" y2="578.4" stroke="#fff" stroke-width="0.35" stroke-opacity="0.6"/>
<rect x="477.44" y="572.7" width="1.8" height="4.2" fill="none" stroke="#fff" stroke-width="0.35" stroke-opacity="0.6"/>
<circle cx="478.34" cy="574.8" r="0.55" fill="#fff" fill-opacity="0.7"/>
<path d="M488.11 527L489.01 527L489.36 554.5L487.76 554.5Z" fill="url(#tg)"/>
<path d="M488.56 552.5C489.18 564.88 493.66 570.05 493.66 575C493.66 578.96 489.84 581.6 488.56 583.8C487.29 581.6 483.46 578.96 483.46 575C483.46 570.05 487.95 564.88 488.56 552.5Z" fill="#1f5f20" stroke="#000" stroke-opacity="0.35" stroke-width="0.4"/>
<line x1="488.56" y1="565.12" x2="488.56" y2="579.58" stroke="#fff" stroke-width="0.35" stroke-opacity="0.6"/>
<rect x="487.66" y="567.12" width="1.8" height="10.95" fill="none" stroke="#fff" stroke-width="0.35" stroke-opacity="0.6"/>
<circle cx="488.56" cy="572.6" r="0.55" fill="#fff" fill-opacity="0.7"/>
<rect x="431.3" y="524.8" width="63.4" height="61.5" fill="none" stroke="#1a1a1a" stroke-width="1.3"/>
<line x1="427.9" y1="529.6" x2="431.3" y2="529.6" stroke="#1a1a1a" stroke-width="1.1"/>
<text x="424.6" y="532.15" font-size="7.3" fill="#2a2a2a" stroke="#2a2a2a" stroke-width="0.18" text-anchor="end">0.3</text>
<line x1="427.9" y1="545.3" x2="431.3" y2="545.3" stroke="#1a1a1a" stroke-width="1.1"/>
<text x="424.6" y="547.85" font-size="7.3" fill="#2a2a2a" stroke="#2a2a2a" stroke-width="0.18" text-anchor="end">0.2</text>
<line x1="427.9" y1="560.7" x2="431.3" y2="560.7" stroke="#1a1a1a" stroke-width="1.1"/>
<text x="424.6" y="563.25" font-size="7.3" fill="#2a2a2a" stroke="#2a2a2a" stroke-width="0.18" text-anchor="end">0.1</text>
<line x1="427.9" y1="576.4" x2="431.3" y2="576.4" stroke="#1a1a1a" stroke-width="1.1"/>
<text x="424.6" y="578.95" font-size="7.3" fill="#2a2a2a" stroke="#2a2a2a" stroke-width="0.18" text-anchor="end">0.0</text>
<line x1="437.44" y1="586.3" x2="437.44" y2="589.7" stroke="#1a1a1a" stroke-width="1.1"/>
<line x1="447.66" y1="586.3" x2="447.66" y2="589.7" stroke="#1a1a1a" stroke-width="1.1"/>
<line x1="457.89" y1="586.3" x2="457.89" y2="589.7" stroke="#1a1a1a" stroke-width="1.1"/>
<line x1="468.11" y1="586.3" x2="468.11" y2="589.7" stroke="#1a1a1a" stroke-width="1.1"/>
<line x1="478.34" y1="586.3" x2="478.34" y2="589.7" stroke="#1a1a1a" stroke-width="1.1"/>
<line x1="488.56" y1="586.3" x2="488.56" y2="589.7" stroke="#1a1a1a" stroke-width="1.1"/>
<text x="436.2" y="533.3" font-size="6.8" fill="#1a1a1a" stroke="#1a1a1a" stroke-width="0.15" font-style="italic" textLength="15.6" lengthAdjust="spacingAndGlyphs">RAG2</text>
<line x1="54.7" y1="652.9" x2="115.5" y2="652.9" stroke="#a39d90" stroke-width="1" stroke-dasharray="3.8 1.45"/>
<line x1="59.57" y1="645" x2="59.57" y2="652.9" stroke="#9a9a92" stroke-width="0.9"/>
<path d="M55.57 652.9L59.57 651.9L63.57 652.9L59.57 653.9Z" fill="#e6b422"/>
<line x1="69.68" y1="648" x2="69.68" y2="652.9" stroke="#9a9a92" stroke-width="0.9"/>
<path d="M65.68 652.9L69.68 651.9L73.68 652.9L69.68 653.9Z" fill="#e0561c"/>
<line x1="79.79" y1="645" x2="79.79" y2="652.9" stroke="#9a9a92" stroke-width="0.9"/>
<path d="M75.79 652.9L79.79 651.9L83.79 652.9L79.79 653.9Z" fill="#5fc2b2"/>
<path d="M89.46 641.2L90.36 641.2L90.71 650.5L89.11 650.5Z" fill="url(#tg)"/>
<path d="M89.91 648.5C90.39 650.98 93.91 652.01 93.91 653C93.91 653.72 90.91 654.2 89.91 654.6C88.91 654.2 85.91 653.72 85.91 653C85.91 652.01 89.43 650.98 89.91 648.5Z" fill="#7b1a8e" stroke="#000" stroke-opacity="0.35" stroke-width="0.4"/>
<circle cx="89.91" cy="653" r="0.8" fill="#fff" fill-opacity="0.8"/>
<path d="M99.57 604.3L100.47 604.3L100.82 646.5L99.22 646.5Z" fill="url(#tg)"/>
<path d="M99.52 642.5L100.52 642.5L101.12 646.5L98.92 646.5Z" fill="#84cc34"/>
<path d="M100.02 644.5C100.57 648.62 104.62 650.35 104.62 652C104.62 653.89 101.17 655.15 100.02 656.2C98.87 655.15 95.42 653.89 95.42 652C95.42 650.35 99.47 648.62 100.02 644.5Z" fill="#84cc34" stroke="#000" stroke-opacity="0.35" stroke-width="0.4"/>
<line x1="100.02" y1="647.38" x2="100.02" y2="654.97" stroke="#fff" stroke-width="0.35" stroke-opacity="0.6"/>
<rect x="99.12" y="649.38" width="1.8" height="4.1" fill="none" stroke="#fff" stroke-width="0.35" stroke-opacity="0.6"/>
<circle cx="100.02" cy="651.42" r="0.55" fill="#fff" fill-opacity="0.7"/>
<path d="M109.68 602.5L110.58 602.5L110.93 630L109.33 630Z" fill="url(#tg)"/>
<path d="M110.13 628C110.74 640.1 115.23 645.16 115.23 650C115.23 654.68 111.41 657.8 110.13 660.4C108.86 657.8 105.03 654.68 105.03 650C105.03 645.16 109.52 640.1 110.13 628Z" fill="#1f5f20" stroke="#000" stroke-opacity="0.35" stroke-width="0.4"/>
<line x1="110.13" y1="640.3" x2="110.13" y2="655.14" stroke="#fff" stroke-width="0.35" stroke-opacity="0.6"/>
<rect x="109.23" y="642.3" width="1.8" height="11.34" fill="none" stroke="#fff" stroke-width="0.35" stroke-opacity="0.6"/>
<circle cx="110.13" cy="647.97" r="0.55" fill="#fff" fill-opacity="0.7"/>
<rect x="53.5" y="600.2" width="62.7" height="62.1" fill="none" stroke="#1a1a1a" stroke-width="1.3"/>
<line x1="50.1" y1="607.7" x2="53.5" y2="607.7" stroke="#1a1a1a" stroke-width="1.1"/>
<text x="46.8" y="610.25" font-size="7.3" fill="#2a2a2a" stroke="#2a2a2a" stroke-width="0.18" text-anchor="end">0.15</text>
<line x1="50.1" y1="622.5" x2="53.5" y2="622.5" stroke="#1a1a1a" stroke-width="1.1"/>
<text x="46.8" y="625.05" font-size="7.3" fill="#2a2a2a" stroke="#2a2a2a" stroke-width="0.18" text-anchor="end">0.10</text>
<line x1="50.1" y1="637.6" x2="53.5" y2="637.6" stroke="#1a1a1a" stroke-width="1.1"/>
<text x="46.8" y="640.15" font-size="7.3" fill="#2a2a2a" stroke="#2a2a2a" stroke-width="0.18" text-anchor="end">0.05</text>
<line x1="50.1" y1="652.6" x2="53.5" y2="652.6" stroke="#1a1a1a" stroke-width="1.1"/>
<text x="46.8" y="655.15" font-size="7.3" fill="#2a2a2a" stroke="#2a2a2a" stroke-width="0.18" text-anchor="end">0.00</text>
<line x1="59.57" y1="662.3" x2="59.57" y2="665.7" stroke="#1a1a1a" stroke-width="1.1"/>
<line x1="69.68" y1="662.3" x2="69.68" y2="665.7" stroke="#1a1a1a" stroke-width="1.1"/>
<line x1="79.79" y1="662.3" x2="79.79" y2="665.7" stroke="#1a1a1a" stroke-width="1.1"/>
<line x1="89.91" y1="662.3" x2="89.91" y2="665.7" stroke="#1a1a1a" stroke-width="1.1"/>
<line x1="100.02" y1="662.3" x2="100.02" y2="665.7" stroke="#1a1a1a" stroke-width="1.1"/>
<line x1="110.13" y1="662.3" x2="110.13" y2="665.7" stroke="#1a1a1a" stroke-width="1.1"/>
<text x="56.75" y="608.7" font-size="6.8" fill="#1a1a1a" stroke="#1a1a1a" stroke-width="0.15" font-style="italic" textLength="15.25" lengthAdjust="spacingAndGlyphs">CD72</text>
<text x="62.97" y="671" font-size="6.9" fill="#2a2a2a" stroke="#2a2a2a" stroke-width="0.18" text-anchor="end" transform="rotate(-45 62.97 671)">HSC</text>
<text x="73.08" y="671" font-size="6.9" fill="#2a2a2a" stroke="#2a2a2a" stroke-width="0.18" text-anchor="end" transform="rotate(-45 73.08 671)">MPP</text>
<text x="83.19" y="671" font-size="6.9" fill="#2a2a2a" stroke="#2a2a2a" stroke-width="0.18" text-anchor="end" transform="rotate(-45 83.19 671)">LMPP</text>
<text x="93.31" y="671" font-size="6.9" fill="#2a2a2a" stroke="#2a2a2a" stroke-width="0.18" text-anchor="end" transform="rotate(-45 93.31 671)">ELP</text>
<text x="103.42" y="671" font-size="6.9" fill="#2a2a2a" stroke="#2a2a2a" stroke-width="0.18" text-anchor="end" transform="rotate(-45 103.42 671)">PreProB</text>
<text x="113.53" y="671" font-size="6.9" fill="#2a2a2a" stroke="#2a2a2a" stroke-width="0.18" text-anchor="end" transform="rotate(-45 113.53 671)">ProB</text>
<line x1="149" y1="654.2" x2="209" y2="654.2" stroke="#a39d90" stroke-width="1" stroke-dasharray="3.8 1.45"/>
<line x1="153.79" y1="648.6" x2="153.79" y2="654.2" stroke="#aaaaa2" stroke-width="1"/>
<line x1="173.76" y1="652" x2="173.76" y2="654.2" stroke="#aaaaa2" stroke-width="1"/>
<line x1="183.74" y1="646.8" x2="183.74" y2="654.2" stroke="#aaaaa2" stroke-width="1"/>
<line x1="163.77" y1="653" x2="163.77" y2="654.2" stroke="#aaaaa2" stroke-width="1"/>
<path d="M193.28 611L194.18 611L194.53 653.5L192.93 653.5Z" fill="url(#tg)"/>
<path d="M193.73 651.5C194.28 652.99 198.33 653.61 198.33 654.2C198.33 655.28 194.88 656 193.73 656.6C192.58 656 189.13 655.28 189.13 654.2C189.13 653.61 193.17 652.99 193.73 651.5Z" fill="#84cc34" stroke="#000" stroke-opacity="0.35" stroke-width="0.4"/>
<circle cx="193.73" cy="654.2" r="0.8" fill="#fff" fill-opacity="0.8"/>
<path d="M203.26 602.5L204.16 602.5L204.51 648.5L202.91 648.5Z" fill="url(#tg)"/>
<path d="M203.21 646.8L204.21 646.8L204.81 648.5L202.61 648.5Z" fill="#1f5f20"/>
<path d="M203.71 646.5C204.32 650.08 208.81 651.57 208.81 653C208.81 655.79 204.98 657.65 203.71 659.2C202.43 657.65 198.61 655.79 198.61 653C198.61 651.57 203.1 650.08 203.71 646.5Z" fill="#1f5f20" stroke="#000" stroke-opacity="0.35" stroke-width="0.4"/>
<line x1="203.71" y1="648.73" x2="203.71" y2="656.67" stroke="#fff" stroke-width="0.35" stroke-opacity="0.6"/>
<rect x="202.81" y="650.73" width="1.8" height="4.45" fill="none" stroke="#fff" stroke-width="0.35" stroke-opacity="0.6"/>
<circle cx="203.71" cy="652.95" r="0.55" fill="#fff" fill-opacity="0.7"/>
<rect x="147.8" y="600.2" width="61.9" height="62.1" fill="none" stroke="#1a1a1a" stroke-width="1.3"/>
<line x1="144.4" y1="607" x2="147.8" y2="607" stroke="#1a1a1a" stroke-width="1.1"/>
<text x="141.1" y="609.55" font-size="7.3" fill="#2a2a2a" stroke="#2a2a2a" stroke-width="0.18" text-anchor="end">0.4</text>
<line x1="144.4" y1="619" x2="147.8" y2="619" stroke="#1a1a1a" stroke-width="1.1"/>
<text x="141.1" y="621.55" font-size="7.3" fill="#2a2a2a" stroke="#2a2a2a" stroke-width="0.18" text-anchor="end">0.3</text>
<line x1="144.4" y1="630.8" x2="147.8" y2="630.8" stroke="#1a1a1a" stroke-width="1.1"/>
<text x="141.1" y="633.35" font-size="7.3" fill="#2a2a2a" stroke="#2a2a2a" stroke-width="0.18" text-anchor="end">0.2</text>
<line x1="144.4" y1="642.5" x2="147.8" y2="642.5" stroke="#1a1a1a" stroke-width="1.1"/>
<text x="141.1" y="645.05" font-size="7.3" fill="#2a2a2a" stroke="#2a2a2a" stroke-width="0.18" text-anchor="end">0.1</text>
<line x1="144.4" y1="654.5" x2="147.8" y2="654.5" stroke="#1a1a1a" stroke-width="1.1"/>
<text x="141.1" y="657.05" font-size="7.3" fill="#2a2a2a" stroke="#2a2a2a" stroke-width="0.18" text-anchor="end">0.0</text>
<line x1="153.79" y1="662.3" x2="153.79" y2="665.7" stroke="#1a1a1a" stroke-width="1.1"/>
<line x1="163.77" y1="662.3" x2="163.77" y2="665.7" stroke="#1a1a1a" stroke-width="1.1"/>
<line x1="173.76" y1="662.3" x2="173.76" y2="665.7" stroke="#1a1a1a" stroke-width="1.1"/>
<line x1="183.74" y1="662.3" x2="183.74" y2="665.7" stroke="#1a1a1a" stroke-width="1.1"/>
<line x1="193.73" y1="662.3" x2="193.73" y2="665.7" stroke="#1a1a1a" stroke-width="1.1"/>
<line x1="203.71" y1="662.3" x2="203.71" y2="665.7" stroke="#1a1a1a" stroke-width="1.1"/>
<text x="151.9" y="608.7" font-size="6.8" fill="#1a1a1a" stroke="#1a1a1a" stroke-width="0.15" font-style="italic" textLength="12.1" lengthAdjust="spacingAndGlyphs">CD9</text>
<text x="157.19" y="671" font-size="6.9" fill="#2a2a2a" stroke="#2a2a2a" stroke-width="0.18" text-anchor="end" transform="rotate(-45 157.19 671)">HSC</text>
<text x="167.17" y="671" font-size="6.9" fill="#2a2a2a" stroke="#2a2a2a" stroke-width="0.18" text-anchor="end" transform="rotate(-45 167.17 671)">MPP</text>
<text x="177.16" y="671" font-size="6.9" fill="#2a2a2a" stroke="#2a2a2a" stroke-width="0.18" text-anchor="end" transform="rotate(-45 177.16 671)">LMPP</text>
<text x="187.14" y="671" font-size="6.9" fill="#2a2a2a" stroke="#2a2a2a" stroke-width="0.18" text-anchor="end" transform="rotate(-45 187.14 671)">ELP</text>
<text x="197.13" y="671" font-size="6.9" fill="#2a2a2a" stroke="#2a2a2a" stroke-width="0.18" text-anchor="end" transform="rotate(-45 197.13 671)">PreProB</text>
<text x="207.11" y="671" font-size="6.9" fill="#2a2a2a" stroke="#2a2a2a" stroke-width="0.18" text-anchor="end" transform="rotate(-45 207.11 671)">ProB</text>
<line x1="242.5" y1="654.8" x2="303.5" y2="654.8" stroke="#a39d90" stroke-width="1" stroke-dasharray="3.8 1.45"/>
<path d="M277.37 628.3L278.27 628.3L278.62 652.5L277.02 652.5Z" fill="url(#tg)"/>
<path d="M277.82 650.5C278.35 652.87 282.22 653.85 282.22 654.8C282.22 656.69 278.92 657.95 277.82 659C276.72 657.95 273.42 656.69 273.42 654.8C273.42 653.85 277.29 652.87 277.82 650.5Z" fill="#7b1a8e" stroke="#000" stroke-opacity="0.35" stroke-width="0.4"/>
<line x1="277.82" y1="651.29" x2="277.82" y2="657.77" stroke="#fff" stroke-width="0.35" stroke-opacity="0.6"/>
<rect x="276.92" y="653.29" width="1.8" height="2.98" fill="none" stroke="#fff" stroke-width="0.35" stroke-opacity="0.6"/>
<circle cx="277.82" cy="654.78" r="0.55" fill="#fff" fill-opacity="0.7"/>
<path d="M287.52 602.5L288.42 602.5L288.77 650.8L287.17 650.8Z" fill="url(#tg)"/>
<path d="M287.47 649.2L288.47 649.2L289.07 650.8L286.87 650.8Z" fill="#84cc34"/>
<path d="M287.97 648.8C288.56 651.93 292.87 653.25 292.87 654.5C292.87 657.07 289.19 658.78 287.97 660.2C286.74 658.78 283.07 657.07 283.07 654.5C283.07 653.25 287.38 651.93 287.97 648.8Z" fill="#84cc34" stroke="#000" stroke-opacity="0.35" stroke-width="0.4"/>
<line x1="287.97" y1="650.5" x2="287.97" y2="658" stroke="#fff" stroke-width="0.35" stroke-opacity="0.6"/>
<rect x="287.07" y="652.5" width="1.8" height="3.99" fill="none" stroke="#fff" stroke-width="0.35" stroke-opacity="0.6"/>
<circle cx="287.97" cy="654.5" r="0.55" fill="#fff" fill-opacity="0.7"/>
<path d="M297.66 622.8L298.56 622.8L298.91 652L297.31 652Z" fill="url(#tg)"/>
<path d="M298.11 650C298.66 652.64 302.71 653.74 302.71 654.8C302.71 656.69 299.26 657.95 298.11 659C296.96 657.95 293.51 656.69 293.51 654.8C293.51 653.74 297.56 652.64 298.11 650Z" fill="#1f5f20" stroke="#000" stroke-opacity="0.35" stroke-width="0.4"/>
<line x1="298.11" y1="651.12" x2="298.11" y2="657.77" stroke="#fff" stroke-width="0.35" stroke-opacity="0.6"/>
<rect x="297.21" y="653.12" width="1.8" height="3.15" fill="none" stroke="#fff" stroke-width="0.35" stroke-opacity="0.6"/>
<circle cx="298.11" cy="654.69" r="0.55" fill="#fff" fill-opacity="0.7"/>
<rect x="241.3" y="600.2" width="62.9" height="62.1" fill="none" stroke="#1a1a1a" stroke-width="1.3"/>
<line x1="237.9" y1="605.5" x2="241.3" y2="605.5" stroke="#1a1a1a" stroke-width="1.1"/>
<text x="234.6" y="608.05" font-size="7.3" fill="#2a2a2a" stroke="#2a2a2a" stroke-width="0.18" text-anchor="end">0.20</text>
<line x1="237.9" y1="617.5" x2="241.3" y2="617.5" stroke="#1a1a1a" stroke-width="1.1"/>
<text x="234.6" y="620.05" font-size="7.3" fill="#2a2a2a" stroke="#2a2a2a" stroke-width="0.18" text-anchor="end">0.15</text>
<line x1="237.9" y1="630" x2="241.3" y2="630" stroke="#1a1a1a" stroke-width="1.1"/>
<text x="234.6" y="632.55" font-size="7.3" fill="#2a2a2a" stroke="#2a2a2a" stroke-width="0.18" text-anchor="end">0.10</text>
<line x1="237.9" y1="642" x2="241.3" y2="642" stroke="#1a1a1a" stroke-width="1.1"/>
<text x="234.6" y="644.55" font-size="7.3" fill="#2a2a2a" stroke="#2a2a2a" stroke-width="0.18" text-anchor="end">0.05</text>
<line x1="237.9" y1="654.5" x2="241.3" y2="654.5" stroke="#1a1a1a" stroke-width="1.1"/>
<text x="234.6" y="657.05" font-size="7.3" fill="#2a2a2a" stroke="#2a2a2a" stroke-width="0.18" text-anchor="end">0.00</text>
<line x1="247.39" y1="662.3" x2="247.39" y2="665.7" stroke="#1a1a1a" stroke-width="1.1"/>
<line x1="257.53" y1="662.3" x2="257.53" y2="665.7" stroke="#1a1a1a" stroke-width="1.1"/>
<line x1="267.68" y1="662.3" x2="267.68" y2="665.7" stroke="#1a1a1a" stroke-width="1.1"/>
<line x1="277.82" y1="662.3" x2="277.82" y2="665.7" stroke="#1a1a1a" stroke-width="1.1"/>
<line x1="287.97" y1="662.3" x2="287.97" y2="665.7" stroke="#1a1a1a" stroke-width="1.1"/>
<line x1="298.11" y1="662.3" x2="298.11" y2="665.7" stroke="#1a1a1a" stroke-width="1.1"/>
<text x="246.8" y="608.7" font-size="6.8" fill="#1a1a1a" stroke="#1a1a1a" stroke-width="0.15" font-style="italic" textLength="19" lengthAdjust="spacingAndGlyphs">MS4A1</text>
<text x="250.79" y="671" font-size="6.9" fill="#2a2a2a" stroke="#2a2a2a" stroke-width="0.18" text-anchor="end" transform="rotate(-45 250.79 671)">HSC</text>
<text x="260.93" y="671" font-size="6.9" fill="#2a2a2a" stroke="#2a2a2a" stroke-width="0.18" text-anchor="end" transform="rotate(-45 260.93 671)">MPP</text>
<text x="271.08" y="671" font-size="6.9" fill="#2a2a2a" stroke="#2a2a2a" stroke-width="0.18" text-anchor="end" transform="rotate(-45 271.08 671)">LMPP</text>
<text x="281.22" y="671" font-size="6.9" fill="#2a2a2a" stroke="#2a2a2a" stroke-width="0.18" text-anchor="end" transform="rotate(-45 281.22 671)">ELP</text>
<text x="291.37" y="671" font-size="6.9" fill="#2a2a2a" stroke="#2a2a2a" stroke-width="0.18" text-anchor="end" transform="rotate(-45 291.37 671)">PreProB</text>
<text x="301.51" y="671" font-size="6.9" fill="#2a2a2a" stroke="#2a2a2a" stroke-width="0.18" text-anchor="end" transform="rotate(-45 301.51 671)">ProB</text>
<line x1="332.7" y1="655.4" x2="395.3" y2="655.4" stroke="#a39d90" stroke-width="1" stroke-dasharray="3.8 1.45"/>
<line x1="337.74" y1="644.3" x2="337.74" y2="655.4" stroke="#9a9a92" stroke-width="0.9"/>
<path d="M333.74 655.4L337.74 654.4L341.74 655.4L337.74 656.4Z" fill="#e6b422"/>
<line x1="348.15" y1="653" x2="348.15" y2="655.4" stroke="#aaaaa2" stroke-width="1"/>
<line x1="358.55" y1="651" x2="358.55" y2="655.4" stroke="#9a9a92" stroke-width="0.9"/>
<path d="M354.55 655.4L358.55 654.4L362.55 655.4L358.55 656.4Z" fill="#5fc2b2"/>
<path d="M368.5 639.4L369.4 639.4L369.75 649.5L368.15 649.5Z" fill="url(#tg)"/>
<path d="M368.95 647.5C369.5 650.52 373.55 651.79 373.55 653C373.55 654.98 370.1 656.3 368.95 657.4C367.8 656.3 364.35 654.98 364.35 653C364.35 651.79 368.4 650.52 368.95 647.5Z" fill="#7b1a8e" stroke="#000" stroke-opacity="0.35" stroke-width="0.4"/>
<line x1="368.95" y1="649.08" x2="368.95" y2="656.04" stroke="#fff" stroke-width="0.35" stroke-opacity="0.6"/>
<rect x="368.05" y="651.08" width="1.8" height="3.46" fill="none" stroke="#fff" stroke-width="0.35" stroke-opacity="0.6"/>
<circle cx="368.95" cy="652.81" r="0.55" fill="#fff" fill-opacity="0.7"/>
<path d="M378.9 633.2L379.8 633.2L380.15 644.5L378.55 644.5Z" fill="url(#tg)"/>
<path d="M379.35 642.5C379.97 647.73 384.45 649.91 384.45 652C384.45 654.43 380.63 656.05 379.35 657.4C378.08 656.05 374.25 654.43 374.25 652C374.25 649.91 378.74 647.73 379.35 642.5Z" fill="#84cc34" stroke="#000" stroke-opacity="0.35" stroke-width="0.4"/>
<line x1="379.35" y1="646.67" x2="379.35" y2="655.39" stroke="#fff" stroke-width="0.35" stroke-opacity="0.6"/>
<rect x="378.45" y="648.67" width="1.8" height="5.22" fill="none" stroke="#fff" stroke-width="0.35" stroke-opacity="0.6"/>
<circle cx="379.35" cy="651.28" r="0.55" fill="#fff" fill-opacity="0.7"/>
<path d="M389.31 602.5L390.21 602.5L390.56 637L388.96 637Z" fill="url(#tg)"/>
<path d="M389.76 635C390.41 642.7 395.16 645.92 395.16 649C395.16 653.73 391.11 656.88 389.76 659.5C388.41 656.88 384.36 653.73 384.36 649C384.36 645.92 389.11 642.7 389.76 635Z" fill="#1f5f20" stroke="#000" stroke-opacity="0.35" stroke-width="0.4"/>
<line x1="389.76" y1="642.1" x2="389.76" y2="654.17" stroke="#fff" stroke-width="0.35" stroke-opacity="0.6"/>
<rect x="388.86" y="644.1" width="1.8" height="8.57" fill="none" stroke="#fff" stroke-width="0.35" stroke-opacity="0.6"/>
<circle cx="389.76" cy="648.39" r="0.55" fill="#fff" fill-opacity="0.7"/>
<rect x="331.5" y="600.2" width="64.5" height="62.1" fill="none" stroke="#1a1a1a" stroke-width="1.3"/>
<line x1="328.1" y1="605.2" x2="331.5" y2="605.2" stroke="#1a1a1a" stroke-width="1.1"/>
<text x="324.8" y="607.75" font-size="7.3" fill="#2a2a2a" stroke="#2a2a2a" stroke-width="0.18" text-anchor="end">2.0</text>
<line x1="328.1" y1="617.9" x2="331.5" y2="617.9" stroke="#1a1a1a" stroke-width="1.1"/>
<text x="324.8" y="620.45" font-size="7.3" fill="#2a2a2a" stroke="#2a2a2a" stroke-width="0.18" text-anchor="end">1.5</text>
<line x1="328.1" y1="630" x2="331.5" y2="630" stroke="#1a1a1a" stroke-width="1.1"/>
<text x="324.8" y="632.55" font-size="7.3" fill="#2a2a2a" stroke="#2a2a2a" stroke-width="0.18" text-anchor="end">1.0</text>
<line x1="328.1" y1="642.7" x2="331.5" y2="642.7" stroke="#1a1a1a" stroke-width="1.1"/>
<text x="324.8" y="645.25" font-size="7.3" fill="#2a2a2a" stroke="#2a2a2a" stroke-width="0.18" text-anchor="end">0.5</text>
<line x1="328.1" y1="655" x2="331.5" y2="655" stroke="#1a1a1a" stroke-width="1.1"/>
<text x="324.8" y="657.55" font-size="7.3" fill="#2a2a2a" stroke="#2a2a2a" stroke-width="0.18" text-anchor="end">0.0</text>
<line x1="337.74" y1="662.3" x2="337.74" y2="665.7" stroke="#1a1a1a" stroke-width="1.1"/>
<line x1="348.15" y1="662.3" x2="348.15" y2="665.7" stroke="#1a1a1a" stroke-width="1.1"/>
<line x1="358.55" y1="662.3" x2="358.55" y2="665.7" stroke="#1a1a1a" stroke-width="1.1"/>
<line x1="368.95" y1="662.3" x2="368.95" y2="665.7" stroke="#1a1a1a" stroke-width="1.1"/>
<line x1="379.35" y1="662.3" x2="379.35" y2="665.7" stroke="#1a1a1a" stroke-width="1.1"/>
<line x1="389.76" y1="662.3" x2="389.76" y2="665.7" stroke="#1a1a1a" stroke-width="1.1"/>
<text x="334.75" y="608.7" font-size="6.8" fill="#1a1a1a" stroke="#1a1a1a" stroke-width="0.15" font-style="italic" textLength="13.25" lengthAdjust="spacingAndGlyphs">LEF1</text>
<text x="341.14" y="671" font-size="6.9" fill="#2a2a2a" stroke="#2a2a2a" stroke-width="0.18" text-anchor="end" transform="rotate(-45 341.14 671)">HSC</text>
<text x="351.55" y="671" font-size="6.9" fill="#2a2a2a" stroke="#2a2a2a" stroke-width="0.18" text-anchor="end" transform="rotate(-45 351.55 671)">MPP</text>
<text x="361.95" y="671" font-size="6.9" fill="#2a2a2a" stroke="#2a2a2a" stroke-width="0.18" text-anchor="end" transform="rotate(-45 361.95 671)">LMPP</text>
<text x="372.35" y="671" font-size="6.9" fill="#2a2a2a" stroke="#2a2a2a" stroke-width="0.18" text-anchor="end" transform="rotate(-45 372.35 671)">ELP</text>
<text x="382.75" y="671" font-size="6.9" fill="#2a2a2a" stroke="#2a2a2a" stroke-width="0.18" text-anchor="end" transform="rotate(-45 382.75 671)">PreProB</text>
<text x="393.16" y="671" font-size="6.9" fill="#2a2a2a" stroke="#2a2a2a" stroke-width="0.18" text-anchor="end" transform="rotate(-45 393.16 671)">ProB</text>
<line x1="432.5" y1="653.5" x2="494" y2="653.5" stroke="#a39d90" stroke-width="1" stroke-dasharray="3.8 1.45"/>
<path d="M436.99 643.7L437.89 643.7L438.24 650.3L436.64 650.3Z" fill="url(#tg)"/>
<path d="M437.44 648.3C437.98 650.88 441.94 651.97 441.94 653C441.94 653.99 438.56 654.65 437.44 655.2C436.31 654.65 432.94 653.99 432.94 653C432.94 651.97 436.9 650.88 437.44 648.3Z" fill="#e6b422" stroke="#000" stroke-opacity="0.35" stroke-width="0.4"/>
<circle cx="437.44" cy="653" r="0.8" fill="#fff" fill-opacity="0.8"/>
<path d="M447.21 645L448.11 645L448.46 650.8L446.86 650.8Z" fill="url(#tg)"/>
<path d="M447.66 648.8C448.2 651.11 452.16 652.08 452.16 653C452.16 653.99 448.79 654.65 447.66 655.2C446.54 654.65 443.16 653.99 443.16 653C443.16 652.08 447.12 651.11 447.66 648.8Z" fill="#e0561c" stroke="#000" stroke-opacity="0.35" stroke-width="0.4"/>
<circle cx="447.66" cy="653" r="0.8" fill="#fff" fill-opacity="0.8"/>
<path d="M457.44 646.8L458.34 646.8L458.69 651.3L457.09 651.3Z" fill="url(#tg)"/>
<path d="M457.89 649.3C458.46 651.34 462.69 652.19 462.69 653C462.69 653.99 459.09 654.65 457.89 655.2C456.69 654.65 453.09 653.99 453.09 653C453.09 652.19 457.31 651.34 457.89 649.3Z" fill="#5fc2b2" stroke="#000" stroke-opacity="0.35" stroke-width="0.4"/>
<circle cx="457.89" cy="653" r="0.8" fill="#fff" fill-opacity="0.8"/>
<path d="M467.66 640L468.56 640L468.91 647.5L467.31 647.5Z" fill="url(#tg)"/>
<path d="M468.11 645.5C468.69 649.08 472.91 650.57 472.91 652C472.91 653.89 469.31 655.15 468.11 656.2C466.91 655.15 463.31 653.89 463.31 652C463.31 650.57 467.54 649.08 468.11 645.5Z" fill="#7b1a8e" stroke="#000" stroke-opacity="0.35" stroke-width="0.4"/>
<line x1="468.11" y1="647.73" x2="468.11" y2="654.97" stroke="#fff" stroke-width="0.35" stroke-opacity="0.6"/>
<rect x="467.21" y="649.73" width="1.8" height="3.75" fill="none" stroke="#fff" stroke-width="0.35" stroke-opacity="0.6"/>
<circle cx="468.11" cy="651.6" r="0.55" fill="#fff" fill-opacity="0.7"/>
<path d="M477.89 613L478.79 613L479.14 644.5L477.54 644.5Z" fill="url(#tg)"/>
<path d="M477.84 635.7L478.84 635.7L479.44 644.5L477.24 644.5Z" fill="#84cc34"/>
<path d="M478.34 642.5C478.95 646.62 483.44 648.35 483.44 650C483.44 652.88 479.61 654.8 478.34 656.4C477.06 654.8 473.24 652.88 473.24 650C473.24 648.35 477.73 646.62 478.34 642.5Z" fill="#84cc34" stroke="#000" stroke-opacity="0.35" stroke-width="0.4"/>
<line x1="478.34" y1="645.38" x2="478.34" y2="653.74" stroke="#fff" stroke-width="0.35" stroke-opacity="0.6"/>
<rect x="477.44" y="647.38" width="1.8" height="4.87" fill="none" stroke="#fff" stroke-width="0.35" stroke-opacity="0.6"/>
<circle cx="478.34" cy="649.81" r="0.55" fill="#fff" fill-opacity="0.7"/>
<path d="M488.11 602.5L489.01 602.5L489.36 637.5L487.76 637.5Z" fill="url(#tg)"/>
<path d="M488.06 632L489.06 632L489.66 637.5L487.46 637.5Z" fill="#1f5f20"/>
<path d="M488.56 635.5C489.21 642.38 493.96 645.25 493.96 648C493.96 652.5 489.91 655.5 488.56 658C487.21 655.5 483.16 652.5 483.16 648C483.16 645.25 487.92 642.38 488.56 635.5Z" fill="#1f5f20" stroke="#000" stroke-opacity="0.35" stroke-width="0.4"/>
<line x1="488.56" y1="641.62" x2="488.56" y2="653" stroke="#fff" stroke-width="0.35" stroke-opacity="0.6"/>
<rect x="487.66" y="643.62" width="1.8" height="7.88" fill="none" stroke="#fff" stroke-width="0.35" stroke-opacity="0.6"/>
<circle cx="488.56" cy="647.56" r="0.55" fill="#fff" fill-opacity="0.7"/>
<rect x="431.3" y="600.2" width="63.4" height="62.1" fill="none" stroke="#1a1a1a" stroke-width="1.3"/>
<line x1="427.9" y1="608.5" x2="431.3" y2="608.5" stroke="#1a1a1a" stroke-width="1.1"/>
<text x="424.6" y="611.05" font-size="7.3" fill="#2a2a2a" stroke="#2a2a2a" stroke-width="0.18" text-anchor="end">0.3</text>
<line x1="427.9" y1="623.3" x2="431.3" y2="623.3" stroke="#1a1a1a" stroke-width="1.1"/>
<text x="424.6" y="625.85" font-size="7.3" fill="#2a2a2a" stroke="#2a2a2a" stroke-width="0.18" text-anchor="end">0.2</text>
<line x1="427.9" y1="638.1" x2="431.3" y2="638.1" stroke="#1a1a1a" stroke-width="1.1"/>
<text x="424.6" y="640.65" font-size="7.3" fill="#2a2a2a" stroke="#2a2a2a" stroke-width="0.18" text-anchor="end">0.1</text>
<line x1="427.9" y1="652.9" x2="431.3" y2="652.9" stroke="#1a1a1a" stroke-width="1.1"/>
<text x="424.6" y="655.45" font-size="7.3" fill="#2a2a2a" stroke="#2a2a2a" stroke-width="0.18" text-anchor="end">0.0</text>
<line x1="437.44" y1="662.3" x2="437.44" y2="665.7" stroke="#1a1a1a" stroke-width="1.1"/>
<line x1="447.66" y1="662.3" x2="447.66" y2="665.7" stroke="#1a1a1a" stroke-width="1.1"/>
<line x1="457.89" y1="662.3" x2="457.89" y2="665.7" stroke="#1a1a1a" stroke-width="1.1"/>
<line x1="468.11" y1="662.3" x2="468.11" y2="665.7" stroke="#1a1a1a" stroke-width="1.1"/>
<line x1="478.34" y1="662.3" x2="478.34" y2="665.7" stroke="#1a1a1a" stroke-width="1.1"/>
<line x1="488.56" y1="662.3" x2="488.56" y2="665.7" stroke="#1a1a1a" stroke-width="1.1"/>
<text x="434.75" y="608.7" font-size="6.8" fill="#1a1a1a" stroke="#1a1a1a" stroke-width="0.15" font-style="italic" textLength="13.55" lengthAdjust="spacingAndGlyphs">TCF3</text>
<text x="440.84" y="671" font-size="6.9" fill="#2a2a2a" stroke="#2a2a2a" stroke-width="0.18" text-anchor="end" transform="rotate(-45 440.84 671)">HSC</text>
<text x="451.06" y="671" font-size="6.9" fill="#2a2a2a" stroke="#2a2a2a" stroke-width="0.18" text-anchor="end" transform="rotate(-45 451.06 671)">MPP</text>
<text x="461.29" y="671" font-size="6.9" fill="#2a2a2a" stroke="#2a2a2a" stroke-width="0.18" text-anchor="end" transform="rotate(-45 461.29 671)">LMPP</text>
<text x="471.51" y="671" font-size="6.9" fill="#2a2a2a" stroke="#2a2a2a" stroke-width="0.18" text-anchor="end" transform="rotate(-45 471.51 671)">ELP</text>
<text x="481.74" y="671" font-size="6.9" fill="#2a2a2a" stroke="#2a2a2a" stroke-width="0.18" text-anchor="end" transform="rotate(-45 481.74 671)">PreProB</text>
<text x="491.96" y="671" font-size="6.9" fill="#2a2a2a" stroke="#2a2a2a" stroke-width="0.18" text-anchor="end" transform="rotate(-45 491.96 671)">ProB</text>
<text x="27.2" y="555" font-size="8.8" fill="#2a2a2a" stroke="#2a2a2a" stroke-width="0.18" text-anchor="middle" textLength="75" lengthAdjust="spacingAndGlyphs" transform="rotate(-90 27.2 555)">Normalized expression</text>
<rect x="0" y="0" width="520" height="1.1" fill="#000"/><rect x="0" y="0" width="1.1" height="701" fill="#000"/><rect x="518.8" y="0" width="1.2" height="701" fill="#000"/><rect x="0" y="699.6" width="520" height="1.4" fill="#000"/>
</svg>
</body></html>
